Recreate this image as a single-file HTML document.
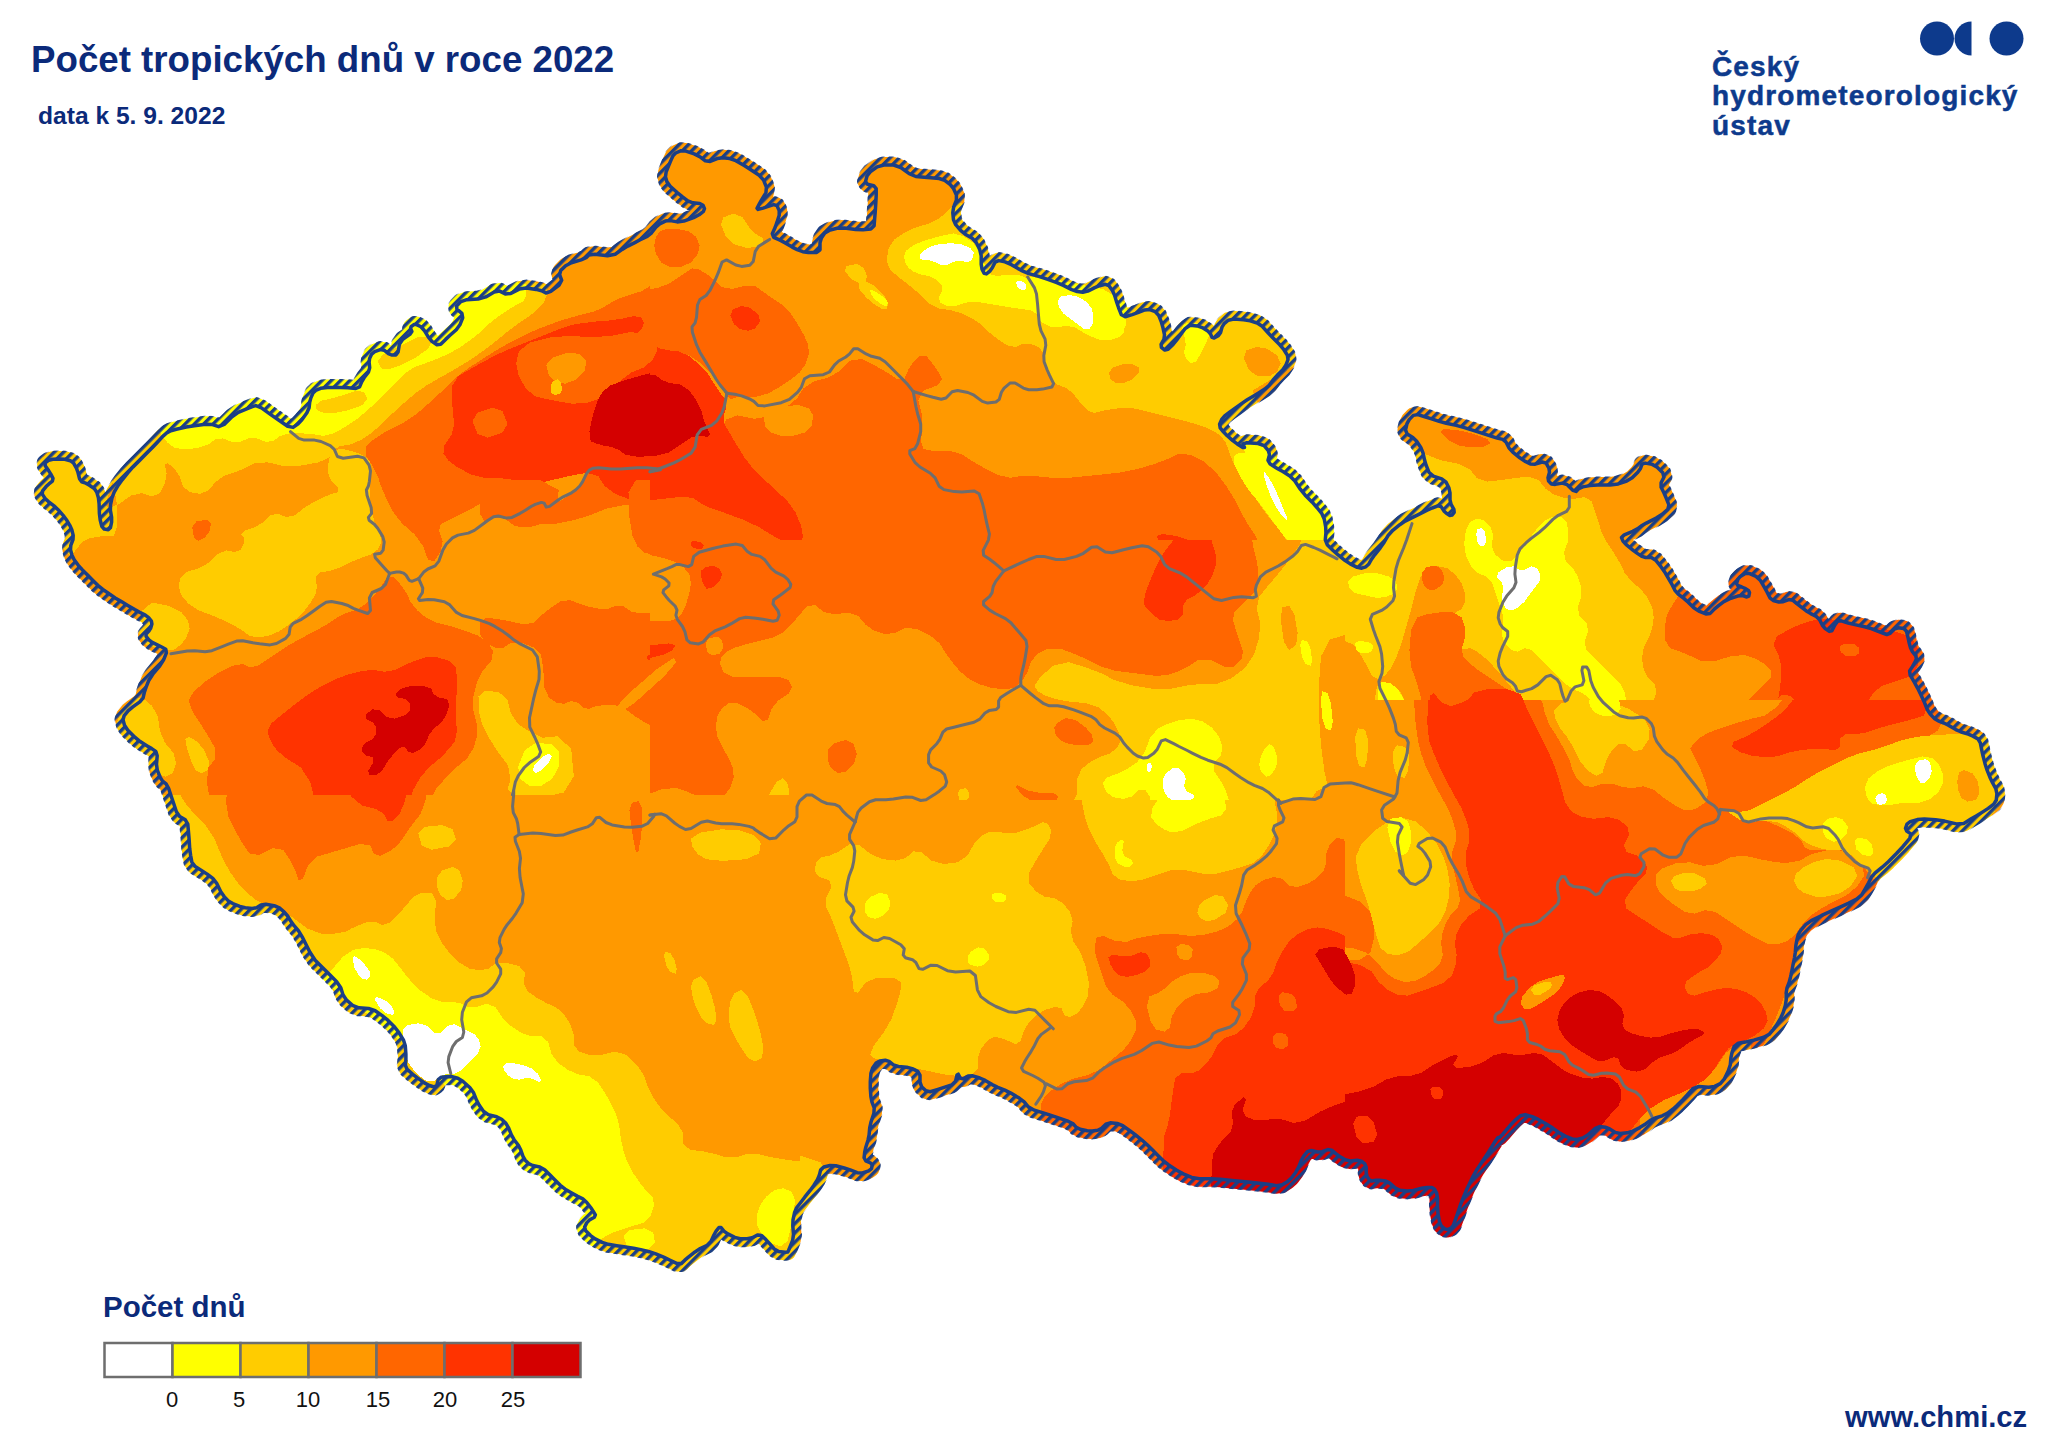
<!DOCTYPE html>
<html><head><meta charset="utf-8"><title>Počet tropických dnů v roce 2022</title>
<style>
html,body{margin:0;padding:0;background:#fff;}
body{width:2048px;height:1449px;position:relative;overflow:hidden;font-family:"Liberation Sans",sans-serif;color:#0b2a7a;}
.t{position:absolute;white-space:nowrap;font-weight:bold;line-height:1;}
#title{left:31px;top:42px;font-size:36.7px;}
#sub{left:38px;top:103.5px;font-size:24.6px;}
#logo{-webkit-text-stroke:0.5px #0d3a8c;left:1712px;top:52px;font-size:28px;line-height:29.3px;letter-spacing:1.15px;color:#0d3a8c;}
#leg{left:103px;top:1292px;font-size:29.5px;}
#www{left:1845px;top:1402.5px;font-size:29.2px;}
.n{position:absolute;top:1388.5px;font-size:22px;color:#111;font-weight:normal;line-height:1;transform:translateX(-50%);}
svg{position:absolute;left:0;top:0;}
</style></head><body>
<svg width="2048" height="1449" viewBox="0 0 2048 1449">
<defs>
<pattern id="hatch" width="6.6" height="6.6" patternUnits="userSpaceOnUse" patternTransform="rotate(-45)">
<rect x="0" y="0" width="6.6" height="3.4" fill="#1b3f86"/>
</pattern>
<mask id="mfill" maskUnits="userSpaceOnUse" x="0" y="0" width="2048" height="1449">
<polygon points="166.4,652.8 165.8,649.2 161.7,647 157.8,645.1 152.2,642.3 148.9,639.8 146.1,636.4 146.1,633.9 148.9,631.1 150.6,628.4 151.9,624.1 151.4,621.1 148.6,617.6 145.3,615.1 139.7,612.3 134.8,609.6 127.8,605.4 122.2,602.1 115.2,597.9 109.8,594.3 102.8,589.4 97.8,585.3 92.2,579.7 87.8,575.3 82.2,569.7 78.3,565.3 74.2,559.7 72,555.3 70.5,549.7 70.8,545.3 73,539.7 73.2,535.3 71.8,529.7 69.8,525.3 66.4,519.7 63.1,515.3 58.1,509.7 54,505.9 48.4,501.6 45.1,498.4 42.3,494.1 42.6,490.9 46.1,486.6 48.9,483.9 52.4,481.1 53,478.4 50.8,474.1 48.6,470.6 45.2,465.7 45.2,462.9 48.6,460.4 52.8,459.3 59.8,459 64.7,459.3 70.3,460.7 73.6,463.1 76.4,468.1 78,472.5 79.5,478.7 81.7,481.8 85.8,483.2 89.4,485.2 94.3,488.6 96.8,492.2 98.4,497.8 99.1,503.9 99.4,513.6 100.2,520 101.8,526.3 104.2,529.1 108.3,529.7 110.4,527.8 111.6,522.2 111.6,517.2 110.4,510.2 110.5,504.8 112,497.8 114.2,492.2 118.3,485.2 122.2,479.8 127.8,472.8 132.8,467.2 139.8,460.2 145.2,454.8 152.2,447.8 157.2,442.5 162.8,436.3 166.7,433 170.8,430.8 176.3,429.2 186.2,427 194.4,425.7 205.6,424.3 212.5,424.6 218.7,426.7 224.2,424.5 232,416.8 238.3,412.4 246.7,408.9 251.7,406.9 255.8,405.6 261.4,407.8 271.1,414.8 278.6,420 287.6,426.3 293.1,427.4 298.1,423.9 301.9,419.8 306.9,412.8 309.1,407.8 309.7,402.2 310.8,398.1 313,393.1 315.7,390.4 320.6,388.3 327.4,387.5 340.1,387.5 348,387.8 355.8,388.5 359.6,386.9 361.7,381.9 364.1,377.8 368.4,372.2 369.7,367.8 369.1,362.2 369.6,358.4 371.7,354.1 374.7,351.7 380.3,349.6 384.1,350.2 388.4,353.6 391.6,355 395.9,355 398.1,352 399.4,344.2 402.8,339.3 409.8,334.4 411.9,331.4 410.6,328.6 411.1,326.7 413.9,324.6 416.6,324.6 420.9,326.7 424.1,330.2 428.4,337.2 431.9,341.4 436.9,344.8 440.7,344.3 445.6,339.4 450,335.3 456.3,329.7 459.9,324.8 462.7,317.8 461.9,313.4 456.9,309.1 456.6,305.9 460.9,301.6 466.9,299.7 478.1,299.1 485.8,296.9 494.2,291.9 499.7,291.1 505.3,293.9 510.8,293.4 519.2,289.1 526.4,288.1 536.1,289.4 541.6,290.8 545.9,293 550.8,291.3 559.2,285 561.7,280.3 559.6,274.7 560.7,270.6 565.6,265.7 571.4,262.7 581.1,259.9 586.1,257.7 588.9,254.9 595,254.3 607.5,255.7 615.2,254.3 622.2,249.4 627.8,246.1 634.8,242.6 640.2,239.8 647.2,236.4 651.6,232.8 655.9,227.2 659.7,223.9 665.3,221.1 670.2,220.6 677.2,221.9 683.9,221.1 693.6,217.6 699.1,214.8 703.4,211.4 704.5,208.6 703,205.2 699.8,203.5 692.8,202.8 687.8,200.8 682.2,196.7 677.2,192.5 670.2,186.3 667,181.9 665.5,176.9 666.1,172.2 668.9,165.2 670.8,160.6 673,155.7 675.7,153 680.6,150.8 685.8,151.1 694.2,153.9 699.7,156.7 705.3,160.8 710.2,161.4 717.2,158.6 722.8,157.8 729.8,158.5 735.8,160.7 744.2,165.6 750.8,169.7 759.2,175.3 763.6,180.2 766.4,187.2 765.9,192.8 761.6,199.8 759.2,204.2 757,208.3 758.1,209.4 763.1,208.1 767.5,206.7 773.7,204.6 777,205.7 779.2,210.6 779.2,215.2 777,222.2 775.1,227.5 772.3,233.7 773.7,237.3 780,240.1 785.2,242.9 792.2,247.1 797.2,249.6 802.8,251.7 808.3,252.5 816.7,252.5 820,249.8 820,242.8 821.4,238.1 824.8,233.1 829.2,230.4 837,228.3 844.4,228.1 855.6,229.4 863,229.7 870.8,229.1 874.1,225.8 874.7,218 875.3,211.2 875.9,201.3 876.2,195 876.2,188.7 873.7,185.7 867.5,184.3 865.5,181.6 867,176 870.2,171.9 877.2,166.9 883.9,165 893.6,165 900.8,167.5 909.2,173.7 915.8,176.5 924.2,177.2 930.8,177.8 939.2,178.5 944.7,180.4 950.3,184.6 953.6,188.7 956.4,195 956.4,200.2 953.6,207.2 952.8,212.8 953.5,219.8 955.7,224.7 960.6,230.3 965.2,234.2 972.2,238.3 976.4,242.8 979.8,249.8 981.2,255.8 981.2,264.2 982,269.1 984.2,273.4 986.4,273.9 989.8,271.1 992.3,267.8 995.1,262.2 998.7,260.6 1005,261.9 1011.4,264.7 1021.1,270.3 1028.8,273.6 1038.7,276.4 1046.3,278.9 1056.2,282.4 1063.3,285.4 1071.7,289.6 1077.2,291.5 1082.8,292.2 1087.8,291.1 1094.8,287.6 1099.7,285.7 1105.3,284.3 1108.9,285.7 1112.4,290.6 1114.6,295.2 1116.7,302.2 1118.6,307.8 1121.4,314.8 1125.2,316.7 1132.2,314.6 1137.8,312.7 1144.8,309.9 1149.7,309.6 1155.3,311.7 1158.6,315.2 1161.4,322.2 1163,327.8 1164.5,334.8 1163.9,339.4 1161.1,344.3 1161.4,347.3 1164.8,350.1 1168.1,349.3 1173.1,344.4 1177.8,338.6 1184.8,328.9 1190.2,325.3 1197.2,325.9 1202.2,327.6 1207.8,331.1 1210.5,333.9 1212,337.4 1214.2,338 1218.3,335.8 1220.5,332.8 1222,327.2 1224.2,323.6 1228.3,320.2 1233.8,319.1 1243.7,319.7 1250.2,320.8 1257.2,323 1262.2,326.3 1267.8,332.5 1272.8,337.8 1279.8,344.8 1283.9,349.7 1287.4,355.3 1288,359.7 1285.8,365.3 1282.8,369.7 1277.2,375.3 1273.3,379.7 1269.2,385.3 1264.8,389.1 1257.8,393.4 1252.8,396.4 1247.2,399.8 1242.2,403.1 1235.2,408.1 1230.3,411.6 1224.7,415.9 1221.7,419.4 1219.6,424.3 1220.2,427.9 1223.6,432.1 1227.2,435.7 1232.8,440.6 1237.2,443.9 1242.8,447.4 1244.5,447.4 1243,443.9 1246.9,442.8 1258.1,443.5 1264.2,445.7 1268.3,450.6 1269.5,454.7 1268,460.3 1270.2,464.1 1277.2,468.4 1282.8,471.6 1289.8,475.9 1294.7,480.8 1300.3,489.2 1305.2,495.2 1312.2,502.2 1316.9,507.5 1321.9,513.7 1324.3,519.2 1325.7,527 1325.9,532.8 1325.3,539.8 1327.2,544.7 1332.8,550.3 1337.8,554.7 1344.8,560.3 1350.2,563.9 1357.2,567.4 1361.7,568.2 1365.8,566.8 1368.6,564.3 1371.4,559.4 1374.7,554.8 1380.3,547.8 1384.2,542.2 1388.3,535.2 1392.8,530.3 1399.8,524.7 1405.2,521.1 1412.2,517.6 1418.3,514.6 1426.7,510.4 1432.2,508 1437.8,505.8 1441.1,506.6 1443.9,510.9 1446.4,513.3 1449.8,515.4 1452,515.1 1454.2,512.3 1453.9,509.3 1451.1,504.4 1450,499.8 1450,492.8 1448.9,487.8 1446.1,482.2 1441.7,478.9 1433.3,476.1 1428.9,472.2 1426.1,465.2 1424.5,459.8 1423,452.8 1420.8,447.5 1416.7,441.3 1412.8,437.4 1407.2,433.9 1405.5,430 1407,423.7 1409.2,419.6 1413.3,415.4 1417.8,414.6 1424.8,416.7 1430.8,418.6 1439.2,421.4 1446.3,423.3 1456.2,425.4 1464.4,427.6 1475.6,431.1 1483.3,433.6 1491.7,436.4 1497.2,438.1 1502.8,439.4 1506.1,442.2 1508.9,447.8 1512.8,452.2 1519.8,457.8 1524.7,461.1 1530.3,463.9 1535.2,464.2 1542.2,462 1546.1,463.1 1548.9,468.1 1549.5,472.2 1548,477.8 1548.6,481.1 1551.4,483.9 1555.2,484.4 1562.2,483.1 1567.2,484.7 1572.8,490.3 1576.1,491.4 1578.9,488.6 1582.8,486.9 1589.8,485.6 1597.5,485 1610,485 1618.3,483.9 1626.7,481.1 1632.2,477.8 1637.8,472.2 1640.5,468.4 1642,464.1 1645.2,463.1 1652.2,464.4 1657.2,467.2 1662.8,472.8 1663.9,477.2 1661.1,482.8 1661.1,487.2 1663.9,492.8 1666.1,497.8 1668.9,504.8 1667.8,509.4 1662.2,514.3 1656.2,518.1 1646.3,523.1 1641.1,526.1 1637.4,528.9 1632.7,531.4 1624.3,534.8 1621.5,537.6 1623,541.1 1626.2,544.7 1633.2,550.3 1637.7,553.6 1641.8,556.4 1645.7,557.5 1651.3,557.5 1655.7,560.2 1661.3,567.2 1665.2,572.8 1669.3,579.8 1672.1,584.7 1674.9,590.3 1678.2,594.1 1683.8,598.4 1688.2,602.2 1693.8,607.8 1698.8,611.1 1705.8,613.9 1710.2,613.4 1714.3,609.1 1718.2,605.9 1723.8,601.6 1729.3,598.9 1737.7,596.1 1742.7,595.5 1746.8,597 1748.8,596.1 1749.5,592.6 1748.4,590.4 1744.9,588.3 1741.8,587 1737.7,585.5 1736.5,583.4 1738,579.1 1740.4,576.4 1745.3,573.6 1749.7,573.6 1756,576.4 1760.2,580.2 1764.3,587.2 1767.1,592.2 1769.9,597.8 1773.2,600.5 1778.8,602 1783.2,601.7 1788.8,599.6 1792.7,600.2 1796.8,603.6 1800.7,606.6 1806.3,610.9 1810.7,613.6 1816.3,616.4 1819.6,619.7 1822.4,625.3 1825.2,628.6 1829.3,631.4 1831.8,630.9 1834,626.6 1835.6,623.9 1837.7,621.1 1841.2,620.8 1848.2,623 1854.8,624.6 1864.7,626.7 1871.2,628.6 1878.2,631.4 1882.7,633 1886.8,634.5 1890.2,633.4 1894.3,629.1 1898.2,627.8 1903.8,628.5 1906.5,631.3 1908,637.5 1909,642.2 1910.5,647.8 1912.4,651.6 1915.8,655.9 1916.4,659.1 1914.3,663.4 1912.4,666.6 1909.6,670.9 1910.2,675.2 1914.3,682.2 1917.7,688.3 1921.8,696.7 1924.6,702.8 1927.4,709.8 1930.2,714.1 1934.3,718.4 1938.2,720.8 1943.8,723 1948.8,725.4 1955.8,729.6 1961.2,732 1968.2,734.2 1972.9,736.1 1977.9,738.9 1980.3,742.8 1981.7,749.8 1983,755.8 1985.2,764.2 1987.1,770.2 1989.9,777.2 1992.4,782.5 1995.8,788.7 1996.9,793.7 1996.3,800 1993.8,804.1 1988.2,808.4 1983.2,811.6 1976.2,815.9 1970.8,819.1 1963.8,823.4 1956.4,823.9 1944.6,821.1 1935.6,819.7 1924.4,819.1 1917.2,819.6 1910.2,821.7 1907,824.1 1905.5,828.4 1906.7,831.1 1910.8,833.9 1909.8,838.3 1902.8,846.7 1896.7,853.3 1888.3,861.7 1882.2,867.2 1875.2,872.8 1871.4,877.2 1868.6,882.8 1865.8,887.8 1861.7,894.8 1856.7,899.1 1848.3,903.4 1840.6,906.9 1829.4,911.9 1821.2,915.7 1811.3,920.6 1805.6,924.7 1800.7,930.3 1798.2,934.7 1796.8,940.3 1795.9,945.2 1795.3,952.2 1794.5,957.8 1793,964.8 1792,970.2 1790.5,977.2 1789.2,982.2 1787,987.8 1786.2,992.8 1786.2,999.8 1785.4,1005.2 1783.3,1012.2 1780.8,1017.8 1776.7,1024.8 1773.3,1029.4 1769.2,1034.3 1763.7,1037.3 1753.8,1040.1 1746.7,1041.8 1738.3,1043.2 1734.2,1046.3 1732,1052.5 1730.9,1057.8 1730.3,1064.8 1728.3,1070.8 1724.2,1079.2 1720.3,1083.6 1714.7,1086.4 1708.7,1087.2 1698.8,1086.5 1692.8,1088.7 1687.2,1095 1682.8,1099.7 1677.2,1105.3 1672.8,1109.2 1667.2,1113.3 1662.2,1115.8 1655.2,1118 1650.3,1120.4 1644.7,1124.6 1639.8,1127.6 1632.8,1131.1 1627.2,1132.8 1620.2,1133.5 1615.3,1132.4 1609.7,1128.9 1605.3,1127.2 1599.7,1126.5 1594.8,1128.7 1587.8,1135 1582.8,1138 1577.2,1139.5 1572.2,1138.9 1565.2,1136.1 1559.8,1133.1 1552.8,1128.1 1546.7,1124.3 1538.3,1119.4 1532.2,1116.7 1525.2,1114.6 1520.3,1115.7 1514.7,1120.6 1509.8,1125.8 1502.8,1134.2 1499.5,1137.5 1498,1137.5 1494.8,1141.9 1487.8,1153.1 1482.8,1160.8 1477.2,1169.2 1473.3,1175.8 1469.2,1184.2 1466.1,1190.8 1462.6,1199.2 1460.1,1205.8 1457.3,1214.2 1455.4,1219.7 1453.3,1225.3 1451.1,1228 1447.6,1229.5 1444.8,1228.9 1441.4,1226.1 1439.5,1221.7 1438,1213.3 1437.5,1206.7 1437.5,1198.3 1436.7,1193.3 1434.6,1189.2 1431.9,1187.5 1426.9,1187.5 1421.7,1188.3 1413.3,1190.4 1407.2,1190.9 1400.2,1190.3 1395.3,1188.1 1389.7,1183.1 1385.3,1180.9 1379.7,1180.3 1375.8,1180.3 1371.7,1180.9 1369.2,1179.8 1367,1176.4 1366.2,1172.8 1366.2,1167.2 1364.8,1163.9 1361.4,1161.1 1357.2,1160.3 1350.2,1160.9 1345.3,1159.8 1339.7,1156.4 1335.8,1153.6 1331.7,1150.2 1327.8,1149.6 1322.2,1151.7 1317.5,1152 1311.3,1150.5 1307.4,1151.7 1303.9,1155.8 1301.4,1160.2 1298.6,1167.2 1295.8,1172.2 1291.7,1177.8 1287.8,1181.4 1282.2,1184.8 1276.7,1185.7 1268.3,1184.3 1259.5,1183.2 1245.5,1181.8 1234.5,1180.7 1220.5,1179.3 1210.6,1178.8 1199.4,1178.8 1191.7,1177.4 1183.3,1173.9 1176.7,1170.3 1168.3,1164.7 1162.8,1160.3 1157.2,1154.7 1152.8,1150.3 1147.2,1144.7 1142.2,1140.3 1135.2,1134.7 1129.8,1130.6 1122.8,1125.7 1117.2,1123.5 1110.2,1122.8 1105.8,1124.2 1101.7,1128.3 1097.8,1130.3 1092.2,1130.9 1087.2,1130.7 1080.2,1129.3 1076.3,1127.4 1073.2,1123.9 1067.2,1120.8 1054.8,1116.7 1045.6,1113.6 1034.4,1110.2 1028.3,1106.9 1024.2,1101.9 1019.2,1098.1 1010.8,1093.1 1004.8,1090.1 997.8,1087.3 992.2,1084.6 985.2,1080.4 979.8,1078 972.8,1075.8 968.1,1076.1 963.1,1078.9 960.4,1078.3 958.3,1074.2 957,1075 955.5,1081.3 951.7,1084.9 943.3,1087.7 937.2,1089.6 930.2,1091.7 925.9,1090.8 921.6,1086.7 920,1082.2 920,1075.2 917.8,1071.4 912.2,1068.6 906.7,1067.2 898.3,1066.5 893.4,1064.8 889.1,1061.4 885.3,1060.3 879.7,1060.9 876.1,1063.1 872.6,1068.1 870.9,1073.3 870.3,1081.7 870.3,1088.3 870.9,1096.7 872,1102.2 874.2,1107.8 873.9,1113.3 871.1,1121.7 869.7,1127.8 869.1,1134.8 868,1140.2 865.8,1147.2 864.7,1152.2 864.1,1157.8 865.7,1160.8 870.6,1163 872.2,1165.2 871.5,1168.6 868.7,1170.8 862.5,1173 857.2,1172.7 850.2,1169.9 844.2,1168 835.8,1165.8 830,1165.5 823.7,1167 820.7,1169.7 819.3,1175.3 817.4,1179.7 813.9,1185.3 810.3,1190.2 804.7,1197.2 800.9,1202.2 796.6,1207.8 794.5,1212.8 793,1219.8 792.8,1225.8 793.5,1234.2 792.7,1240.2 789.9,1247.2 788.5,1250.5 787.8,1252 785,1252.2 778.7,1251.5 774.3,1249 769.4,1243.4 765.9,1239.6 761.6,1235.4 757.8,1234.9 752.2,1237.7 747.2,1238.8 740.2,1238.8 734.8,1237.4 727.8,1233.9 723.9,1231.1 721.1,1227.6 718.9,1227.6 716.1,1231.1 713.9,1235 711.1,1241.3 707.2,1245.2 700.2,1248.6 695,1251.9 688.7,1256.9 684.8,1260.2 681.4,1263.6 677.2,1263.6 670.2,1260.2 664.2,1257.4 655.8,1253.9 649.2,1251.7 640.8,1249.6 633.6,1248.2 623.9,1246.8 616.7,1245.7 608.3,1244.3 602.2,1242.4 595.2,1238.9 590.6,1235.6 585.7,1230.7 584.6,1227.1 586.7,1222.9 589.4,1220.1 594.3,1217.3 595.4,1214.8 593.3,1211.4 590.9,1207.8 586.6,1202.2 582.8,1198.9 577.2,1196.1 572.2,1193.3 565.2,1189.2 560.3,1185.3 554.7,1179.7 550.3,1175.3 544.7,1169.7 539.8,1167 532.8,1165.5 528.6,1163.6 525.2,1160.2 523,1156.3 520.8,1150 518.4,1145.3 514.1,1139.7 511.4,1134.8 508.6,1127.8 505.9,1123.3 501.6,1119.2 496.7,1116.7 488.3,1114.6 483.4,1111.3 479.1,1105 476.4,1099.8 473.6,1092.8 469.8,1087.5 462.8,1081.3 457.8,1078.2 452.2,1076.8 447.5,1076.5 441.3,1077.2 438.2,1079.7 436.8,1085.3 434.3,1087 429.4,1085.5 424.8,1083.1 417.8,1078.1 412.8,1074.3 407.2,1069.4 405.3,1065.3 405.9,1059.7 405.9,1054.2 405.3,1045.8 403.4,1039.8 399.1,1032.8 394.8,1027.2 387.8,1020.2 382.2,1015.6 375.2,1010.7 368.6,1008.5 358.9,1007.8 352.5,1005.3 346.3,999.7 343,994.8 340.8,987.8 336.7,981.7 328.3,973.3 322.2,967.2 315.2,960.2 309.8,952 302.8,938 298.4,930.6 294.1,925.7 291.1,921.6 287.6,916 284.3,912.1 279.4,907.9 274.2,905.7 265.8,904.3 260.9,904.9 256.6,907.7 252.2,908.5 245.2,907.8 239.8,906.4 232.8,903.6 228.3,900.9 224.2,896.6 220.8,891.7 216.7,883.3 212.8,878.4 207.2,874.1 202.2,870.9 195.2,866.6 191.9,862.2 190.6,855.2 189.7,848.6 189.1,838.9 188.5,832 187.8,824.2 185.3,819.8 179.7,816.4 176.4,811.7 173.6,803.3 171.4,796.7 168.6,788.3 166.1,783.9 162.6,781.1 160.1,777.2 157.3,770.2 156.5,764.2 157.2,755.8 155.8,751.4 151.7,748.6 147.2,745.9 140.2,741.6 134.8,737.2 127.8,730.2 124.5,725.3 123,719.7 124.2,715.6 128.3,710.7 132.8,706.9 139.8,701.9 143.1,697.8 144.4,692.2 146.1,687.2 148.9,680.2 152.8,674.2 159.8,665.8 163.6,659.8" fill="#fff" stroke="#fff" stroke-width="16" stroke-linejoin="round"/>
</mask>
<mask id="mout" maskUnits="userSpaceOnUse" x="0" y="0" width="2048" height="1449">
<rect width="2048" height="1449" fill="#fff"/><polygon points="166.4,652.8 165.8,649.2 161.7,647 157.8,645.1 152.2,642.3 148.9,639.8 146.1,636.4 146.1,633.9 148.9,631.1 150.6,628.4 151.9,624.1 151.4,621.1 148.6,617.6 145.3,615.1 139.7,612.3 134.8,609.6 127.8,605.4 122.2,602.1 115.2,597.9 109.8,594.3 102.8,589.4 97.8,585.3 92.2,579.7 87.8,575.3 82.2,569.7 78.3,565.3 74.2,559.7 72,555.3 70.5,549.7 70.8,545.3 73,539.7 73.2,535.3 71.8,529.7 69.8,525.3 66.4,519.7 63.1,515.3 58.1,509.7 54,505.9 48.4,501.6 45.1,498.4 42.3,494.1 42.6,490.9 46.1,486.6 48.9,483.9 52.4,481.1 53,478.4 50.8,474.1 48.6,470.6 45.2,465.7 45.2,462.9 48.6,460.4 52.8,459.3 59.8,459 64.7,459.3 70.3,460.7 73.6,463.1 76.4,468.1 78,472.5 79.5,478.7 81.7,481.8 85.8,483.2 89.4,485.2 94.3,488.6 96.8,492.2 98.4,497.8 99.1,503.9 99.4,513.6 100.2,520 101.8,526.3 104.2,529.1 108.3,529.7 110.4,527.8 111.6,522.2 111.6,517.2 110.4,510.2 110.5,504.8 112,497.8 114.2,492.2 118.3,485.2 122.2,479.8 127.8,472.8 132.8,467.2 139.8,460.2 145.2,454.8 152.2,447.8 157.2,442.5 162.8,436.3 166.7,433 170.8,430.8 176.3,429.2 186.2,427 194.4,425.7 205.6,424.3 212.5,424.6 218.7,426.7 224.2,424.5 232,416.8 238.3,412.4 246.7,408.9 251.7,406.9 255.8,405.6 261.4,407.8 271.1,414.8 278.6,420 287.6,426.3 293.1,427.4 298.1,423.9 301.9,419.8 306.9,412.8 309.1,407.8 309.7,402.2 310.8,398.1 313,393.1 315.7,390.4 320.6,388.3 327.4,387.5 340.1,387.5 348,387.8 355.8,388.5 359.6,386.9 361.7,381.9 364.1,377.8 368.4,372.2 369.7,367.8 369.1,362.2 369.6,358.4 371.7,354.1 374.7,351.7 380.3,349.6 384.1,350.2 388.4,353.6 391.6,355 395.9,355 398.1,352 399.4,344.2 402.8,339.3 409.8,334.4 411.9,331.4 410.6,328.6 411.1,326.7 413.9,324.6 416.6,324.6 420.9,326.7 424.1,330.2 428.4,337.2 431.9,341.4 436.9,344.8 440.7,344.3 445.6,339.4 450,335.3 456.3,329.7 459.9,324.8 462.7,317.8 461.9,313.4 456.9,309.1 456.6,305.9 460.9,301.6 466.9,299.7 478.1,299.1 485.8,296.9 494.2,291.9 499.7,291.1 505.3,293.9 510.8,293.4 519.2,289.1 526.4,288.1 536.1,289.4 541.6,290.8 545.9,293 550.8,291.3 559.2,285 561.7,280.3 559.6,274.7 560.7,270.6 565.6,265.7 571.4,262.7 581.1,259.9 586.1,257.7 588.9,254.9 595,254.3 607.5,255.7 615.2,254.3 622.2,249.4 627.8,246.1 634.8,242.6 640.2,239.8 647.2,236.4 651.6,232.8 655.9,227.2 659.7,223.9 665.3,221.1 670.2,220.6 677.2,221.9 683.9,221.1 693.6,217.6 699.1,214.8 703.4,211.4 704.5,208.6 703,205.2 699.8,203.5 692.8,202.8 687.8,200.8 682.2,196.7 677.2,192.5 670.2,186.3 667,181.9 665.5,176.9 666.1,172.2 668.9,165.2 670.8,160.6 673,155.7 675.7,153 680.6,150.8 685.8,151.1 694.2,153.9 699.7,156.7 705.3,160.8 710.2,161.4 717.2,158.6 722.8,157.8 729.8,158.5 735.8,160.7 744.2,165.6 750.8,169.7 759.2,175.3 763.6,180.2 766.4,187.2 765.9,192.8 761.6,199.8 759.2,204.2 757,208.3 758.1,209.4 763.1,208.1 767.5,206.7 773.7,204.6 777,205.7 779.2,210.6 779.2,215.2 777,222.2 775.1,227.5 772.3,233.7 773.7,237.3 780,240.1 785.2,242.9 792.2,247.1 797.2,249.6 802.8,251.7 808.3,252.5 816.7,252.5 820,249.8 820,242.8 821.4,238.1 824.8,233.1 829.2,230.4 837,228.3 844.4,228.1 855.6,229.4 863,229.7 870.8,229.1 874.1,225.8 874.7,218 875.3,211.2 875.9,201.3 876.2,195 876.2,188.7 873.7,185.7 867.5,184.3 865.5,181.6 867,176 870.2,171.9 877.2,166.9 883.9,165 893.6,165 900.8,167.5 909.2,173.7 915.8,176.5 924.2,177.2 930.8,177.8 939.2,178.5 944.7,180.4 950.3,184.6 953.6,188.7 956.4,195 956.4,200.2 953.6,207.2 952.8,212.8 953.5,219.8 955.7,224.7 960.6,230.3 965.2,234.2 972.2,238.3 976.4,242.8 979.8,249.8 981.2,255.8 981.2,264.2 982,269.1 984.2,273.4 986.4,273.9 989.8,271.1 992.3,267.8 995.1,262.2 998.7,260.6 1005,261.9 1011.4,264.7 1021.1,270.3 1028.8,273.6 1038.7,276.4 1046.3,278.9 1056.2,282.4 1063.3,285.4 1071.7,289.6 1077.2,291.5 1082.8,292.2 1087.8,291.1 1094.8,287.6 1099.7,285.7 1105.3,284.3 1108.9,285.7 1112.4,290.6 1114.6,295.2 1116.7,302.2 1118.6,307.8 1121.4,314.8 1125.2,316.7 1132.2,314.6 1137.8,312.7 1144.8,309.9 1149.7,309.6 1155.3,311.7 1158.6,315.2 1161.4,322.2 1163,327.8 1164.5,334.8 1163.9,339.4 1161.1,344.3 1161.4,347.3 1164.8,350.1 1168.1,349.3 1173.1,344.4 1177.8,338.6 1184.8,328.9 1190.2,325.3 1197.2,325.9 1202.2,327.6 1207.8,331.1 1210.5,333.9 1212,337.4 1214.2,338 1218.3,335.8 1220.5,332.8 1222,327.2 1224.2,323.6 1228.3,320.2 1233.8,319.1 1243.7,319.7 1250.2,320.8 1257.2,323 1262.2,326.3 1267.8,332.5 1272.8,337.8 1279.8,344.8 1283.9,349.7 1287.4,355.3 1288,359.7 1285.8,365.3 1282.8,369.7 1277.2,375.3 1273.3,379.7 1269.2,385.3 1264.8,389.1 1257.8,393.4 1252.8,396.4 1247.2,399.8 1242.2,403.1 1235.2,408.1 1230.3,411.6 1224.7,415.9 1221.7,419.4 1219.6,424.3 1220.2,427.9 1223.6,432.1 1227.2,435.7 1232.8,440.6 1237.2,443.9 1242.8,447.4 1244.5,447.4 1243,443.9 1246.9,442.8 1258.1,443.5 1264.2,445.7 1268.3,450.6 1269.5,454.7 1268,460.3 1270.2,464.1 1277.2,468.4 1282.8,471.6 1289.8,475.9 1294.7,480.8 1300.3,489.2 1305.2,495.2 1312.2,502.2 1316.9,507.5 1321.9,513.7 1324.3,519.2 1325.7,527 1325.9,532.8 1325.3,539.8 1327.2,544.7 1332.8,550.3 1337.8,554.7 1344.8,560.3 1350.2,563.9 1357.2,567.4 1361.7,568.2 1365.8,566.8 1368.6,564.3 1371.4,559.4 1374.7,554.8 1380.3,547.8 1384.2,542.2 1388.3,535.2 1392.8,530.3 1399.8,524.7 1405.2,521.1 1412.2,517.6 1418.3,514.6 1426.7,510.4 1432.2,508 1437.8,505.8 1441.1,506.6 1443.9,510.9 1446.4,513.3 1449.8,515.4 1452,515.1 1454.2,512.3 1453.9,509.3 1451.1,504.4 1450,499.8 1450,492.8 1448.9,487.8 1446.1,482.2 1441.7,478.9 1433.3,476.1 1428.9,472.2 1426.1,465.2 1424.5,459.8 1423,452.8 1420.8,447.5 1416.7,441.3 1412.8,437.4 1407.2,433.9 1405.5,430 1407,423.7 1409.2,419.6 1413.3,415.4 1417.8,414.6 1424.8,416.7 1430.8,418.6 1439.2,421.4 1446.3,423.3 1456.2,425.4 1464.4,427.6 1475.6,431.1 1483.3,433.6 1491.7,436.4 1497.2,438.1 1502.8,439.4 1506.1,442.2 1508.9,447.8 1512.8,452.2 1519.8,457.8 1524.7,461.1 1530.3,463.9 1535.2,464.2 1542.2,462 1546.1,463.1 1548.9,468.1 1549.5,472.2 1548,477.8 1548.6,481.1 1551.4,483.9 1555.2,484.4 1562.2,483.1 1567.2,484.7 1572.8,490.3 1576.1,491.4 1578.9,488.6 1582.8,486.9 1589.8,485.6 1597.5,485 1610,485 1618.3,483.9 1626.7,481.1 1632.2,477.8 1637.8,472.2 1640.5,468.4 1642,464.1 1645.2,463.1 1652.2,464.4 1657.2,467.2 1662.8,472.8 1663.9,477.2 1661.1,482.8 1661.1,487.2 1663.9,492.8 1666.1,497.8 1668.9,504.8 1667.8,509.4 1662.2,514.3 1656.2,518.1 1646.3,523.1 1641.1,526.1 1637.4,528.9 1632.7,531.4 1624.3,534.8 1621.5,537.6 1623,541.1 1626.2,544.7 1633.2,550.3 1637.7,553.6 1641.8,556.4 1645.7,557.5 1651.3,557.5 1655.7,560.2 1661.3,567.2 1665.2,572.8 1669.3,579.8 1672.1,584.7 1674.9,590.3 1678.2,594.1 1683.8,598.4 1688.2,602.2 1693.8,607.8 1698.8,611.1 1705.8,613.9 1710.2,613.4 1714.3,609.1 1718.2,605.9 1723.8,601.6 1729.3,598.9 1737.7,596.1 1742.7,595.5 1746.8,597 1748.8,596.1 1749.5,592.6 1748.4,590.4 1744.9,588.3 1741.8,587 1737.7,585.5 1736.5,583.4 1738,579.1 1740.4,576.4 1745.3,573.6 1749.7,573.6 1756,576.4 1760.2,580.2 1764.3,587.2 1767.1,592.2 1769.9,597.8 1773.2,600.5 1778.8,602 1783.2,601.7 1788.8,599.6 1792.7,600.2 1796.8,603.6 1800.7,606.6 1806.3,610.9 1810.7,613.6 1816.3,616.4 1819.6,619.7 1822.4,625.3 1825.2,628.6 1829.3,631.4 1831.8,630.9 1834,626.6 1835.6,623.9 1837.7,621.1 1841.2,620.8 1848.2,623 1854.8,624.6 1864.7,626.7 1871.2,628.6 1878.2,631.4 1882.7,633 1886.8,634.5 1890.2,633.4 1894.3,629.1 1898.2,627.8 1903.8,628.5 1906.5,631.3 1908,637.5 1909,642.2 1910.5,647.8 1912.4,651.6 1915.8,655.9 1916.4,659.1 1914.3,663.4 1912.4,666.6 1909.6,670.9 1910.2,675.2 1914.3,682.2 1917.7,688.3 1921.8,696.7 1924.6,702.8 1927.4,709.8 1930.2,714.1 1934.3,718.4 1938.2,720.8 1943.8,723 1948.8,725.4 1955.8,729.6 1961.2,732 1968.2,734.2 1972.9,736.1 1977.9,738.9 1980.3,742.8 1981.7,749.8 1983,755.8 1985.2,764.2 1987.1,770.2 1989.9,777.2 1992.4,782.5 1995.8,788.7 1996.9,793.7 1996.3,800 1993.8,804.1 1988.2,808.4 1983.2,811.6 1976.2,815.9 1970.8,819.1 1963.8,823.4 1956.4,823.9 1944.6,821.1 1935.6,819.7 1924.4,819.1 1917.2,819.6 1910.2,821.7 1907,824.1 1905.5,828.4 1906.7,831.1 1910.8,833.9 1909.8,838.3 1902.8,846.7 1896.7,853.3 1888.3,861.7 1882.2,867.2 1875.2,872.8 1871.4,877.2 1868.6,882.8 1865.8,887.8 1861.7,894.8 1856.7,899.1 1848.3,903.4 1840.6,906.9 1829.4,911.9 1821.2,915.7 1811.3,920.6 1805.6,924.7 1800.7,930.3 1798.2,934.7 1796.8,940.3 1795.9,945.2 1795.3,952.2 1794.5,957.8 1793,964.8 1792,970.2 1790.5,977.2 1789.2,982.2 1787,987.8 1786.2,992.8 1786.2,999.8 1785.4,1005.2 1783.3,1012.2 1780.8,1017.8 1776.7,1024.8 1773.3,1029.4 1769.2,1034.3 1763.7,1037.3 1753.8,1040.1 1746.7,1041.8 1738.3,1043.2 1734.2,1046.3 1732,1052.5 1730.9,1057.8 1730.3,1064.8 1728.3,1070.8 1724.2,1079.2 1720.3,1083.6 1714.7,1086.4 1708.7,1087.2 1698.8,1086.5 1692.8,1088.7 1687.2,1095 1682.8,1099.7 1677.2,1105.3 1672.8,1109.2 1667.2,1113.3 1662.2,1115.8 1655.2,1118 1650.3,1120.4 1644.7,1124.6 1639.8,1127.6 1632.8,1131.1 1627.2,1132.8 1620.2,1133.5 1615.3,1132.4 1609.7,1128.9 1605.3,1127.2 1599.7,1126.5 1594.8,1128.7 1587.8,1135 1582.8,1138 1577.2,1139.5 1572.2,1138.9 1565.2,1136.1 1559.8,1133.1 1552.8,1128.1 1546.7,1124.3 1538.3,1119.4 1532.2,1116.7 1525.2,1114.6 1520.3,1115.7 1514.7,1120.6 1509.8,1125.8 1502.8,1134.2 1499.5,1137.5 1498,1137.5 1494.8,1141.9 1487.8,1153.1 1482.8,1160.8 1477.2,1169.2 1473.3,1175.8 1469.2,1184.2 1466.1,1190.8 1462.6,1199.2 1460.1,1205.8 1457.3,1214.2 1455.4,1219.7 1453.3,1225.3 1451.1,1228 1447.6,1229.5 1444.8,1228.9 1441.4,1226.1 1439.5,1221.7 1438,1213.3 1437.5,1206.7 1437.5,1198.3 1436.7,1193.3 1434.6,1189.2 1431.9,1187.5 1426.9,1187.5 1421.7,1188.3 1413.3,1190.4 1407.2,1190.9 1400.2,1190.3 1395.3,1188.1 1389.7,1183.1 1385.3,1180.9 1379.7,1180.3 1375.8,1180.3 1371.7,1180.9 1369.2,1179.8 1367,1176.4 1366.2,1172.8 1366.2,1167.2 1364.8,1163.9 1361.4,1161.1 1357.2,1160.3 1350.2,1160.9 1345.3,1159.8 1339.7,1156.4 1335.8,1153.6 1331.7,1150.2 1327.8,1149.6 1322.2,1151.7 1317.5,1152 1311.3,1150.5 1307.4,1151.7 1303.9,1155.8 1301.4,1160.2 1298.6,1167.2 1295.8,1172.2 1291.7,1177.8 1287.8,1181.4 1282.2,1184.8 1276.7,1185.7 1268.3,1184.3 1259.5,1183.2 1245.5,1181.8 1234.5,1180.7 1220.5,1179.3 1210.6,1178.8 1199.4,1178.8 1191.7,1177.4 1183.3,1173.9 1176.7,1170.3 1168.3,1164.7 1162.8,1160.3 1157.2,1154.7 1152.8,1150.3 1147.2,1144.7 1142.2,1140.3 1135.2,1134.7 1129.8,1130.6 1122.8,1125.7 1117.2,1123.5 1110.2,1122.8 1105.8,1124.2 1101.7,1128.3 1097.8,1130.3 1092.2,1130.9 1087.2,1130.7 1080.2,1129.3 1076.3,1127.4 1073.2,1123.9 1067.2,1120.8 1054.8,1116.7 1045.6,1113.6 1034.4,1110.2 1028.3,1106.9 1024.2,1101.9 1019.2,1098.1 1010.8,1093.1 1004.8,1090.1 997.8,1087.3 992.2,1084.6 985.2,1080.4 979.8,1078 972.8,1075.8 968.1,1076.1 963.1,1078.9 960.4,1078.3 958.3,1074.2 957,1075 955.5,1081.3 951.7,1084.9 943.3,1087.7 937.2,1089.6 930.2,1091.7 925.9,1090.8 921.6,1086.7 920,1082.2 920,1075.2 917.8,1071.4 912.2,1068.6 906.7,1067.2 898.3,1066.5 893.4,1064.8 889.1,1061.4 885.3,1060.3 879.7,1060.9 876.1,1063.1 872.6,1068.1 870.9,1073.3 870.3,1081.7 870.3,1088.3 870.9,1096.7 872,1102.2 874.2,1107.8 873.9,1113.3 871.1,1121.7 869.7,1127.8 869.1,1134.8 868,1140.2 865.8,1147.2 864.7,1152.2 864.1,1157.8 865.7,1160.8 870.6,1163 872.2,1165.2 871.5,1168.6 868.7,1170.8 862.5,1173 857.2,1172.7 850.2,1169.9 844.2,1168 835.8,1165.8 830,1165.5 823.7,1167 820.7,1169.7 819.3,1175.3 817.4,1179.7 813.9,1185.3 810.3,1190.2 804.7,1197.2 800.9,1202.2 796.6,1207.8 794.5,1212.8 793,1219.8 792.8,1225.8 793.5,1234.2 792.7,1240.2 789.9,1247.2 788.5,1250.5 787.8,1252 785,1252.2 778.7,1251.5 774.3,1249 769.4,1243.4 765.9,1239.6 761.6,1235.4 757.8,1234.9 752.2,1237.7 747.2,1238.8 740.2,1238.8 734.8,1237.4 727.8,1233.9 723.9,1231.1 721.1,1227.6 718.9,1227.6 716.1,1231.1 713.9,1235 711.1,1241.3 707.2,1245.2 700.2,1248.6 695,1251.9 688.7,1256.9 684.8,1260.2 681.4,1263.6 677.2,1263.6 670.2,1260.2 664.2,1257.4 655.8,1253.9 649.2,1251.7 640.8,1249.6 633.6,1248.2 623.9,1246.8 616.7,1245.7 608.3,1244.3 602.2,1242.4 595.2,1238.9 590.6,1235.6 585.7,1230.7 584.6,1227.1 586.7,1222.9 589.4,1220.1 594.3,1217.3 595.4,1214.8 593.3,1211.4 590.9,1207.8 586.6,1202.2 582.8,1198.9 577.2,1196.1 572.2,1193.3 565.2,1189.2 560.3,1185.3 554.7,1179.7 550.3,1175.3 544.7,1169.7 539.8,1167 532.8,1165.5 528.6,1163.6 525.2,1160.2 523,1156.3 520.8,1150 518.4,1145.3 514.1,1139.7 511.4,1134.8 508.6,1127.8 505.9,1123.3 501.6,1119.2 496.7,1116.7 488.3,1114.6 483.4,1111.3 479.1,1105 476.4,1099.8 473.6,1092.8 469.8,1087.5 462.8,1081.3 457.8,1078.2 452.2,1076.8 447.5,1076.5 441.3,1077.2 438.2,1079.7 436.8,1085.3 434.3,1087 429.4,1085.5 424.8,1083.1 417.8,1078.1 412.8,1074.3 407.2,1069.4 405.3,1065.3 405.9,1059.7 405.9,1054.2 405.3,1045.8 403.4,1039.8 399.1,1032.8 394.8,1027.2 387.8,1020.2 382.2,1015.6 375.2,1010.7 368.6,1008.5 358.9,1007.8 352.5,1005.3 346.3,999.7 343,994.8 340.8,987.8 336.7,981.7 328.3,973.3 322.2,967.2 315.2,960.2 309.8,952 302.8,938 298.4,930.6 294.1,925.7 291.1,921.6 287.6,916 284.3,912.1 279.4,907.9 274.2,905.7 265.8,904.3 260.9,904.9 256.6,907.7 252.2,908.5 245.2,907.8 239.8,906.4 232.8,903.6 228.3,900.9 224.2,896.6 220.8,891.7 216.7,883.3 212.8,878.4 207.2,874.1 202.2,870.9 195.2,866.6 191.9,862.2 190.6,855.2 189.7,848.6 189.1,838.9 188.5,832 187.8,824.2 185.3,819.8 179.7,816.4 176.4,811.7 173.6,803.3 171.4,796.7 168.6,788.3 166.1,783.9 162.6,781.1 160.1,777.2 157.3,770.2 156.5,764.2 157.2,755.8 155.8,751.4 151.7,748.6 147.2,745.9 140.2,741.6 134.8,737.2 127.8,730.2 124.5,725.3 123,719.7 124.2,715.6 128.3,710.7 132.8,706.9 139.8,701.9 143.1,697.8 144.4,692.2 146.1,687.2 148.9,680.2 152.8,674.2 159.8,665.8 163.6,659.8" fill="#000"/>
</mask>
<clipPath id="cZ1"><rect x="0" y="130" width="650" height="665"/></clipPath>
<clipPath id="cZ2"><rect x="650" y="130" width="695" height="410"/></clipPath>
<clipPath id="cZ3"><rect x="1345" y="130" width="703" height="570"/></clipPath>
<clipPath id="cZ4"><rect x="650" y="540" width="695" height="260"/></clipPath>
<clipPath id="cZ5"><rect x="0" y="795" width="800" height="654"/></clipPath>
<clipPath id="cZ6"><rect x="800" y="800" width="545" height="649"/></clipPath>
<clipPath id="cZ7"><rect x="1345" y="700" width="703" height="749"/></clipPath>
<clipPath id="cin"><polygon points="166.4,652.8 165.8,649.2 161.7,647 157.8,645.1 152.2,642.3 148.9,639.8 146.1,636.4 146.1,633.9 148.9,631.1 150.6,628.4 151.9,624.1 151.4,621.1 148.6,617.6 145.3,615.1 139.7,612.3 134.8,609.6 127.8,605.4 122.2,602.1 115.2,597.9 109.8,594.3 102.8,589.4 97.8,585.3 92.2,579.7 87.8,575.3 82.2,569.7 78.3,565.3 74.2,559.7 72,555.3 70.5,549.7 70.8,545.3 73,539.7 73.2,535.3 71.8,529.7 69.8,525.3 66.4,519.7 63.1,515.3 58.1,509.7 54,505.9 48.4,501.6 45.1,498.4 42.3,494.1 42.6,490.9 46.1,486.6 48.9,483.9 52.4,481.1 53,478.4 50.8,474.1 48.6,470.6 45.2,465.7 45.2,462.9 48.6,460.4 52.8,459.3 59.8,459 64.7,459.3 70.3,460.7 73.6,463.1 76.4,468.1 78,472.5 79.5,478.7 81.7,481.8 85.8,483.2 89.4,485.2 94.3,488.6 96.8,492.2 98.4,497.8 99.1,503.9 99.4,513.6 100.2,520 101.8,526.3 104.2,529.1 108.3,529.7 110.4,527.8 111.6,522.2 111.6,517.2 110.4,510.2 110.5,504.8 112,497.8 114.2,492.2 118.3,485.2 122.2,479.8 127.8,472.8 132.8,467.2 139.8,460.2 145.2,454.8 152.2,447.8 157.2,442.5 162.8,436.3 166.7,433 170.8,430.8 176.3,429.2 186.2,427 194.4,425.7 205.6,424.3 212.5,424.6 218.7,426.7 224.2,424.5 232,416.8 238.3,412.4 246.7,408.9 251.7,406.9 255.8,405.6 261.4,407.8 271.1,414.8 278.6,420 287.6,426.3 293.1,427.4 298.1,423.9 301.9,419.8 306.9,412.8 309.1,407.8 309.7,402.2 310.8,398.1 313,393.1 315.7,390.4 320.6,388.3 327.4,387.5 340.1,387.5 348,387.8 355.8,388.5 359.6,386.9 361.7,381.9 364.1,377.8 368.4,372.2 369.7,367.8 369.1,362.2 369.6,358.4 371.7,354.1 374.7,351.7 380.3,349.6 384.1,350.2 388.4,353.6 391.6,355 395.9,355 398.1,352 399.4,344.2 402.8,339.3 409.8,334.4 411.9,331.4 410.6,328.6 411.1,326.7 413.9,324.6 416.6,324.6 420.9,326.7 424.1,330.2 428.4,337.2 431.9,341.4 436.9,344.8 440.7,344.3 445.6,339.4 450,335.3 456.3,329.7 459.9,324.8 462.7,317.8 461.9,313.4 456.9,309.1 456.6,305.9 460.9,301.6 466.9,299.7 478.1,299.1 485.8,296.9 494.2,291.9 499.7,291.1 505.3,293.9 510.8,293.4 519.2,289.1 526.4,288.1 536.1,289.4 541.6,290.8 545.9,293 550.8,291.3 559.2,285 561.7,280.3 559.6,274.7 560.7,270.6 565.6,265.7 571.4,262.7 581.1,259.9 586.1,257.7 588.9,254.9 595,254.3 607.5,255.7 615.2,254.3 622.2,249.4 627.8,246.1 634.8,242.6 640.2,239.8 647.2,236.4 651.6,232.8 655.9,227.2 659.7,223.9 665.3,221.1 670.2,220.6 677.2,221.9 683.9,221.1 693.6,217.6 699.1,214.8 703.4,211.4 704.5,208.6 703,205.2 699.8,203.5 692.8,202.8 687.8,200.8 682.2,196.7 677.2,192.5 670.2,186.3 667,181.9 665.5,176.9 666.1,172.2 668.9,165.2 670.8,160.6 673,155.7 675.7,153 680.6,150.8 685.8,151.1 694.2,153.9 699.7,156.7 705.3,160.8 710.2,161.4 717.2,158.6 722.8,157.8 729.8,158.5 735.8,160.7 744.2,165.6 750.8,169.7 759.2,175.3 763.6,180.2 766.4,187.2 765.9,192.8 761.6,199.8 759.2,204.2 757,208.3 758.1,209.4 763.1,208.1 767.5,206.7 773.7,204.6 777,205.7 779.2,210.6 779.2,215.2 777,222.2 775.1,227.5 772.3,233.7 773.7,237.3 780,240.1 785.2,242.9 792.2,247.1 797.2,249.6 802.8,251.7 808.3,252.5 816.7,252.5 820,249.8 820,242.8 821.4,238.1 824.8,233.1 829.2,230.4 837,228.3 844.4,228.1 855.6,229.4 863,229.7 870.8,229.1 874.1,225.8 874.7,218 875.3,211.2 875.9,201.3 876.2,195 876.2,188.7 873.7,185.7 867.5,184.3 865.5,181.6 867,176 870.2,171.9 877.2,166.9 883.9,165 893.6,165 900.8,167.5 909.2,173.7 915.8,176.5 924.2,177.2 930.8,177.8 939.2,178.5 944.7,180.4 950.3,184.6 953.6,188.7 956.4,195 956.4,200.2 953.6,207.2 952.8,212.8 953.5,219.8 955.7,224.7 960.6,230.3 965.2,234.2 972.2,238.3 976.4,242.8 979.8,249.8 981.2,255.8 981.2,264.2 982,269.1 984.2,273.4 986.4,273.9 989.8,271.1 992.3,267.8 995.1,262.2 998.7,260.6 1005,261.9 1011.4,264.7 1021.1,270.3 1028.8,273.6 1038.7,276.4 1046.3,278.9 1056.2,282.4 1063.3,285.4 1071.7,289.6 1077.2,291.5 1082.8,292.2 1087.8,291.1 1094.8,287.6 1099.7,285.7 1105.3,284.3 1108.9,285.7 1112.4,290.6 1114.6,295.2 1116.7,302.2 1118.6,307.8 1121.4,314.8 1125.2,316.7 1132.2,314.6 1137.8,312.7 1144.8,309.9 1149.7,309.6 1155.3,311.7 1158.6,315.2 1161.4,322.2 1163,327.8 1164.5,334.8 1163.9,339.4 1161.1,344.3 1161.4,347.3 1164.8,350.1 1168.1,349.3 1173.1,344.4 1177.8,338.6 1184.8,328.9 1190.2,325.3 1197.2,325.9 1202.2,327.6 1207.8,331.1 1210.5,333.9 1212,337.4 1214.2,338 1218.3,335.8 1220.5,332.8 1222,327.2 1224.2,323.6 1228.3,320.2 1233.8,319.1 1243.7,319.7 1250.2,320.8 1257.2,323 1262.2,326.3 1267.8,332.5 1272.8,337.8 1279.8,344.8 1283.9,349.7 1287.4,355.3 1288,359.7 1285.8,365.3 1282.8,369.7 1277.2,375.3 1273.3,379.7 1269.2,385.3 1264.8,389.1 1257.8,393.4 1252.8,396.4 1247.2,399.8 1242.2,403.1 1235.2,408.1 1230.3,411.6 1224.7,415.9 1221.7,419.4 1219.6,424.3 1220.2,427.9 1223.6,432.1 1227.2,435.7 1232.8,440.6 1237.2,443.9 1242.8,447.4 1244.5,447.4 1243,443.9 1246.9,442.8 1258.1,443.5 1264.2,445.7 1268.3,450.6 1269.5,454.7 1268,460.3 1270.2,464.1 1277.2,468.4 1282.8,471.6 1289.8,475.9 1294.7,480.8 1300.3,489.2 1305.2,495.2 1312.2,502.2 1316.9,507.5 1321.9,513.7 1324.3,519.2 1325.7,527 1325.9,532.8 1325.3,539.8 1327.2,544.7 1332.8,550.3 1337.8,554.7 1344.8,560.3 1350.2,563.9 1357.2,567.4 1361.7,568.2 1365.8,566.8 1368.6,564.3 1371.4,559.4 1374.7,554.8 1380.3,547.8 1384.2,542.2 1388.3,535.2 1392.8,530.3 1399.8,524.7 1405.2,521.1 1412.2,517.6 1418.3,514.6 1426.7,510.4 1432.2,508 1437.8,505.8 1441.1,506.6 1443.9,510.9 1446.4,513.3 1449.8,515.4 1452,515.1 1454.2,512.3 1453.9,509.3 1451.1,504.4 1450,499.8 1450,492.8 1448.9,487.8 1446.1,482.2 1441.7,478.9 1433.3,476.1 1428.9,472.2 1426.1,465.2 1424.5,459.8 1423,452.8 1420.8,447.5 1416.7,441.3 1412.8,437.4 1407.2,433.9 1405.5,430 1407,423.7 1409.2,419.6 1413.3,415.4 1417.8,414.6 1424.8,416.7 1430.8,418.6 1439.2,421.4 1446.3,423.3 1456.2,425.4 1464.4,427.6 1475.6,431.1 1483.3,433.6 1491.7,436.4 1497.2,438.1 1502.8,439.4 1506.1,442.2 1508.9,447.8 1512.8,452.2 1519.8,457.8 1524.7,461.1 1530.3,463.9 1535.2,464.2 1542.2,462 1546.1,463.1 1548.9,468.1 1549.5,472.2 1548,477.8 1548.6,481.1 1551.4,483.9 1555.2,484.4 1562.2,483.1 1567.2,484.7 1572.8,490.3 1576.1,491.4 1578.9,488.6 1582.8,486.9 1589.8,485.6 1597.5,485 1610,485 1618.3,483.9 1626.7,481.1 1632.2,477.8 1637.8,472.2 1640.5,468.4 1642,464.1 1645.2,463.1 1652.2,464.4 1657.2,467.2 1662.8,472.8 1663.9,477.2 1661.1,482.8 1661.1,487.2 1663.9,492.8 1666.1,497.8 1668.9,504.8 1667.8,509.4 1662.2,514.3 1656.2,518.1 1646.3,523.1 1641.1,526.1 1637.4,528.9 1632.7,531.4 1624.3,534.8 1621.5,537.6 1623,541.1 1626.2,544.7 1633.2,550.3 1637.7,553.6 1641.8,556.4 1645.7,557.5 1651.3,557.5 1655.7,560.2 1661.3,567.2 1665.2,572.8 1669.3,579.8 1672.1,584.7 1674.9,590.3 1678.2,594.1 1683.8,598.4 1688.2,602.2 1693.8,607.8 1698.8,611.1 1705.8,613.9 1710.2,613.4 1714.3,609.1 1718.2,605.9 1723.8,601.6 1729.3,598.9 1737.7,596.1 1742.7,595.5 1746.8,597 1748.8,596.1 1749.5,592.6 1748.4,590.4 1744.9,588.3 1741.8,587 1737.7,585.5 1736.5,583.4 1738,579.1 1740.4,576.4 1745.3,573.6 1749.7,573.6 1756,576.4 1760.2,580.2 1764.3,587.2 1767.1,592.2 1769.9,597.8 1773.2,600.5 1778.8,602 1783.2,601.7 1788.8,599.6 1792.7,600.2 1796.8,603.6 1800.7,606.6 1806.3,610.9 1810.7,613.6 1816.3,616.4 1819.6,619.7 1822.4,625.3 1825.2,628.6 1829.3,631.4 1831.8,630.9 1834,626.6 1835.6,623.9 1837.7,621.1 1841.2,620.8 1848.2,623 1854.8,624.6 1864.7,626.7 1871.2,628.6 1878.2,631.4 1882.7,633 1886.8,634.5 1890.2,633.4 1894.3,629.1 1898.2,627.8 1903.8,628.5 1906.5,631.3 1908,637.5 1909,642.2 1910.5,647.8 1912.4,651.6 1915.8,655.9 1916.4,659.1 1914.3,663.4 1912.4,666.6 1909.6,670.9 1910.2,675.2 1914.3,682.2 1917.7,688.3 1921.8,696.7 1924.6,702.8 1927.4,709.8 1930.2,714.1 1934.3,718.4 1938.2,720.8 1943.8,723 1948.8,725.4 1955.8,729.6 1961.2,732 1968.2,734.2 1972.9,736.1 1977.9,738.9 1980.3,742.8 1981.7,749.8 1983,755.8 1985.2,764.2 1987.1,770.2 1989.9,777.2 1992.4,782.5 1995.8,788.7 1996.9,793.7 1996.3,800 1993.8,804.1 1988.2,808.4 1983.2,811.6 1976.2,815.9 1970.8,819.1 1963.8,823.4 1956.4,823.9 1944.6,821.1 1935.6,819.7 1924.4,819.1 1917.2,819.6 1910.2,821.7 1907,824.1 1905.5,828.4 1906.7,831.1 1910.8,833.9 1909.8,838.3 1902.8,846.7 1896.7,853.3 1888.3,861.7 1882.2,867.2 1875.2,872.8 1871.4,877.2 1868.6,882.8 1865.8,887.8 1861.7,894.8 1856.7,899.1 1848.3,903.4 1840.6,906.9 1829.4,911.9 1821.2,915.7 1811.3,920.6 1805.6,924.7 1800.7,930.3 1798.2,934.7 1796.8,940.3 1795.9,945.2 1795.3,952.2 1794.5,957.8 1793,964.8 1792,970.2 1790.5,977.2 1789.2,982.2 1787,987.8 1786.2,992.8 1786.2,999.8 1785.4,1005.2 1783.3,1012.2 1780.8,1017.8 1776.7,1024.8 1773.3,1029.4 1769.2,1034.3 1763.7,1037.3 1753.8,1040.1 1746.7,1041.8 1738.3,1043.2 1734.2,1046.3 1732,1052.5 1730.9,1057.8 1730.3,1064.8 1728.3,1070.8 1724.2,1079.2 1720.3,1083.6 1714.7,1086.4 1708.7,1087.2 1698.8,1086.5 1692.8,1088.7 1687.2,1095 1682.8,1099.7 1677.2,1105.3 1672.8,1109.2 1667.2,1113.3 1662.2,1115.8 1655.2,1118 1650.3,1120.4 1644.7,1124.6 1639.8,1127.6 1632.8,1131.1 1627.2,1132.8 1620.2,1133.5 1615.3,1132.4 1609.7,1128.9 1605.3,1127.2 1599.7,1126.5 1594.8,1128.7 1587.8,1135 1582.8,1138 1577.2,1139.5 1572.2,1138.9 1565.2,1136.1 1559.8,1133.1 1552.8,1128.1 1546.7,1124.3 1538.3,1119.4 1532.2,1116.7 1525.2,1114.6 1520.3,1115.7 1514.7,1120.6 1509.8,1125.8 1502.8,1134.2 1499.5,1137.5 1498,1137.5 1494.8,1141.9 1487.8,1153.1 1482.8,1160.8 1477.2,1169.2 1473.3,1175.8 1469.2,1184.2 1466.1,1190.8 1462.6,1199.2 1460.1,1205.8 1457.3,1214.2 1455.4,1219.7 1453.3,1225.3 1451.1,1228 1447.6,1229.5 1444.8,1228.9 1441.4,1226.1 1439.5,1221.7 1438,1213.3 1437.5,1206.7 1437.5,1198.3 1436.7,1193.3 1434.6,1189.2 1431.9,1187.5 1426.9,1187.5 1421.7,1188.3 1413.3,1190.4 1407.2,1190.9 1400.2,1190.3 1395.3,1188.1 1389.7,1183.1 1385.3,1180.9 1379.7,1180.3 1375.8,1180.3 1371.7,1180.9 1369.2,1179.8 1367,1176.4 1366.2,1172.8 1366.2,1167.2 1364.8,1163.9 1361.4,1161.1 1357.2,1160.3 1350.2,1160.9 1345.3,1159.8 1339.7,1156.4 1335.8,1153.6 1331.7,1150.2 1327.8,1149.6 1322.2,1151.7 1317.5,1152 1311.3,1150.5 1307.4,1151.7 1303.9,1155.8 1301.4,1160.2 1298.6,1167.2 1295.8,1172.2 1291.7,1177.8 1287.8,1181.4 1282.2,1184.8 1276.7,1185.7 1268.3,1184.3 1259.5,1183.2 1245.5,1181.8 1234.5,1180.7 1220.5,1179.3 1210.6,1178.8 1199.4,1178.8 1191.7,1177.4 1183.3,1173.9 1176.7,1170.3 1168.3,1164.7 1162.8,1160.3 1157.2,1154.7 1152.8,1150.3 1147.2,1144.7 1142.2,1140.3 1135.2,1134.7 1129.8,1130.6 1122.8,1125.7 1117.2,1123.5 1110.2,1122.8 1105.8,1124.2 1101.7,1128.3 1097.8,1130.3 1092.2,1130.9 1087.2,1130.7 1080.2,1129.3 1076.3,1127.4 1073.2,1123.9 1067.2,1120.8 1054.8,1116.7 1045.6,1113.6 1034.4,1110.2 1028.3,1106.9 1024.2,1101.9 1019.2,1098.1 1010.8,1093.1 1004.8,1090.1 997.8,1087.3 992.2,1084.6 985.2,1080.4 979.8,1078 972.8,1075.8 968.1,1076.1 963.1,1078.9 960.4,1078.3 958.3,1074.2 957,1075 955.5,1081.3 951.7,1084.9 943.3,1087.7 937.2,1089.6 930.2,1091.7 925.9,1090.8 921.6,1086.7 920,1082.2 920,1075.2 917.8,1071.4 912.2,1068.6 906.7,1067.2 898.3,1066.5 893.4,1064.8 889.1,1061.4 885.3,1060.3 879.7,1060.9 876.1,1063.1 872.6,1068.1 870.9,1073.3 870.3,1081.7 870.3,1088.3 870.9,1096.7 872,1102.2 874.2,1107.8 873.9,1113.3 871.1,1121.7 869.7,1127.8 869.1,1134.8 868,1140.2 865.8,1147.2 864.7,1152.2 864.1,1157.8 865.7,1160.8 870.6,1163 872.2,1165.2 871.5,1168.6 868.7,1170.8 862.5,1173 857.2,1172.7 850.2,1169.9 844.2,1168 835.8,1165.8 830,1165.5 823.7,1167 820.7,1169.7 819.3,1175.3 817.4,1179.7 813.9,1185.3 810.3,1190.2 804.7,1197.2 800.9,1202.2 796.6,1207.8 794.5,1212.8 793,1219.8 792.8,1225.8 793.5,1234.2 792.7,1240.2 789.9,1247.2 788.5,1250.5 787.8,1252 785,1252.2 778.7,1251.5 774.3,1249 769.4,1243.4 765.9,1239.6 761.6,1235.4 757.8,1234.9 752.2,1237.7 747.2,1238.8 740.2,1238.8 734.8,1237.4 727.8,1233.9 723.9,1231.1 721.1,1227.6 718.9,1227.6 716.1,1231.1 713.9,1235 711.1,1241.3 707.2,1245.2 700.2,1248.6 695,1251.9 688.7,1256.9 684.8,1260.2 681.4,1263.6 677.2,1263.6 670.2,1260.2 664.2,1257.4 655.8,1253.9 649.2,1251.7 640.8,1249.6 633.6,1248.2 623.9,1246.8 616.7,1245.7 608.3,1244.3 602.2,1242.4 595.2,1238.9 590.6,1235.6 585.7,1230.7 584.6,1227.1 586.7,1222.9 589.4,1220.1 594.3,1217.3 595.4,1214.8 593.3,1211.4 590.9,1207.8 586.6,1202.2 582.8,1198.9 577.2,1196.1 572.2,1193.3 565.2,1189.2 560.3,1185.3 554.7,1179.7 550.3,1175.3 544.7,1169.7 539.8,1167 532.8,1165.5 528.6,1163.6 525.2,1160.2 523,1156.3 520.8,1150 518.4,1145.3 514.1,1139.7 511.4,1134.8 508.6,1127.8 505.9,1123.3 501.6,1119.2 496.7,1116.7 488.3,1114.6 483.4,1111.3 479.1,1105 476.4,1099.8 473.6,1092.8 469.8,1087.5 462.8,1081.3 457.8,1078.2 452.2,1076.8 447.5,1076.5 441.3,1077.2 438.2,1079.7 436.8,1085.3 434.3,1087 429.4,1085.5 424.8,1083.1 417.8,1078.1 412.8,1074.3 407.2,1069.4 405.3,1065.3 405.9,1059.7 405.9,1054.2 405.3,1045.8 403.4,1039.8 399.1,1032.8 394.8,1027.2 387.8,1020.2 382.2,1015.6 375.2,1010.7 368.6,1008.5 358.9,1007.8 352.5,1005.3 346.3,999.7 343,994.8 340.8,987.8 336.7,981.7 328.3,973.3 322.2,967.2 315.2,960.2 309.8,952 302.8,938 298.4,930.6 294.1,925.7 291.1,921.6 287.6,916 284.3,912.1 279.4,907.9 274.2,905.7 265.8,904.3 260.9,904.9 256.6,907.7 252.2,908.5 245.2,907.8 239.8,906.4 232.8,903.6 228.3,900.9 224.2,896.6 220.8,891.7 216.7,883.3 212.8,878.4 207.2,874.1 202.2,870.9 195.2,866.6 191.9,862.2 190.6,855.2 189.7,848.6 189.1,838.9 188.5,832 187.8,824.2 185.3,819.8 179.7,816.4 176.4,811.7 173.6,803.3 171.4,796.7 168.6,788.3 166.1,783.9 162.6,781.1 160.1,777.2 157.3,770.2 156.5,764.2 157.2,755.8 155.8,751.4 151.7,748.6 147.2,745.9 140.2,741.6 134.8,737.2 127.8,730.2 124.5,725.3 123,719.7 124.2,715.6 128.3,710.7 132.8,706.9 139.8,701.9 143.1,697.8 144.4,692.2 146.1,687.2 148.9,680.2 152.8,674.2 159.8,665.8 163.6,659.8"/></clipPath>
</defs>
<g mask="url(#mfill)" shape-rendering="crispEdges">
<rect width="2048" height="1449" fill="#ff9900"/>
<g clip-path="url(#cZ1)"><rect x="0" y="130" width="650" height="665" fill="#ff9900"/>
<path fill="#ffcc00" d="M34.2 464.1 51.3 450.4 85.4 450.4 105.9 460.6 112.8 481.1 116.6 502.5 117.5 524.7 114.1 535.8 106.3 535.8 98.2 536.7 89.7 538.4 83.7 541 80.3 544.4 76 549.5 71 556.4 59.9 546.1 42.8 518.8 34.2 491.4ZM110.2 507.6 118.8 504.2 130.7 495.7 141.8 493.1 152.1 496.5 159.8 493.1 164.9 482.8 166.7 473.4 164.9 464.9 167.5 463.2 174.3 468.3 179.4 476 182.9 486.3 189.7 492.2 200 493.9 208.5 490.5 215.4 482 223.9 476 234.2 472.6 244.4 468.3 254.7 463.2 267.5 462.3 282.8 465.8 299.9 465.8 318.7 462.3 329.8 457.2 333.3 450.4 340.1 446.1 350.4 444.5 360.6 440.2 370.9 433.3 381.1 424.8 391.4 414.5 402.5 404.3 414.4 394 426.4 385.5 438.3 378.6 450.3 371.8 462.3 364.9 474.3 357.2 486.2 348.7 497.3 340.1 507.6 331.6 517.8 323.9 528.1 317.1 536.6 310.3 543.5 303.4 546.9 294.9 546.9 284.6 521.2 279.5 469.9 279.5 401.6 306 316.1 358.9 239.2 396.5 170.9 418.8 128.1 448.7 111 486.3 105.1 506ZM328.1 464.9 329.8 457.2 333.3 450.4 341.8 448.7 355.5 452.1 364.9 456.4 370 461.5 371.7 470.9 370 484.6 370 498.2 371.7 511.9 375.2 523.9 380.2 534.2 381.1 542.7 377.7 549.5 370.9 554.6 360.6 558.1 350.4 562.3 340.1 567.5 329.9 570.9 319.6 572.5 315.4 577.7 317 586.2 315.3 594.8 310.2 603.3 304.2 611 297.3 617.9 288.8 624.7 278.5 631.6 268.3 635.9 258 637.5 249.5 635.8 242.7 630.7 234.2 625.5 223.9 620.5 212 615.3 198.2 610.2 188 603.3 181.1 594.8 178.6 586.2 180.3 577.7 187.2 571.7 199.1 568.3 209.4 562.3 217.9 553.8 226.5 550.4 235 552 241 549.5 244.4 542.7 244.4 537.6 241 534.1 244.4 530.7 254.7 527.3 263.2 522.2 270 515.3 277.7 513.6 286.2 517.1 294.8 515.4 303.3 508.5 312.7 502.5 323 497.4 331.5 493.9 338.4 492.2 338.4 488 331.5 481.1 328.1 473.4ZM141.9 611 152.1 602.5 169.2 605.9 181.1 611.9 188 620.4 189.7 629 186.3 637.5 181.2 644.4 174.3 649.5 162.3 649.5 145.2 644.4 138.4 631.5ZM131.6 699.1 141.8 697.4 152.1 705.9 158 717 159.8 730.7 164.9 742.6 173.4 752.9 176 763.1 172.6 773.4 165.8 776.8 155.5 773.4 141.8 764.9 124.8 751.1 116.2 737.5 116.2 723.8 121.3 711ZM185.4 739.2 188.9 736.6 197.4 741.8 204.2 750.3 209.3 762.3 208.5 770 201.6 773.4 195.6 770 190.6 759.7 187.2 749.5ZM478.5 696.5 485.4 690.5 499 692.2 507.6 699.9 511 713.6 517.8 723.8 528.1 730.7 540 736.6 553.7 741.8 560.5 752.8 560.5 770 553.7 782.6 540 790.8 526.4 794.9 512.7 794.9 507.6 789.1 511 777.5 507.6 764.9 497.3 751.1 488.8 737.5 481.9 723.8 478.5 710.1ZM543.5 377.8 548.6 370.1 558.9 366.6 566.5 369.2 571.7 377.7 570.8 386.3 563.9 394.8 556.2 398.2 547.8 396.6 543.5 389.7ZM650.2 368.4 653.7 362.4 666.5 364.9 669.9 385.4 652.8 388.9Z"/>
<path fill="#ffff00" d="M161.5 435 167.5 442.7 174.3 447.8 184.5 449.5 198.2 447.9 208.5 444.4 215.4 439.3 223.1 438.4 231.6 441.9 240.1 441.9 248.6 438.4 257.2 438.4 265.7 441.9 273.4 441 280.3 435.9 289.7 433.3 301.6 433.3 312.7 434.1 323 435.9 334.1 433.3 346.1 426.4 357.2 418.8 367.5 410.2 377.7 400.9 388 390.5 397.4 381.1 405.9 372.6 415.3 366.7 425.6 363.2 436.7 358.9 448.6 353.9 460.6 347 472.5 338.5 481.9 330.8 488.8 323.9 497.3 317.1 507.6 310.2 516.1 305.1 523 301.7 526.4 294.9 526.4 284.6 505.9 279.5 464.8 279.5 435.8 288.1 418.7 305.1 367.5 331.6 282 367.5 217.9 393.9 175.2 411.1 156.4 424.7ZM531.5 750.3 538.3 743.4 548.6 741.8 554.6 746 556.2 756.3 552.8 764.8 544.3 771.7 536.6 773.4 529.8 770 528.1 762.3Z"/>
<path fill="#ffffff" d="M537.5 754.6 540 750.4 546.9 748.6 550.7 750.3 551.6 755.5 549 759.7 543 763.1 539.1 761.4Z"/>
<path fill="#ffcc00" d="M315.4 405.1 321.3 400.8 335 397.4 346.9 394 357.2 390.6 364 392.3 367.4 399.1 362.3 405.1 348.6 410.2 335.8 412.8 323.9 412.8 317 410.2ZM377.7 361.5 382.8 354.7 396.5 347.8 408.4 341.8 418.7 336.8 426.4 336.8 431.5 341.8 428.1 348.7 416.2 357.2 403.4 364.1 389.6 369.2 381.1 368.4Z"/>
<path fill="#ff6600" d="M365.7 455.5 365.7 447 372.6 440.1 384.6 432.4 401.6 423.9 417 413.6 430.7 401.7 442.6 390.6 452.9 380.3 463.1 371.8 473.4 364.9 485.4 357.2 499 348.7 512.7 341 526.4 334.2 540 328.2 553.7 323.1 565.4 319.1 575.1 316.4 585 313.7 594.9 311.2 603.6 307.4 611.1 302.5 618.6 298.7 626.1 296.2 633.7 293.7 641.2 291.3 647.5 287.6 654.9 280.2 717.8 280.2 717.8 511.9 666.5 506.8 640.9 505.1 623.8 505.1 606.7 508.5 589.6 515.4 572.5 520.5 555.5 523.9 543.5 523.9 536.6 520.5 536.6 515.4 543.5 508.5 552 503.4 562.3 499.9 572.5 493.1 582.8 482.8 586.2 474.3 582.8 467.5 576 465.8 565.6 469.2 553.7 474.3 540 481.2 525.5 486.3 510.1 489.7 496.4 494.8 484.5 501.7 471.7 508.5 458 515.4 447.8 520.5 440.9 523.9 439.2 530.7 442.6 541 440.9 551.2 434.1 561.5 428.1 559.8 423 546.1 414.4 534.2 402.5 523.9 393.1 511.9 386.2 498.2 381.1 486.3 377.7 476 372.6 465.8ZM188.8 699.9 194 691.4 205.9 681.1 218.8 672.6 232.5 665.7 242.7 664 249.5 667.4 258 665.7 268.3 658.9 278.5 652.1 288.8 645.2 300.8 638.4 314.4 631.5 326.4 624.7 336.7 617.9 346.9 612.8 357.2 609.3 365.7 604.2 372.6 597.3 379.4 588.8 386.2 578.5 393 576.8 399.9 583.7 405.9 592.2 411 602.5 417.9 611 426.4 617.9 437.5 623 451.2 626.4 464.9 630.7 478.5 635.8 487.9 642.7 493.1 651.2 491.3 660.6 482.8 670.9 476.8 682.8 473.4 696.5 473.4 710.1 476.8 723.9 476.8 736.7 473.4 748.6 466.6 758.9 456.3 767.4 446.1 777.5 435.8 789.1 430.7 799.4 430.7 812.7 211.9 812.7 206.8 782 208.5 767.4 215.4 758.9 215.4 748.6 208.5 736.7 201.7 725.6 194.8 715.3 190.6 706.8ZM192.2 527.3 196.5 521.4 206.8 519.6 211.1 523 209.3 531.5 205.1 537.5 198.2 541 194 537.6Z"/>
<path fill="#ff3300" d="M267.5 730.6 271.7 723 282 714.5 294 705.1 307.6 694.8 321.3 686.2 335 679.4 348.6 674.3 362.3 670.8 374.2 670 384.5 671.7 394.8 670 405.1 664.9 415.3 660.6 425.6 657.2 436.7 657.2 448.6 660.6 455.5 667.4 457.1 677.7 457.1 689.6 455.5 703.4 455.5 717 457.1 730.7 454.6 741.8 447.7 750.3 439.2 758.9 428.9 767.4 420.4 777.5 413.6 789.1 410.2 799.4 410.2 812.7 317.9 812.7 310.2 782 300.8 767.4 287.1 758.9 277.7 751.2 272.6 744.3 269.1 737.5Z"/>
<path fill="#d40000" d="M397.4 697.4 395.7 693.9 400.8 688.8 410.1 686.2 423.9 686.2 431.6 688.8 433.2 693.9 438.4 697.4 446.9 699 449.5 705 446 715.3 440.9 723 434.1 728.1 429 735 425.5 743.5 420.4 749.5 413.6 752.9 408.5 752 405 746.9 399.9 747.7 393 754.6 387.1 762.3 381.9 770.8 376 775.1 369.1 775.1 368.3 770.8 373.4 762.3 372.6 757.1 365.7 755.5 362.3 752 362.3 746.9 365.7 742.6 372.6 739.2 376 734.1 376 727.2 372.6 722.1 365.7 718.7 365.7 714.4 372.6 709.3 379.4 710.1 386.2 717 394.8 718.7 405.1 715.3 410.2 710.2 410.2 703.3 405.9 699Z"/>
<path fill="#ff3300" d="M452 386.2 458.2 376.2 470.8 368.8 483.2 361.8 495.8 355.2 508.2 349.5 520.8 344.5 533.2 339.5 545.8 334.5 556.5 330.2 565.5 326.8 575 324.2 585 322.8 596.2 321.5 608.8 320.5 621.2 318.8 633.8 316.2 641.2 317.5 643.8 322.5 642.5 327.5 637.5 332.5 638.8 337.5 646.2 342.5 653.8 346.2 665 350 684 352 705 369 718 390 728 403 722 420 732 437 749 465 770 485 793 506 804 533 800 547 780 540 752 523 725 513 705 506 690 496 670 498 644.5 501 629 499.2 615 493.8 604.8 486 598.2 476 586.2 472.8 568.8 476.2 553.2 479.8 539.8 483.2 526.2 483.2 512.8 479.8 499 478 485 478 471.2 474.5 457.8 467.5 448.5 460.5 443.5 453.5 444.5 445 451.5 435 454.2 423.8 452.8 411.2 452 398.8Z"/>
<path fill="#ff6600" d="M518.8 351.2 530 342.5 550 337.5 570 335.8 590 337.2 610 336 630 332 645 333.8 660 345 652.5 360 643.8 367.5 631.2 372.5 621.2 380 613.8 390 602.5 397.5 587.5 402.5 572.5 403.8 557.5 401.2 545 398.8 535 396.2 526.2 388.8 518.8 376.2 516.2 363.8Z"/>
<path fill="#ff9900" d="M546.2 365 552.5 357.5 567.5 352.5 578.8 353.8 586.2 361.2 585 370 575 380 565 383.8 555 381.2 548.8 375Z"/>
<path fill="#ffcc00" d="M550.5 386.2 552.5 381.8 557.5 379.2 560.8 381.8 562.2 389.2 560.2 393.8 554.8 395.2 551.5 392.8Z"/>
<path fill="#ff6600" d="M472.5 421.2 477.5 412.5 492.5 407.5 502.5 411.2 507.5 423.8 502.5 432.5 487.5 437.5 477.5 433.8Z"/>
<path fill="#d40000" d="M590.6 441.2 589.4 431.2 593.1 413.8 597.5 400.6 602.5 391.9 610 385.6 620 381.9 631.9 378.1 652.5 372.5 665 382.5 685 385 700 405 705 425 712.5 437.5 695 435 680 445 665 455 638.8 456.9 626.2 455 618.8 450 611.2 446.9 603.8 445.6 596.9 443.8Z"/>
<path fill="#ff6600" d="M480 622.8 486.2 617.8 498.8 619.2 511.2 621.5 523.8 624.5 533.8 622.5 541.2 615.5 550 608.5 560 601.5 570 600 580 604 590 607 600 609 608.8 608.5 616.2 605.5 623.8 606.5 631.2 611.5 641.2 613.5 660 612 660 730 645 722.5 635 716.2 625 708.8 615 705 605 705 596.2 706.2 588.8 708.8 582.5 707.5 577.5 702.5 571.2 701.2 563.8 703.8 556.2 702.5 548.8 697.5 544.5 687.5 543.5 672.5 542.2 661.2 540.8 653.8 533.8 647.5 521.2 642.5 511.2 642.5 503.8 647.5 495 647.5 485 642.5 480 634.2Z"/>
<path fill="#ff9900" d="M614 710 627 695 672 656 678 664 634.5 703 618 714Z"/>
<path fill="#ff6600" d="M628.5 492.5 636 480 660 480 660 556 645 553 637.5 546.5 632.5 535.5 629.5 517.5ZM480 491.2 500 480 540 480 558.8 490 556.2 510 546.2 522.5 528.8 527.5 515 526.2 505 518.8 495 517.5 485 522.5 480 513.8Z"/>
<path fill="#ff3300" d="M646.2 656.8 653.8 652 680 643 682 650 658 659 648.8 660.2Z"/>
<path fill="#ffcc00" d="M516.2 750 532.5 738.8 557.5 736.2 571.2 748.8 573.8 776.2 563.8 792.5 530 800 511.2 785 508.8 770Z"/>
<path fill="#ffff00" d="M524.8 750.2 536 742.8 552 744.2 559.5 752.5 558.5 767.5 552.2 778.8 540.8 786.2 530 786.2 520 778.8 518.2 766.8Z"/>
<path fill="#ffffff" d="M532.5 769.8 535.2 764 543.8 756 549.2 753.5 551.8 756.5 549 762.2 541 770.8 535.5 773.2Z"/>
</g>
<g clip-path="url(#cZ2)"><rect x="650" y="130" width="695" height="410" fill="#ff9900"/>
<path fill="#ffcc00" d="M894.4 239.4 888.4 248.8 886.7 260.7 890.1 270.1 898.6 277 907.2 283.8 915.7 290.7 923.4 297.5 930.3 304.3 939.7 308.6 951.6 310.3 962.7 313.8 973 318.8 981.5 324.8 988.4 331.7 996.9 338.5 1007.2 345.4 1015.7 347.1 1022.6 343.6 1030.3 343.6 1038.8 347.1 1043.9 353.9 1045.7 364.2 1048.2 372.7 1051.6 379.5 1057.6 384.6 1066.1 388.1 1073 393.2 1078.1 400 1083.2 406 1088.4 411.1 1094.3 412.9 1101.2 411.1 1110.6 409.4 1122.5 407.8 1135.3 408.6 1149.1 412 1162.7 415.4 1176.4 418.8 1189.2 422.2 1201.1 425.7 1211.4 429.9 1219.9 435.1 1225.9 442.7 1229.4 453 1232.8 461.5 1236.2 468.4 1241.3 476.9 1248.2 487.2 1255 497.4 1261.8 507.7 1269.5 517.9 1278 528.2 1284.9 537.6 1292.6 550.4 1278.9 567.5 1265.2 584.6 1261.8 608.5 1272.1 624.9 1367.8 624.9 1367.8 471.8 1265.3 420.5 1252.4 390.6 1295.2 365 1295.2 335.1 1252.4 300.9 1196.9 275.2 1128.5 258.1 1060.1 236.8 991.8 211.2 955 201.8 950 208.6 944 214.6 937.1 219.7 927.7 224 915.8 227.4 904.7 232.5ZM844.8 271 846.5 265.9 856.8 264.1 863.6 267.6 867.1 276.1 865.4 281.2 858.5 282.9 851.7 279.5ZM858.5 288.1 858.5 282.9 865.4 281.2 873.9 285.5 884.2 295.8 888.4 303.5 886.7 308.6 881.5 308.6 873 303.5 865.4 296.6ZM721 224.9 723.5 217.2 733.8 213.7 742.3 217.1 749.1 227.4 755.9 234.2 762.8 237.7 762.8 241.9 755.9 247.1 746.5 247.9 734.6 244.5 726 236.8Z"/>
<path fill="#ffff00" d="M903.8 256.4 906.3 250.4 913.2 245.4 922.6 241.1 934.5 237.7 944.8 235.1 953.3 233.4 962.7 235.9 973 242.8 979.8 251.3 983.3 261.6 986.7 269.3 990.1 274.4 996.9 276.1 1007.2 274.5 1015.7 274.5 1022.6 276.1 1028.5 279.6 1033.7 284.6 1040.5 286.4 1049 284.6 1058.4 285.5 1068.7 288.9 1078.9 291.5 1089.2 293.2 1098.6 297.5 1107.1 304.3 1114 311.1 1119.1 318 1122.5 324.8 1124.2 331.7 1120 336.8 1109.7 340.2 1100.3 340.2 1091.8 336.8 1083.2 332.5 1074.7 327.4 1066.1 325.6 1057.6 327.4 1049.9 326.5 1043 323.1 1038.8 318.8 1037 313.8 1030.2 310.3 1018.3 308.6 1007.2 306.9 996.9 305.1 986.7 303.4 976.4 301.8 966.2 302.6 955.9 306 947.4 306 940.5 302.6 938.8 297.5 942.2 290.6 941.4 284.6 936.2 279.6 929.4 276.1 920.9 274.5 914 271.9 908.9 268.4 905.4 263.3ZM1028.5 277 1051.6 278.7 1102.9 289 1127.7 304.4 1125.9 324.9 1120 336.8 1109.7 340.2 1100.3 340.2 1091.8 336.8 1083.2 332.5 1074.7 327.4 1066.1 325.6 1057.6 327.4 1049.9 326.5 1043 323.1 1038.8 312.8 1037 295.8 1033.7 283.8ZM1181.5 329.1 1184.1 323.9 1192.6 322.2 1200.3 324 1207.1 329.1 1208.8 336 1205.4 344.5 1201.2 353.1 1196 361.6 1190.9 363.2 1185.8 358.2 1184 352.2 1185.8 345.3 1184.9 337.6ZM1243 447.9 1245.6 453 1254.1 456.4 1262.7 462.4 1271.2 470.9 1278.9 481.2 1285.8 493.1 1291.8 505.1 1296.9 517.1 1304.5 529.1 1319.9 547 1333.6 560.7 1367.8 560.7 1316.5 494 1286.6 463.2 1260.9 446.2 1246.4 441ZM1245.6 453 1238.8 453 1233.6 456.4 1234.5 465 1241.3 478.6 1249 490.6 1257.5 500.9 1266.1 512 1274.6 523.9 1282.3 534.2 1292.6 547 1313.1 560.7 1333.6 560.7 1319.9 547 1304.5 529.1 1296.9 517.1 1291.8 505.1 1285.8 493.1 1278.9 481.2 1271.2 470.9 1262.7 462.4 1254.1 456.4ZM869.6 289.8 873.9 290.6 884.2 297.5 888.4 302.6 886.7 306 882.4 305.1 875.6 300.1 871.4 294.9Z"/>
<path fill="#ffffff" d="M920 254.7 923.4 250.9 930.3 246.6 939.7 244.1 951.6 243.2 961.9 244.5 970.4 247.9 973.9 253 972.1 259.9 967.9 262.4 961 260.8 954.2 261.6 947.3 265 940.5 265 933.7 261.6 927.7 259.9 922.6 259.9 920 258.2ZM1057.6 300.9 1061 296.6 1069.5 295 1078.1 296.7 1086.6 301.8 1091.8 308.6 1093.5 317.1 1092.6 324 1089.2 329.1 1084.1 329.1 1077.2 324 1070.4 318.8 1063.6 313.8 1059.3 307.8ZM1016.1 282.5 1018.3 280.8 1023.4 281.7 1026 284.2 1026 288.5 1023.9 290.2 1019.5 289.3 1017 286.8ZM1263.5 474.4 1264.4 471.8 1269.5 478.7 1274.6 488.1 1279.8 500 1284 510.3 1287.5 518.8 1286.6 520.5 1281.5 515.4 1276.4 507.7 1271.2 497.4 1267 486.3Z"/>
<path fill="#ff9900" d="M1108.8 372.7 1113.1 367.6 1123.4 364.1 1131.9 364.1 1138.8 367.6 1138.8 372.7 1131.9 379.5 1124.2 382.9 1115.7 382.9 1110.6 379.5ZM1243.9 358.2 1246.4 350.5 1256.7 347 1266.9 348.7 1277.2 355.6 1280.6 363.3 1277.2 371.8 1269.5 376.1 1257.6 376.1 1249 370.1Z"/>
<path fill="#ff6600" d="M655.9 236.8 660.2 231.2 667.1 228.7 676.5 228.7 688.4 231.2 696.1 236.8 699.6 245.3 697.9 253.9 691 262.4 681.6 266.7 669.7 266.7 661.1 262.4 656 253.9 654.2 245.3ZM636.3 290.6 656.9 288.1 668.8 283.8 679.1 277 686.8 271.9 691.9 268.4 698.7 269.3 707.2 274.4 714.9 280.4 721.8 287.2 732 288.9 745.7 285.5 755.9 286.4 762.8 291.5 771.3 297.5 781.6 304.3 790.1 312.8 797 323.1 803 333.4 808 343.6 808.9 353.9 805.5 364.2 799.5 372.7 791 379.5 780.7 386.3 768.8 393.2 756.8 396.6 744.9 396.6 736.3 397.5 731.2 399.1 726 395.7 721 387.2 715 378.6 708.1 370.1 699.6 362.4 689.3 355.6 672.2 351.4 636.3 348.8ZM726 419.7 737.1 415.4 754.2 418.8 770.5 416.2 785.9 407.7 797 398.3 803.8 388 814.1 381.2 827.8 377.8 839.7 371 850 360.7 861.9 359 875.6 365.9 887.5 372.7 897.8 379.5 904.6 378.6 908.1 370.1 913.2 362.4 920 355.6 926.8 356.5 933.7 365 938.8 372.7 942.2 379.5 937.1 385.5 923.4 390.6 918.3 400 921.7 413.7 922.5 427.4 920.9 441 923.4 448.8 930.3 450.4 939.7 451.3 951.6 451.3 962.7 454.7 973 461.6 985 468.4 998.6 475.2 1010.6 477.8 1020.9 476.1 1034.5 476.1 1051.7 477.8 1068.7 477.8 1085.8 476.1 1102.8 474.4 1120 472.6 1137 469.2 1154.2 464.1 1167.8 458.9 1178.1 453.9 1190 454.7 1203.7 461.6 1215.7 471.8 1225.9 485.5 1234.5 499.1 1241.3 512.8 1248.1 524.8 1255 535.1 1260.1 545.3 1265.2 560.7 1251.6 574.3 1258.4 598.3 1265.2 624.9 1265.2 642.7 636.3 642.7 636.3 471.8 672.2 471.8 692.8 463.2 709.9 446.2 721 431.6Z"/>
<path fill="#ff3300" d="M730.3 315.4 732.9 309.5 741.4 306 750 307.7 758.5 314.6 760.2 321.4 755.1 328.3 748.2 330.8 739.7 329.1 733.7 323.9ZM701.3 567.5 718.4 565.8 723.5 577.8 708.1 591.4 701.3 581.2ZM1156.8 535.9 1162.7 534.1 1176.4 535.9 1188.3 540.1 1203.7 550.4 1217.4 570.9 1210.5 591.4 1196.9 591.4 1183.2 608.5 1183.2 624.9 1183.2 642.7 1145.6 642.7 1142.2 601.7 1149 574.3 1162.7 560.7 1159.3 543.6Z"/>
<path fill="#ff9900" d="M763.6 418 770.5 411.1 785.9 406 798.7 405.1 809 408.6 813.2 415.4 811.5 425.7 804.6 432.5 792.7 435.9 781.6 435.9 771.3 432.5 765.4 426.5Z"/>
<path fill="#ff3300" d="M452 380 477 365 502 352 527 342 552 332 570 325 590 322 615 320 640 315 645 325 635 335 646.2 342.5 653.8 346.2 661.2 348.8 669.8 350.5 679.2 351.5 689.2 356.2 699.8 364.8 708.2 374.2 714.8 384.8 720.5 393.2 725.5 399.8 726.5 407.2 723.5 415.8 724.5 424.2 729.5 432.8 736.2 444 744.8 458 754.2 470 764.8 480 775.8 490.2 787.2 500.8 795.8 512.8 801.2 526.2 803 536.5 800 547 785 541.8 773 535.8 759 527.2 745.2 520.5 731.8 515.5 720 511.2 710 507.8 701.2 503.5 693.8 498.5 685 496.5 675 497.5 661.5 499 636 502 608 491 595 471 560 478 533 485 506 478 478 478 451 464 441 450 455 430 452 405Z"/>
<path fill="#ff6600" d="M520 345 560 335 600 338 640 330 655 341.2 657.5 350 652.5 360 643.8 367.5 625 375 610 395 580 405 550 400 530 395 515 370Z"/>
<path fill="#d40000" d="M587.5 440 595 405 605 387.5 625 380 645.6 374.4 655.6 375 661.9 380 670 383.1 680 384.4 688.8 390 696.2 400 701.2 410 703.8 420 706.9 428.1 710.6 434.4 708.1 436.9 699.4 435.6 691.2 437.5 683.8 442.5 676.2 447.5 668.8 452.5 656.2 455.6 630 457.5 615 447.5 600 445Z"/>
</g>
<g clip-path="url(#cZ3)"><rect x="1345" y="130" width="703" height="570" fill="#ff9900"/>
<path fill="#ffcc00" d="M1403.5 447.5 1412 445.8 1425.7 454.3 1441 460.3 1458.2 463.7 1470.1 469.7 1477 478.2 1487.2 481.6 1500.9 480 1514.5 478.2 1528.2 476.6 1538.5 480 1545.4 488.5 1553.9 494.5 1564.2 497.9 1574.4 498.8 1584.7 497.1 1591.5 501.3 1594.9 511.6 1598.3 521.8 1601.7 532.1 1606.8 542.3 1613.7 552.6 1619.7 562.8 1624.8 573.1 1631.7 581.6 1640.2 588.5 1647 597 1652.2 607.3 1653.8 617.5 1652.2 627.8 1648.7 638 1643.6 648.3 1641.9 658.5 1643.6 668.8 1647.9 677.3 1654.7 684.2 1656.4 692.7 1651.3 708.1 1637.6 721.8 1637.6 742.3 1623.9 769.6 1603.4 790.2 1589.8 776.5 1582.9 756 1569.3 742.3 1548.8 728.6 1535.1 715 1524.8 701.3 1514.6 691 1507.8 683.3 1500.9 674.8 1493.2 666.2 1484.7 657.7 1477 651.7 1470.1 648.3 1462.4 649.2 1453.9 654.3 1444.5 657.8 1434.2 659.4 1427.4 655.2 1424 644.9 1424.8 634.7 1430 624.4 1439.3 617.6 1453.1 614.1 1461.6 609 1465 602.2 1465 593.6 1461.6 583.4 1455.6 574.8 1447.1 568 1437.7 566.3 1427.4 569.7 1420.6 576.5 1417.1 586.8 1413.7 598.8 1410.3 612.4 1406 627.8 1401 644.9 1395.8 658.5 1390.7 668.8 1384.7 675.6 1377.8 679.1 1371.9 675.7 1366.8 665.4 1360.8 655.2 1353.9 644.9 1342 639.8 1316.3 639.8 1316.3 482.5 1352.2 482.5 1372.8 478.2 1389.9 469.7 1400.1 459.4ZM1716.2 803.8 1740.2 783.3 1774.3 779.9 1808.5 762.8 1835.9 756 1863.2 752.6 1890.5 749.1 1917.9 749.1 1945.2 742.3 1972.6 735.5 2047.8 735.5 2047.8 892.7 1863.2 892.7 1842.7 851.7 1822.2 834.6 1801.7 824.3 1774.3 814.1 1740.2 810.7ZM1623.9 728.6 1647.9 725.2 1654.7 742.3 1637.6 756 1620.5 749.1ZM1377 685.9 1383 682.5 1393.3 685.9 1401 692.7 1408.6 708.1 1412 735.5 1398.4 756 1405.2 776.5 1401.8 803.8 1408.6 824.3 1418.9 838 1425.7 858.5 1432.5 874.9 1391.5 874.9 1394.9 851.7 1384.7 824.3 1381.3 790.2 1377.9 756 1381.3 721.8 1374.4 701.3Z"/>
<path fill="#ffff00" d="M1465.8 530.4 1470.1 521.9 1477 518.4 1483.8 520.1 1490.7 527 1493.2 535.5 1491.5 545.8 1494.9 554.3 1503.4 561.2 1511.1 561.2 1518 554.3 1524.8 545.8 1531.7 535.5 1538.5 527 1545.4 520.1 1553 516.7 1561.5 516.7 1566.7 521.8 1568.4 532.1 1567.6 542.3 1564.1 552.6 1565.8 561.1 1572.7 568 1577.8 576.5 1581.2 586.8 1581.2 597 1577.8 607.3 1579.5 615.8 1586.4 622.7 1588.1 631.2 1584.6 641.5 1586.3 650 1593.2 656.9 1600 663.7 1606.9 670.5 1613.7 677.3 1620.5 684.2 1624.8 692.7 1627.4 708.1 1610.3 715 1596.6 708.1 1588.9 697.9 1582 692.8 1573.5 689.3 1565.9 684.2 1559 677.3 1552.2 670.5 1545.3 663.7 1538.5 656.9 1531.6 650 1524.8 648.3 1518 651.7 1511.2 650 1504.3 643.2 1501.8 634.7 1503.5 624.4 1502.6 614.2 1499.2 603.9 1495.8 593.6 1492.3 583.4 1486.3 576.5 1477.8 573.1 1471 566.3 1465.9 556 1464.2 544.1ZM1347.9 581.6 1353.1 576.5 1365 573.1 1377 573.1 1388.9 576.5 1395.8 581.6 1397.5 588.5 1394.1 593.6 1385.6 597.1 1377 597.9 1368.5 596.2 1360.8 594.4 1353.9 592.8 1349.7 588.5ZM1377.9 685.9 1382.2 681.6 1390.7 683.4 1397.5 688.5 1405.2 701.3 1401.8 718.4 1388.1 715 1377.9 701.3ZM1354.8 643.2 1359 640.6 1369.3 642.4 1373.6 645.8 1371.8 650.9 1367.6 653.4 1360.7 653.4 1356.5 650ZM1873.5 769.6 1897.4 759.4 1924.7 756 1941.8 766.2 1945.2 786.7 1931.6 803.8 1911.1 810.7 1890.5 807.2 1870 810.7 1863.2 797 1873.5 783.3ZM1835.9 817.5 1856.4 814.1 1863.2 831.2 1849.5 841.4 1835.9 831.2ZM1391.5 824.3 1408.6 827.8 1415.4 851.7 1412 874.9 1394.9 874.9 1394.9 851.7Z"/>
<path fill="#ffffff" d="M1496.6 577.4 1498.4 572.2 1506.9 567.1 1513.8 566.3 1518.9 569.7 1524.8 569.7 1531.7 566.3 1536.8 568 1540.2 574.8 1539.4 581.6 1534.2 588.5 1529.1 595.3 1524 602.2 1518 607.3 1511.1 610.7 1506 609 1502.6 602.2 1501.8 595.4 1503.5 588.5 1501.8 582.5ZM1476.2 534.7 1477.4 529.5 1481.7 527.9 1484.7 531.3 1486.3 539.8 1485.1 545 1480.8 546.6 1477.8 543.2ZM1914.5 766.2 1928.1 759.4 1931.6 776.5 1921.3 783.3Z"/>
<path fill="#ff9900" d="M1955.5 756 1976 759.4 1979.4 790.2 1962.3 803.8 1952.1 783.3Z"/>
<path fill="#ff6600" d="M1665 626.1 1666.7 615.9 1670.1 609 1675.2 600.5 1682.1 590.2 1707.7 576.5 1752.1 559.5 1817 568 1902.5 602.2 1945.2 632.9 1945.2 660.2 1941.8 680.8 1931.6 701.3 1945.2 721.8 1931.6 735.5 1911.1 742.3 1883.7 745.7 1863.2 749.1 1835.9 752.6 1808.5 759.4 1788 773.1 1767.5 776.5 1740.2 779.9 1719.6 790.2 1706 776.5 1692.3 756 1699.1 735.5 1712.8 721.8 1740.2 708.1 1755.6 692.7 1764.1 684.2 1770.9 677.3 1770.9 670.5 1764.1 663.7 1755.6 658.6 1745.3 655.1 1731.7 656 1714.5 661.1 1700.9 661.1 1690.6 656 1680.4 651.7 1670.1 648.3 1665 639.8ZM1411.2 629.5 1417.1 617.6 1427.4 614.1 1439.3 612.4 1453.1 612.4 1461.6 617.5 1465 627.8 1465 638 1461.6 648.3 1463.3 656.8 1470.2 663.7 1478.7 670.5 1489 677.4 1499.2 684.2 1509.5 691.1 1518.9 699.6 1531.7 715 1541.9 735.5 1562.4 749.1 1582.9 769.6 1603.4 790.2 1623.9 803.8 1637.6 824.3 1651.3 844.8 1637.6 874.9 1637.6 892.7 1408.6 892.7 1425.7 851.7 1418.9 824.3 1412 790.2 1418.9 756 1425.7 721.8 1420.6 696.1 1416.3 680.8 1411.2 667.1 1409.4 650ZM1422.3 572.3 1426.6 567.1 1435.1 565.5 1441.1 568.9 1444.5 577.4 1442.8 584.2 1435.9 589.4 1430 590.2 1424.8 586.8 1422.3 580.8ZM1440.2 432.1 1443.7 428.8 1459 430.4 1473.5 433.9 1487.2 438.9 1490.7 443.2 1483.8 446.7 1473.6 447.5 1459.8 445.8 1448.8 440.6Z"/>
<path fill="#ff3300" d="M1429.9 696.1 1433.4 692.7 1446.2 708.1 1466.7 701.3 1474.4 692.3 1487.2 689.3 1507.8 689.3 1520.5 694 1528.2 708.1 1538.5 735.5 1548.8 756 1555.6 783.3 1569.3 803.8 1589.8 817.5 1617.1 814.1 1630.8 831.2 1637.6 858.5 1634.2 874.9 1634.2 892.7 1494.1 892.7 1473.6 851.7 1466.7 824.3 1473.6 790.2 1466.7 762.8 1446.2 742.3 1432.5 721.8ZM1773.5 644.9 1776.9 636.4 1788.8 629.5 1800 624.4 1810.2 621 1820.5 619.3 1830.8 619.3 1842.7 621 1856.4 624.4 1870 627 1883.7 628.6 1897.3 632.1 1911.1 637.2 1917.9 648.3 1917.9 665.4 1912.8 675.6 1902.5 679.1 1892.3 682.5 1882 685.9 1873.5 692.7 1863.2 708.1 1842.7 721.8 1835.9 742.3 1822.2 728.6 1801.7 735.5 1781.2 745.7 1760.7 749.1 1740.2 756 1726.5 745.7 1747 735.5 1767.5 721.8 1777.8 701.3 1780.3 685.9 1781.2 675.7 1781.2 665.4 1778.6 655.2Z"/>
<path fill="#ff6600" d="M1839.7 646.2 1844.4 643.6 1854.7 644.5 1859.4 647.9 1858.5 653.9 1853.8 656.5 1845.3 655.5 1840.6 652.1ZM1778.2 698.3 1782 694.9 1790.5 695.8 1794.4 700 1793.1 711.5 1779.5 709.8Z"/>
</g>
<g clip-path="url(#cZ4)"><rect x="650" y="540" width="695" height="260" fill="#ff9900"/>
<path fill="#ff6600" d="M632.9 522.9 1251.6 522.9 1251.6 535.7 1253.3 546.8 1256.7 560.5 1258.4 572.4 1258.4 582.8 1255 591.3 1248.1 598.1 1241.3 604.9 1234.5 611.8 1232.8 620.3 1236.2 630.6 1239.6 640.8 1243 651.1 1241.3 659.6 1234.5 666.5 1224.2 666.5 1210.5 659.6 1198.6 659.6 1188.3 666.5 1178.1 671.6 1167.8 675 1155.9 675.9 1142.2 674.1 1128.6 672.4 1114.8 670.8 1101.2 666.5 1087.5 659.6 1073.8 653.7 1060.2 648.5 1048.2 648.5 1037.9 653.7 1031.1 661.3 1027.7 671.6 1022.6 680.1 1015.7 687 1005.5 689.5 991.8 687.9 979.9 684.4 969.6 679.3 960.2 671.6 951.7 661.3 944.8 651.9 939.7 643.4 930.3 635.7 916.6 628.8 904.7 628 894.4 633.1 884.2 634 873.9 630.6 865.4 624.6 858.5 616.1 848.2 612.6 834.6 614.4 823.4 611.8 814.9 604.9 806.4 606.6 797.9 616.9 790.2 625.4 783.3 632.3 773 637.4 759.4 640.8 746.5 644.2 734.6 647.7 726 652 721 657 720.1 663.9 723.5 672.4 732 676.7 745.7 676.7 761 676.7 778.2 676.7 788.4 680.1 791.9 687 788.5 693.8 778.1 700.7 771.3 709.2 767.9 719.5 762.8 721.2 755.9 714.3 747.4 708.3 737.1 703.2 728.6 703.2 721.8 708.3 717.5 716 715.8 726.3 717.5 736.5 722.6 746.8 727.8 757 732.9 767.3 733.7 777.5 730.3 787.8 724.3 795.5 711.5 803.2 696.1 795.5 685.9 791.2 675.6 787.8 661.1 789.5 632.9 799.8Z"/>
<path fill="#ff9900" d="M646.6 560.5 659.4 563 665.4 569 668.8 579.3 672.2 590.4 675.6 602.4 673.9 609.2 667.1 610.9 659.4 610.9 646.6 608.4ZM705.6 643.4 709 638.2 717.5 636.6 722.2 640 723.1 648.5 719.6 653.6 712 655.4 707.2 651.9Z"/>
<path fill="#ff3300" d="M1143.9 604.1 1144.8 594.7 1149.9 581 1155 569.1 1160.1 558.8 1166.1 549.4 1176.4 536.6 1210.5 536.6 1215.7 554.5 1215.7 565.6 1212.2 575.9 1207.1 584.4 1200.3 591.3 1193.5 596.4 1186.6 599.8 1183.2 605.8 1183.2 614.3 1178.1 619.5 1167.8 621.1 1159.3 619.5 1152.4 614.3 1147.3 609.2ZM701.3 570.7 705.6 566.9 714.1 566 719.7 568.6 722.2 574.6 719.6 581 712 587.9 706.4 588.7 703 583.6 701.3 577.6ZM643.2 646 668.8 643.4 675.6 645.1 672.2 650.2 663.7 654.5 643.2 659.6ZM691 541.7 694.4 540.9 701.3 542.5 703.9 545.1 702.1 548.6 698.7 549.4 693.6 547.7 691 545.1Z"/>
<path fill="#ffcc00" d="M1034.5 686.1 1039.7 677.6 1053.3 665.6 1068.7 662.2 1085.8 667.3 1101.2 673.3 1114.8 680.2 1132 685.3 1152.5 688.7 1171.2 688.7 1188.4 685.3 1203.7 683.6 1217.4 683.6 1231 678.5 1244.8 668.1 1254.1 654.5 1259.2 637.4 1260.1 622 1256.7 608.4 1259.3 596.4 1267.8 586.1 1276.4 575.9 1284.9 565.6 1292.6 555.4 1299.4 545.1 1302.8 534.9 1302.8 519.5 1367.8 519.5 1367.8 779.3 1331.9 784.4 1316.5 791.2 1306.2 806.6 1292.6 827.1 1282.3 847.6 1261.8 861.3 1244.7 868.1 1237.9 881.8 1210.5 881.8 1183.2 875 1155.9 881.8 1128.5 875 1114.8 881.8 1121.7 902.3 1108 922.8 1090.9 929.6 1073.8 916 1067 895.5 1053.3 881.8 1032.8 895.5 1026 881.8 1043.1 861.3 1046.5 833.9 1060.2 813.4 1073 803.2 1077.2 792.9 1077.2 779.2 1081.5 769 1090 762.2 1099.4 757.1 1109.7 753.6 1116.5 748.5 1120 741.6 1119.1 733.1 1114 722.8 1107.1 714.3 1098.6 707.5 1085.8 703.2 1068.7 701.5 1055 698.9 1044.8 695.5 1037.9 691.2ZM855.1 806.6 882.4 820.3 896.1 840.8 923.4 854.5 943.9 861.3 964.5 840.8 978.1 827.1 1005.5 833.9 1026 827.1 1046.5 833.9 1043.1 861.3 1026 881.8 814.1 881.8 820.9 854.5 834.6 833.9 844.8 813.4ZM776.5 781.8 782.5 778.4 787.5 783.5 789.2 791.2 786.7 806.6 793.6 823.7 773 833.9 759.4 820.3 764.5 804.9 769.6 793.8ZM958 792.5 960.2 789.1 965.3 788.2 968.3 790.8 969.2 796.8 967 800.2 959.3 801.5Z"/>
<path fill="#ff9900" d="M1280.6 619.5 1282.3 607.5 1289.2 605.8 1294.3 614.3 1297.7 633.1 1296 645.1 1289.1 650.2 1284 641.7ZM1321 656.4 1330 639.5 1354.1 632.3 1354.1 806.6 1331.9 806.6 1324.5 771.7 1321 745.1 1318.9 715 1318.9 685.5Z"/>
<path fill="#ffff00" d="M1102.9 783.5 1106.3 777.6 1116.6 774.1 1126.8 769 1137.1 762.2 1144.8 751.9 1149.9 738.2 1157.5 728.9 1167.8 723.8 1178.9 720.3 1190.9 718.6 1202 721.1 1212.3 728 1219.1 736.5 1222.5 746.8 1220.8 755.3 1213.9 762.2 1213.9 770.7 1220.8 781 1225.9 791.2 1231.1 806.6 1214 813.4 1196.9 806.6 1183.2 820.3 1176.4 833.9 1155.9 830.5 1145.6 816.9 1150.7 804.1 1149.9 796.4 1144.8 789.5 1138.8 789.5 1131.9 796.4 1123.4 798.9 1113.1 797.2 1106.3 792ZM1261 756.2 1264.4 749.4 1269.5 744.2 1273.8 746.8 1277.2 757.1 1276.4 766.5 1271.2 775 1266.1 776.7 1261 771.6 1259.2 764.7ZM1300.2 645.1 1302 640 1307.1 641.6 1310.5 648.5 1312.2 660.5 1310.5 665.6 1305.4 663.9 1302 657ZM1320.8 699.8 1322.5 691.2 1327.6 692.9 1331 703.2 1332.8 722 1331 730.5 1325.9 728.9 1322.5 718.6Z"/>
<path fill="#ffffff" d="M1162.7 779.2 1166.1 773.2 1173 768.1 1179 768.1 1184 773.2 1185.8 779.2 1184 786.1 1186.6 791.2 1193.5 794.6 1193.5 798 1183.2 803.2 1172.9 800.6 1167.8 797.2 1164.4 792.1 1162.7 786.1ZM1147 764.3 1148.6 762.6 1151.1 763.5 1152 766 1151.1 770.3 1149.6 772 1147.4 771.1 1146.5 768.6Z"/>
<path fill="#ff6600" d="M827.7 750.2 833.7 743.4 845.7 739.9 853.4 743.4 856.8 753.6 854.2 763 845.7 771.5 838 773.2 831.1 768.1 827.7 760.5ZM1054.2 728 1057.6 722.5 1066.1 718.1 1075.5 719.9 1085.8 727.5 1091.8 734.8 1093.5 741.7 1088.3 745.1 1076.4 745.1 1067 743.4 1060.1 739.9 1055.8 734.8ZM1015.7 787 1017.4 785.2 1027.7 790.4 1039.7 792.9 1053.3 792.9 1058.5 796.3 1053.3 806.6 1032.8 801.5 1022.6 795.5Z"/>
<path fill="#ff9900" d="M640 553 658.8 556.8 669.2 559.8 677.8 563.2 684.5 568.2 689.5 574.8 691 583.5 689 594.5 686 604.5 682 613.5 676.2 619 668.8 621 658.8 621.5 640 620ZM612 708 657 669 673.5 658 676.5 662 663.5 677 620 716Z"/>
</g>
<g clip-path="url(#cZ5)"><rect x="0" y="795" width="800" height="654" fill="#ff9900"/>
<path fill="#ffcc00" d="M177.3 790 185 802.8 193.6 813.1 205.5 825 214.9 839.5 221.8 856.7 229.5 871.2 238 883.1 246.6 892.5 255.1 899.4 266.2 905.3 279.9 910.5 293.6 918.1 307.2 928.5 320.9 933.6 334.6 933.6 344.8 931.9 351.7 928.4 359.4 925 367.9 921.6 375.6 921.6 382.4 925 390.1 922.4 398.6 913.9 406.3 905.3 413.2 896.8 421.7 892.5 432 892.5 436.2 901 434.6 918.2 436.2 931.8 441.3 942.1 449 952.3 459.4 962.6 469.6 968.6 479.9 970.3 488.4 968.6 495.2 963.5 505.5 962.6 519.1 966 525.1 972.8 523.5 983.1 527.7 991.6 538 998.5 547.4 1003.6 555.9 1007.1 563.6 1013.9 570.4 1024.2 573.8 1034.4 573.8 1044.7 578.9 1051.5 589.2 1054.9 601.1 1054.9 614.9 1051.5 626.8 1054.9 637.1 1065.2 643.9 1075.4 647.3 1085.7 652.4 1095.9 659.3 1106.2 667.8 1115.6 678.1 1124.1 683.2 1133.5 683.2 1143.8 690 1149.8 703.7 1151.5 715.6 1154 726 1157.4 736.2 1157.4 746.5 1154 758.4 1154 772.1 1157.4 787.5 1160 813.1 1162.6 867.8 1162.6 867.8 1302.7 585.8 1302.7 406.4 1217.2 235.4 1046.3 150 918.2 150 790ZM437.1 877.1 442.2 870.3 452.5 866.9 459.3 870.3 462.8 880.6 461.1 890 454.2 898.5 447.4 900.2 440.5 895.1 437.1 887.4ZM418.3 833.6 425.2 826.8 442.2 825.1 452.5 829.3 455.9 839.6 449.1 846.4 431.9 849.8 421.7 845.5ZM690.9 838.7 700.3 832.7 720.8 829.3 738.8 830.2 754.1 835.3 760.9 843 759.2 853.3 746.4 859.2 722.5 860.9 706.2 859.2 697.8 854.1 692.6 847.2ZM690.9 986.5 693.4 979.7 700.3 976.3 706.3 981.4 711.4 995.1 714.9 1007.9 716.5 1019.8 714 1025 707.1 1023.2 701.2 1017.3 696 1007 692.6 996.8ZM730.2 1001.9 734.5 993.4 741.3 989.9 748.1 996.8 755 1013.9 760.1 1031 763.5 1048 761.8 1058.3 755 1061.7 748.2 1058.3 741.3 1048 735.3 1037.8 730.2 1027.5 728.5 1015.6ZM664 955.8 665.2 951.5 670.4 953.2 674.2 959.2 676.8 969.5 675.5 973.8 670.4 972.1 666.5 966.1Z"/>
<path fill="#ffff00" d="M326 976.3 332.8 968.6 343.1 956.6 353.4 949.8 363.6 948.1 373.9 948.9 384.2 952.4 392.7 958.4 399.5 966.9 406.3 975.5 413.2 984 421.7 991.6 432 998.5 442.2 1001.9 452.5 1001.9 461 1003.6 467.9 1007.1 476.4 1007.1 486.7 1003.6 495.2 1007 502.1 1017.3 510.6 1025.8 520.9 1032.7 531.1 1036.1 541.4 1036.1 548.2 1042.1 551.6 1054 558.4 1063.4 568.7 1070.3 578.9 1074.5 589.2 1076.2 597.7 1082.2 604.6 1092.5 610.6 1102.7 615.7 1113 619.1 1124.9 620.9 1138.7 623.4 1150.6 626.8 1160.9 631.9 1171.1 638.8 1181.4 645.6 1189.9 652.5 1196.8 654.2 1205.3 650.7 1215.6 643.9 1222.4 633.6 1225.8 623.4 1229.2 613.1 1232.6 604.6 1236.9 597.7 1242 590 1250.6 581.5 1262.5 560.1 1242.9 526 1191.6 496.1 1148.9 470.4 1114.7 440.5 1080.5 406.4 1046.4 372.2 1017.3 338 993.4 322.6 979.7ZM623.4 1236 629.4 1230.1 644.7 1228.3 653.3 1232.6 655 1242.9 649 1248.8 635.4 1250.6 626.8 1246.3ZM760.1 1205.3 766.1 1196.8 774.6 1189.9 783.2 1188.2 791.7 1191.6 795.1 1200.2 793.5 1213.8 790.9 1227.5 787.4 1241.2 780.6 1246.3 770.3 1242.9 762.7 1236.1 757.5 1225.8 756.7 1215.6Z"/>
<path fill="#ffffff" d="M352.6 958.4 354.2 955.8 359.3 959.2 364.5 964.3 369.6 971.2 370.5 976.3 367 979.7 362.8 978.9 357.7 973.8 354.2 966.9ZM374.8 999.4 376.5 996.8 385 1000.2 391 1005.3 394.4 1012.2 392.7 1014.8 385.8 1013.1 379.8 1007.9ZM402.9 1030.1 408 1025 418.3 1023.2 426.8 1025.8 433.7 1032.7 440.5 1032.7 447.4 1025.8 454.2 1024.1 461.1 1027.6 467.9 1031 474.7 1034.4 479 1039.5 480.6 1046.4 478.1 1053.2 471.3 1060 465.3 1066 460.2 1071.1 454.2 1073.7 447.3 1073.7 440.5 1076.2 433.7 1081.4 426.9 1081.4 420 1076.2 414 1070.3 408.9 1063.4 405.4 1055.7 403.8 1047.2 402.9 1038.6ZM503 1066 506.4 1063.4 514.9 1063.4 523.4 1065.1 531.9 1068.6 537.9 1073.7 541.4 1080.5 539.7 1082.2 532.8 1078.8 526 1077.9 519.1 1079.7 513.2 1078.8 508.1 1075.4 504.6 1071.1Z"/>
<path fill="#ff6600" d="M228.6 776.3 226 802 228.6 817.4 235.5 831 242.3 843 249.1 853.3 259.4 855 273 848.1 283.3 849.8 290.2 860.1 295.3 870.3 298.7 880.6 302.9 878.9 308.1 865.2 316.6 856.7 328.6 853.2 343.2 849 360.2 843.8 370.5 845.6 373.9 854.1 380.7 855.8 391 850.7 399.5 843 406.4 832.7 413.2 823.3 420 814.8 425.1 802 430.3 776.3ZM629.4 810.5 631.9 802.9 638.8 801.1 642.2 808 642.2 823.3 640.9 837.9 638.4 851.5 635.8 851.5 633.2 837.9 631 824.2Z"/>
<path fill="#ff3300" d="M341.4 776.3 351.7 796.9 361.9 805.4 375.6 808.8 384.1 813.9 387.6 820.8 392.7 820.8 399.5 813.9 404.6 802 409.8 776.3Z"/>
</g>
<g clip-path="url(#cZ6)"><rect x="800" y="800" width="545" height="649" fill="#ff9900"/>
<path fill="#ffcc00" d="M829.9 855.6 839.3 851.3 849.6 844.4 859.8 845.3 870.1 853.8 882 859 895.7 860.6 905.9 858.1 912.8 851.3 921.3 852.1 931.6 860.6 943.6 864 957.2 862.4 967.5 855.5 974.3 843.6 981.1 835.9 988 832.5 996.5 831.6 1006.8 833.4 1017 832.5 1027.3 829 1035.8 825.6 1042.7 822.2 1047.8 823.9 1051.2 830.8 1049.5 839.3 1042.7 849.6 1035.9 860.7 1029 872.6 1029 882.9 1035.9 891.4 1044.4 896.6 1054.7 898.2 1063.2 903.4 1070 911.9 1072.6 921.3 1070.8 931.6 1073.4 941.8 1080.3 952.1 1085.4 965.8 1088.8 982.9 1088 996.5 1082.8 1006.8 1076.9 1013.6 1070 1017.1 1064.9 1015.4 1061.5 1008.5 1054.7 1006.8 1044.4 1010.2 1035.9 1015.3 1029 1022.2 1023.9 1030.7 1020.5 1041 1015.4 1044.4 1008.5 1041 1001.7 1038.4 994.8 1036.7 988 1040.1 981.1 1048.6 977.7 1058 977.7 1068.3 972.6 1074.3 962.3 1076 948.7 1075.2 931.5 1071.7 911 1067.5 887.2 1062.3 873.5 1058.1 870.1 1054.6 873.5 1046.1 883.8 1032.4 891.5 1018.8 896.5 1005 900 993.1 901.6 982.8 894 977.7 876.9 977.7 865 982.8 858.1 993.1 853.9 991.4 852.1 977.7 848.7 964.1 843.6 950.4 838.5 936.8 833.3 923.1 829.1 912.8 825.6 905.9 826.5 897.4 831.6 887.1 829.1 880.3 818.8 876.9 814.6 870.9 816.2 862.4 821.4 857.2ZM1080.3 786.3 1271.7 786.3 1276.8 812 1276.8 825.6 1273.4 835.9 1268.3 846.1 1261.4 856.4 1252.9 863.2 1242.6 866.7 1230.7 870.1 1217 873.5 1201.7 873.5 1184.5 870.1 1170.9 870.1 1160.6 873.5 1150.4 876.9 1140.1 880.3 1129.9 881.1 1119.6 879.5 1112.8 874.3 1109.3 865.8 1103.3 854.7 1094.8 841 1088.8 829.1 1085.4 818.8 1082.8 806.9ZM1199.1 905.9 1205 900 1215.3 894.8 1223 896.6 1228.1 905.1 1225.6 912.8 1215.3 919.6 1206.8 921.3 1199.9 917.9 1197.3 912.8ZM789.7 1152.1 820.5 1162.3 829.9 1176.8 828.2 1199.1 817.9 1214.5 789.7 1227.2Z"/>
<path fill="#ffff00" d="M1151.2 817.1 1152 808.6 1162.3 793.2 1223.8 793.2 1226.3 808.6 1221.2 815.4 1209.3 818.8 1196.5 823.9 1182.8 830.8 1171.7 832.5 1163.2 829 1156.3 823.9ZM1114.5 848.7 1117 842.7 1122.2 839.3 1123.8 841.9 1122.2 850.4 1124.7 856.4 1131.6 859.8 1133.3 863.2 1129.8 866.7 1124.7 866.7 1117.9 863.2 1114.5 857.2ZM864.9 903.4 870 897 880.3 892.7 887.1 894.5 890.6 902.1 888.9 909.4 882 916.2 875.2 918.8 868.3 917.1 864.9 911.9ZM967.5 956.4 970.9 951.7 977.8 947.4 983.8 948.3 988.9 954.2 988.9 959.8 983.8 964.9 977.8 966.6 970.9 965 967.5 961.5ZM991.8 894.7 995.2 892.7 1002.9 893.6 1006.4 896.1 1005.5 900.4 1002.1 902.4 996.1 902 992.7 899.5Z"/>
<path fill="#ff6600" d="M1039.3 1158.9 1041 1104.2 1044.4 1097.3 1051.2 1090.5 1061.5 1083.7 1073.4 1078.6 1087.1 1075.1 1097.3 1070.9 1104.2 1065.8 1112.7 1058.9 1123 1050.4 1130.7 1041 1135.8 1030.7 1135.8 1020.5 1130.7 1010.2 1123 1001.7 1112.7 994.8 1105.9 986.3 1102.5 976 1099.1 965.8 1095.6 955.5 1094.8 946.1 1096.5 937.6 1103.4 935.9 1115.3 941 1126.4 941.9 1136.7 938.4 1148.6 935.9 1162.3 934.1 1175.9 934.1 1189.7 935.9 1203.3 935 1217 931.6 1228.1 926.5 1236.6 919.6 1242.6 911.1 1246.1 900.8 1250.3 892.3 1255.5 885.4 1263.1 880.3 1273.4 876.9 1281.9 878.6 1288.8 885.5 1297.3 887.2 1307.6 883.7 1316.1 878.6 1323 871.8 1326.4 863.3 1326.4 853 1329.8 844.5 1336.6 837.6 1343.4 839.3 1353.7 854.7 1360.5 882 1381.1 902.5 1401.6 895.7 1428.9 902.5 1449.4 888.9 1469.9 868.4 1463.1 847.9 1442.6 834.2 1442.6 813.7 1449.4 786.3 1517.8 786.3 1517.8 1312.7 1158.9 1312.7 1039.3 1261.4Z"/>
<path fill="#ff3300" d="M1162.3 1184.5 1164 1136.7 1167.4 1126.4 1170 1114.5 1171.7 1100.8 1173.4 1088.8 1175.2 1078.5 1181.1 1073.4 1191.4 1073.4 1199.9 1070 1206.8 1063.2 1212.8 1054.7 1217.9 1044.4 1225.5 1037.6 1235.8 1034.1 1244.3 1027.3 1251.2 1017 1254.6 1006.8 1254.6 996.5 1258.9 988 1267.4 981.1 1273.4 972.6 1276.8 962.3 1281.9 952.1 1288.8 941.8 1297.3 934.2 1307.6 929 1317.8 927.4 1328.1 929 1340 933.3 1360.5 943.6 1381.1 964.1 1394.7 977.7 1415.2 970.9 1435.7 960.6 1449.4 943.6 1456.2 923 1476.8 912.8 1517.8 906 1517.8 1312.7 1251.2 1312.7 1162.3 1270ZM1108.4 957.2 1112.7 954.6 1123 956.4 1132.4 955.5 1140.9 952.1 1146.9 953.8 1150.4 960.7 1149.5 966.6 1144.4 971.8 1136.7 975.1 1126.4 976.9 1118.7 975.2 1113.6 970 1110.2 964.1Z"/>
<path fill="#d40000" d="M1315.2 954.7 1319.5 949.1 1333.2 946.6 1342.6 949.1 1350.3 960.6 1357.1 981.2 1350.3 998.2 1337.5 988 1330.6 980.3 1325.5 971.8 1320.4 963.2ZM1210.2 1197.4 1212.8 1154.6 1217.9 1146.1 1223.8 1138.4 1230.7 1131.5 1233.2 1123 1231.5 1112.7 1235 1104.2 1243.5 1097.3 1246.1 1099.1 1242.6 1109.3 1245.2 1116.2 1253.7 1119.6 1263.1 1120.5 1273.4 1118.8 1283.6 1119.6 1293.9 1123 1305.8 1120.4 1319.6 1111.9 1334.9 1105 1360.5 1097.4 1387.9 1093.9 1408.4 1080.3 1435.7 1070 1428.9 1059.8 1449.4 1056.3 1463.1 1052.9 1449.4 1066.6 1469.9 1073.4 1517.8 1052.9 1517.8 1312.7 1287.1 1312.7 1210.2 1274.2Z"/>
<path fill="#ff9900" d="M1146.9 1005.9 1149.5 996.5 1158 993.1 1165.7 988 1172.6 981.1 1181.1 976 1191.4 972.6 1202.5 972.6 1214.4 976 1219.6 981.1 1217.8 988 1210.2 992.2 1196.4 993.9 1185.3 999.1 1176.8 1007.6 1171.7 1017 1170 1027.3 1164.8 1031.6 1156.3 1029.8 1150.4 1021.3ZM1176.4 947.4 1180.3 944 1188.8 944.9 1192.7 949.1 1191.8 956.8 1188 960.2 1181.1 959.3 1177.3 955.1ZM1360.5 888.9 1381.1 902.5 1394.7 916.2 1391.3 936.7 1374.2 933.3 1364 912.8ZM1387.9 929.9 1415.2 926.5 1425.5 943.6 1415.2 957.2 1394.7 953.8Z"/>
<path fill="#ff6600" d="M1278.9 996.1 1282.8 992.2 1291.3 993.9 1296 999.1 1296.9 1007.6 1293 1011.5 1284.5 1010.6 1279.8 1005.5ZM1273.4 1036.2 1277.2 1032.8 1285 1033.7 1288.4 1037.9 1287.5 1045.7 1283.7 1049.1 1276.8 1048.2 1273.4 1044Z"/>
<path fill="#ff3300" d="M1350.3 1117.9 1364 1114.5 1377.6 1128.1 1377.6 1145.2 1360.5 1148.6 1350.3 1135Z"/>
</g>
<g clip-path="url(#cZ7)"><rect x="1345" y="700" width="703" height="749" fill="#ff9900"/>
<path fill="#ff6600" d="M1412.9 686.3 1415.5 722.2 1418.1 741 1421.5 754.7 1426.6 768.4 1433.5 782 1440.3 794.9 1447.1 806.8 1452.2 818.8 1455.7 830.7 1455.7 841.8 1452.2 852.1 1452.2 864.1 1455.7 877.8 1458.2 889.7 1460 900 1457.4 908.5 1450.5 915.4 1445.4 923.9 1442 934.2 1441.2 944.4 1442.8 954.7 1440.3 963.2 1433.4 970 1424.9 976 1414.6 981.1 1404.4 982 1394.1 978.6 1385.6 972.6 1378.7 964.1 1371.9 957.2 1365.1 952.1 1354.8 948.6 1334.3 946.1 1334.3 1212.7 1575.3 1212.7 1655.6 1204.2 1655.6 1187 1689.8 1152.9 1758.1 1101.6 1800.8 1050.3 1818 999 1843.6 956.3 1877.8 922.2 1888.1 896.5 1874.3 879.5 1862.4 865.8 1852.1 855.5 1841.9 850.4 1831.6 850.4 1821.4 850.4 1811.1 850.4 1804.3 847 1800.9 840.1 1792.3 833.3 1778.7 826.4 1765 820.5 1751.3 815.3 1749.6 810.2 1759.9 805.1 1770.1 800.8 1780.4 797.4 1790.6 792.3 1800.9 785.4 1811.1 778.6 1821.4 771.8 1833.3 765 1847.1 758.1 1860.7 753 1874.4 749.6 1888 746.2 1901.7 742.7 1915.3 739.3 1929.1 735.9 1937.6 730.8 1941 723.9 1939.3 712 1929.1 686.3 1792.3 686.3 1776.9 706.9 1765 715.4 1751.3 718.8 1739.4 722.2 1729.1 725.6 1718.9 729 1708.6 732.5 1700.1 737.6 1693.2 744.5 1686.4 753 1679.5 763.3 1671 771.8 1660.7 778.6 1650.5 783.7 1640.2 787.2 1628.3 787.2 1614.6 783.7 1602.7 783.7 1592.4 787.2 1583.9 785.5 1577 778.6 1571.9 768.4 1568.5 754.7 1563.4 741 1556.5 727.4 1548 712 1532.6 686.3ZM1334.3 891.4 1360 901.7 1370.2 911.9 1373.6 925.6 1373.6 939.2 1370.2 952.9 1360 959.8 1334.3 959.8Z"/>
<path fill="#ff3300" d="M1429 686.3 1441.8 702.5 1451.2 706.2 1461.5 702.7 1471.7 697.3 1487.1 686.3 1518.9 686.3 1524 701.7 1529.1 713.6 1536 727.4 1542.8 741 1549.7 754.7 1554.8 766.6 1558.2 776.9 1561.6 788.9 1565.1 802.5 1571.9 812 1582.2 817 1594.1 818.8 1607.8 817.1 1618.9 819.6 1627.4 826.5 1629.1 835 1624 845.3 1626.5 852.1 1636.8 855.5 1643.6 860.6 1647.1 867.5 1645.4 874.3 1638.5 881.2 1631.7 889.7 1624.8 900 1626.5 908.5 1636.8 915.4 1647.1 922.2 1657.3 929 1665.9 934.1 1672.7 937.6 1681.2 937.6 1691.5 934.1 1701.7 933.2 1712 934.9 1718.8 939.2 1722.3 946.1 1720.6 953.8 1713.7 962.3 1706.9 968.3 1700 971.7 1693.2 976 1686.4 981.1 1684.7 987.1 1688.1 994 1694.9 995.7 1705.2 992.2 1715.4 989.6 1725.7 988 1735.9 988.8 1746.2 992.2 1754.7 997.3 1761.6 1004.2 1765.8 1011.9 1767.6 1020.4 1764.1 1028.1 1755.6 1035 1746.2 1040.1 1735.9 1043.5 1728.2 1048.6 1723.1 1055.5 1718 1063.2 1712.9 1071.7 1705.2 1079.4 1694.9 1086.2 1684.7 1092.2 1674.4 1097.3 1664.2 1102.5 1653.9 1107.6 1645.4 1113.6 1638.5 1120.4 1631.7 1128.9 1624.8 1139.2 1585.5 1161.4 1513.8 1195.6 1462.5 1229.8 1431.8 1264 1395.9 1281.1 1334.3 1281.1 1334.3 959.8 1360 964.9 1371.9 971.7 1378.8 982 1387.3 989.7 1397.6 994.8 1407.8 995.7 1418.1 992.2 1430 988 1443.7 982.8 1452.2 975.2 1455.7 964.9 1456.6 954.7 1454.8 944.4 1456.5 934.2 1461.7 923.9 1469.3 915.4 1479.6 908.5 1481.3 900 1474.4 889.7 1469.3 877.8 1465.9 864.1 1465.9 852.1 1469.3 841.8 1469.3 830.7 1465.9 818.8 1460.8 806.8 1453.9 794.9 1447.1 782 1440.3 768.4 1434.3 754.7 1429.2 741 1427.2 722.2ZM1731.7 747 1733.4 741.9 1745.3 736.8 1756.4 730.8 1766.7 723.9 1776.1 717.1 1784.6 710.2 1791.5 701.7 1799.2 686.3 1922.2 686.3 1927.4 706.9 1923.9 715.4 1913.7 718.8 1901.7 722.2 1888 725.6 1876.1 729 1865.8 732.5 1855.6 734.2 1845.3 734.2 1840.2 738.5 1840.2 747 1835.1 750.4 1824.8 748.8 1812.8 748.8 1799.2 750.4 1787.2 753 1776.9 756.4 1765 757.2 1751.3 755.6 1740.2 752.1Z"/>
<path fill="#d40000" d="M1559.1 1011.9 1563.3 1004.2 1570.2 997.3 1578.7 992.6 1589 990.1 1598.4 990.9 1606.9 995.2 1614.6 1000.8 1621.5 1007.6 1624 1015.3 1622.3 1023.8 1624.8 1029.8 1631.7 1033.3 1640.2 1035.8 1650.5 1037.6 1660.7 1036.7 1671 1033.2 1681.2 1030.7 1691.5 1028.9 1699.2 1029.4 1704.3 1032 1702.6 1035.4 1694.1 1039.7 1686.4 1044.4 1679.5 1049.5 1671 1053.8 1660.7 1057.2 1652.2 1062.3 1645.3 1069.2 1636.8 1071.7 1626.5 1070 1620.6 1065.7 1618.8 1058.9 1613.7 1057.2 1605.2 1060.6 1597.5 1060.6 1590.7 1057.2 1582.2 1052.1 1571.9 1045.2 1564.2 1037.5 1559.1 1029 1557.3 1020.4ZM1334.3 1096.5 1360 1091.3 1374.5 1086.2 1386.4 1079.4 1398.4 1076 1410.4 1076 1421.5 1072.6 1431.8 1065.7 1442.9 1059.8 1454.8 1054.6 1458.2 1056.3 1453.1 1064.8 1457.3 1068.2 1471.1 1066.5 1483 1062.3 1493.3 1055.5 1503.5 1052.9 1513.8 1054.7 1524 1054.7 1534.3 1052.9 1542.8 1054.6 1549.7 1059.8 1556.5 1064.9 1563.4 1070 1571.9 1074.3 1582.2 1077.7 1592.4 1078.6 1602.7 1076.8 1611.2 1078.5 1618 1083.7 1621.4 1090.5 1621.4 1099 1618 1106.7 1611.2 1113.6 1602.7 1123.8 1592.4 1137.5 1561.7 1161.4 1510.3 1195.6 1467.6 1229.8 1433.5 1264 1395.9 1281.1 1334.3 1281.1ZM1312.7 950.4 1340 945 1347.5 956.7 1351.8 965.7 1355.2 975.9 1355.2 985.2 1351.8 993.8 1345.8 994.6 1333 984.6 1323 967.5Z"/>
<path fill="#ff9900" d="M1655.6 875.2 1662.4 868.3 1676.2 863.2 1689.8 862.3 1703.5 865.8 1717.1 864.1 1730.8 857.2 1744.4 855.5 1758.2 858.9 1771.8 861.5 1785.5 863.2 1799.2 860.7 1812.8 853.8 1826.5 850.4 1840.2 850.4 1852.1 855.5 1862.4 865.8 1864.1 876 1857.3 886.3 1847.1 894.8 1833.3 901.7 1821.4 908.5 1811.1 915.4 1802.6 923.9 1795.7 934.2 1787.2 941 1776.9 944.4 1766.7 943.5 1756.4 938.4 1746.2 932.4 1735.9 925.6 1725.7 918.8 1715.4 911.9 1705.2 910.2 1694.9 913.6 1684.7 911.9 1674.4 905.1 1665.9 898.3 1659 891.4 1655.6 883.7ZM1539.4 686.3 1655.6 686.3 1671 712 1679.5 727.4 1686.4 741 1693.2 754.7 1700.1 768.4 1705.2 781.2 1708.6 793.1 1705.2 802.5 1694.9 809.4 1684.7 810.2 1674.4 805.1 1664.2 798.2 1653.9 789.7 1643.7 786.3 1633.4 788 1623.2 787.2 1612.9 783.7 1602.7 783.7 1592.4 787.2 1583.9 783.8 1577 773.5 1570.2 761.5 1563.3 747.9 1556.5 735.9 1549.6 725.6 1544.5 712ZM1520.6 1003.3 1522.3 996.5 1529.2 988 1537.7 982 1548 978.6 1556.5 976 1563.4 974.3 1565.1 977.7 1561.6 986.2 1554.8 993.9 1544.5 1000.8 1536 1005.9 1529.1 1009.3 1524 1008.5ZM1761.5 1070.8 1756.4 1058.8 1766.7 1038.3 1775.2 1019.5 1782.1 1002.4 1787.2 985.4 1790.6 968.3 1794 954.7 1797.5 944.4 1806 939.3 1819.7 939.3 1818 973.5 1800.8 1041.8 1782 1074.3ZM1640.2 1128.9 1640.2 1118.7 1650.5 1108.4 1664.1 1099.9 1681.2 1093 1694.9 1086.2 1705.2 1079.4 1715.4 1068.3 1725.7 1052.9 1737.7 1044.3 1751.3 1042.7 1749.7 1058.9 1732.5 1093.1 1706.9 1118.7 1672.7 1135.8 1650.5 1139.2Z"/>
<path fill="#ffcc00" d="M1671 881.1 1674.4 876 1684.7 872.6 1694.9 873.5 1705.2 878.6 1706.9 883.8 1700 888.9 1691.5 891.4 1681.2 891.4 1674.4 888ZM1802.6 867.5 1812.8 862.4 1826.6 858.9 1840.2 860.6 1853.9 867.5 1857.3 876 1850.4 886.3 1840.2 893.1 1826.5 896.5 1814.6 896.5 1804.3 893.1 1797.5 888 1794 881.1 1795.7 874.3ZM1553.9 711.1 1561.6 703.4 1587.3 693.2 1628.2 708.6 1644.5 718.8 1649.6 729.1 1648.8 739.3 1641.9 749.6 1634.2 751.3 1625.7 744.4 1618 744.4 1611.2 751.3 1606.1 760.7 1602.6 772.6 1596.6 776 1588.1 771 1580.4 761.5 1573.6 747.9 1566.8 736.7 1559.9 728.2 1555.7 719.6ZM1729.1 812.8 1729.1 810.2 1739.4 811.9 1749.6 810.2 1759.9 805.1 1771.8 799.1 1785.5 792.3 1797.4 785.5 1807.7 778.6 1818 772.6 1828.2 767.5 1838.5 762.4 1848.8 757.2 1860.7 753 1874.4 749.6 1888 745.3 1901.7 740.2 1917 736.8 1934.2 735.1 1952.1 734.2 1970.9 734.2 1988.8 734.2 2006 734.2 2014.5 751.3 2014.5 785.4 1984.6 824.7 1924.8 869.2 1888.1 886.3 1874.3 876 1862.4 865.8 1852.1 855.5 1841.9 850.4 1831.6 850.4 1821.4 848.7 1811.1 845.3 1802.6 840.2 1795.7 833.3 1787.2 827.3 1776.9 822.2 1765 820.5 1751.3 822.1 1739.4 819.6ZM1355.7 857.2 1361.7 843.5 1375.3 829.9 1389 821.3 1402.7 817.9 1415.5 821.3 1427.4 831.6 1436.8 843.6 1443.7 857.2 1447.9 870.9 1449.7 884.6 1448.8 898.2 1445.4 911.9 1438.6 923.9 1428.3 934.2 1418.1 943.5 1407.8 952 1397.6 955.4 1387.3 953.8 1380.5 947.8 1377 937.5 1373.6 925.6 1370.2 911.9 1366 898.2 1360.8 884.6 1357.4 870.9ZM1530.9 989.7 1534.3 985.4 1544.6 982 1550.5 982 1552.2 985.4 1548.8 989.7 1540.3 994.8 1534.3 994.8ZM1355.2 736.7 1358.2 728.2 1365.1 729.9 1368.1 740.2 1367.2 759 1364.2 767.5 1359.1 765.8 1356.1 755.5ZM1392.8 752.1 1396.7 745.3 1405.2 747 1409.1 755.6 1408.2 770.9 1404.4 777.8 1397.5 776.1 1393.7 767.5Z"/>
<path fill="#ffff00" d="M1587.3 693.2 1618 693.2 1620.6 708.6 1617.1 714.6 1608.6 716.2 1600.9 715.4 1594.1 712 1589.8 706ZM1864.9 787.1 1868.4 778.6 1876.9 771.8 1886.3 766.7 1896.6 763.2 1908.5 759.8 1922.2 756.4 1932.5 758.1 1939.3 765 1942.7 773.5 1942.7 783.8 1938.4 792.3 1929.9 799.1 1920.5 802.5 1910.2 802.5 1900 803.4 1889.7 805.1 1880.3 805.1 1871.8 803.4 1866.7 797.4ZM1823.1 823.9 1827.4 818.8 1835.9 817.1 1842.8 819.6 1847.9 826.5 1847 833.3 1840.2 840.2 1833.4 841.9 1826.5 838.4 1823.1 832.4ZM1854.8 841 1858.2 837.6 1866.7 839.2 1871.8 844.4 1873.5 852.9 1870.1 856.4 1861.6 854.6 1856.5 849.5ZM1387.3 827.3 1390.7 818.8 1401 817.1 1407.8 821.3 1411.2 831.6 1411.2 841.8 1407.8 852.1 1402.7 855.5 1395.8 852.1 1390.7 842.7Z"/>
<path fill="#ffffff" d="M1915.4 764.9 1918.8 760.6 1925.7 759 1929.9 762.4 1931.7 770.9 1929.9 777.8 1924.8 782.9 1920.5 782.9 1917.1 777.8 1915.4 771.8ZM1875.2 798.3 1877 794.9 1882 793.1 1885.4 794.8 1887.2 800 1885.5 803.4 1880.3 805.1 1877 803.4Z"/>
<path fill="#ff9900" d="M1959 772.6 1964.1 770.1 1972.6 773.5 1977.8 781.2 1979.5 793.1 1976 800 1967.5 801.6 1961.5 798.2 1958.1 789.7 1957.2 781.1Z"/>
<path fill="#ff3300" d="M1353.1 1123.8 1356.5 1116.6 1366.8 1115.7 1373.6 1121.7 1377.1 1134.5 1373.7 1141.8 1363.4 1143.5 1356.6 1137.5ZM1430.4 1089.2 1433.4 1086.6 1440.3 1087.5 1443.3 1090.9 1442.4 1096.9 1439.4 1099.5 1434.3 1098.6 1431.3 1095.2Z"/>
</g>
</g>
<g clip-path="url(#cin)" fill="none" stroke="#6e6e6e" stroke-width="3" stroke-linejoin="round" stroke-linecap="round">
<polyline points="290.5,431.6 298.7,438.4 304.2,440.1 314.5,440.1 321,441.5 330.2,445.6 334.3,449.4 337.4,456.5 343.2,458.2 357.5,456.2 364,457.9 369.1,465.1 370.5,470.9 369.4,481.2 368.4,486 366.4,490 367.1,495.5 371.2,507.8 371.6,513.3 368.4,517.4 369.1,520.2 374.3,524.2 377.7,528.3 382.8,536.6 384.2,542 383.1,550.2 380.8,553.2 374.6,554.3 375.3,557.7 383.5,566.9 386.9,570.7 389.6,573.4"/>
<polyline points="389.6,573.4 385.5,584.4 381.4,588.5 372.2,592.5 369.4,598 370.5,610.4 367.7,613.5 358.6,610.3 353.4,608.3 347.3,605.2 341.8,603.5 331.5,601.5 326.1,602.2 319.9,606.2 315.2,609.7 306.9,615.8 301.5,619.3 293.2,623.3 290.2,627.1 289.1,634.3 285.7,638.4 276.5,643.5 270,644.9 259.7,643.8 252.9,642.8 242.7,640.8 236.6,641.1 228.3,644.2 222.2,646.6 211.9,650.7 205.1,651.7 194.8,650.7 187.3,651 170.9,653.8"/>
<polyline points="389.6,573.4 396.5,572 399.6,572 403.6,573.1 406,575.1 409.2,580.3 411.9,581.3 418.7,578.6"/>
<polyline points="418.7,578.6 424.1,571.7 427.9,569 435.1,565.9 438.9,561.1 442.9,549.9 446.4,544 452.5,537.9 458,535.1 468.3,533.1 474.4,530.4 482.7,524.2 487.4,520.8 493.6,516.7 498.3,516 506.6,518.1 512,517.4 520.2,513.3 525,510.5 531.1,506.5 535.3,504.4 541.4,502.4 544.2,503.1 546.2,507.1 549.6,506.4 557.8,500.3 563.2,496.8 571.5,492.8 575.6,490 579.7,486 582.5,481.9 586.5,473.6 589.3,470.2 593.3,468.2 598.8,467.8 611.1,468.9 620.7,468.9 637.1,467.8 646.7,467.8 659,468.9 660.5,469.7 650,471.8"/>
<polyline points="418.7,578.6 422.8,588.1 422.4,592.6 418.4,598.7 419.7,600.5 428,599.4 434.1,599.8 444.4,601.8 449.8,604.9 456,612.1 462.1,615.5 474.4,618.6 481.2,620.6 489.5,623.7 494.9,626.4 503.2,631.6 507.9,635 514.1,640.1 520.2,643.9 532.5,650 537.3,656.9 539.3,671.2 539,679.4 535.9,689.7 533.5,699.2 529.5,717.7 529.8,727.2 534.9,737.5 537.6,743.6 540.7,751.9 538.6,756.6 529.5,762.8 524.3,767.5 518.2,775.8 515.4,781.8 512.7,794.9"/>
<polyline points="769.6,239.4 758.7,246.2 755.3,251.3 753.2,261.6 749.8,265.3 741.6,266.4 735.8,265 726.6,259.9 722.1,262 718.1,273.2 715,280.4 709.8,290.7 706.1,295.5 699.9,299.5 697.5,305 696.5,317.3 695.1,322.8 692,326.8 692.4,332.3 696.5,344.7 699.9,352.2 706.1,362.4 710.2,369.2 716.3,379.5 720.1,385 726.9,393.2"/>
<polyline points="726.9,393.2 724.2,406.9 721.8,413 716.6,421.2 711.5,425.3 701.3,429.4 697.2,434.9 695.1,447.2 691,453.3 680.7,459.5 673.9,462.9 663.7,467 658.2,469.1 650,471.8"/>
<polyline points="726.9,393.2 736.5,394.6 741.6,395.9 749.8,399 753.9,401.4 758,405.5 764.9,405.9 781.2,402.7 789.4,399.3 797.7,392.2 801.4,387.1 804.5,378.8 809.9,375.8 823.3,374.7 829.4,372 834.6,364.8 838.7,361 845.8,357 849.6,353.9 853.7,348.7 857.8,348.7 866.1,353.9 871.5,356.3 879.7,358.3 885.1,361.7 893.4,370 898.1,374.7 904.3,380.9 907.7,384.6 913.2,391.5"/>
<polyline points="913.2,391.5 926.9,395.6 933,397.3 941.2,399.3 946,398 952.1,391.8 957.6,390.5 967.9,392.5 974,395.2 982.3,401.4 987.7,403.1 995.9,402 999.3,399.3 1001.4,392.2 1004.1,388.1 1010.3,382.9 1015,382.9 1023.3,388.1 1028.7,389.8 1036.9,389.8 1042.7,389.1 1051.9,387 1053.6,383.6 1049.6,375.4 1047.2,370 1044.1,361.7 1043.8,355.6 1045.8,345.3 1045.1,339.2 1041,330.9 1039.3,324.1 1038.2,311.8 1037.6,304.3 1036.5,294 1034.5,287.9 1027.7,277"/>
<polyline points="913.2,391.5 915.9,406.5 917.6,413.7 920.7,424 920.7,431.5 917.6,443.8 914.9,448.6 909.8,450.6 909.8,454 914.9,462.3 920,467 930.3,473.2 935.1,477.9 939.1,486.2 943.9,489.6 954.2,491.6 961.7,492 974,490.9 979.1,493.7 982.3,502.9 984,509.4 986,519.7 987.4,525.8 989.4,534 988.4,540.1 983.2,550.4 983.6,555.2 989.7,559.3 994.2,562.7 1003.8,570.9"/>
<polyline points="653.4,574.2 667.1,568.7 671.9,566.6 675.9,564.6 680,564.6 688.3,566.6 691.7,564.6 693.7,556.4 699.2,552.3 713.6,548.2 722.8,546.1 736.2,544.1 742.3,545.5 747.4,551.6 751.8,554.4 760.1,556.4 764.8,559.8 771,568.1 775.7,572.2 784,576.2 787.7,579.3 790.8,584.4 790.1,587.5 785,591.6 780.9,594.7 773.7,599.8 773,603.9 778.2,611.1 779.2,615.2 777.2,620.3 773.1,621.3 762.8,619.3 756,618.3 745.7,617.2 739.6,618.6 731.3,623.7 725.2,626.8 714.9,630.9 709.5,634.7 703.3,641.8 698.6,643.9 690.3,642.8 686.9,639.8 684.9,631.6 682.5,626.5 677.3,619.3 675.9,615.2 677,610.1 675.3,606.3 669.1,600.2 666.1,596.7 663,592.7 663.7,589.9 668.8,585.8 669.1,583 665.1,579 661.6,576.9 653.4,574.2"/>
<polyline points="1003.8,570.8 995.6,581.7 993.2,586.5 992.1,592.6 989.7,596.4 983.6,601.5 983.6,604.9 989.7,610.1 995.2,613.5 1005.5,618.6 1010.9,622.7 1017.1,629.9 1020.8,634.3 1026,640.5 1027,646.6 1025,658.9 1023.6,665.7 1021.5,674 1020.8,678.4 1020.8,685.3"/>
<polyline points="1003.8,570.8 1021.6,562.6 1028.7,559.5 1036.9,556.4 1043.7,556.4 1056.1,559.5 1064.3,559.5 1076.6,556.4 1083.4,553.3 1091.6,547.2 1097,546.8 1105.3,552 1112.1,552.7 1124.4,549.5 1131.9,547.8 1142.2,545.8 1148.3,546.8 1156.6,552 1160.7,556.4 1164.7,564.6 1169.5,568.7 1179.8,572.8 1186.6,576.9 1196.9,585.2 1203.7,590.6 1214,598.8 1221.5,600.5 1233.8,597.4 1241.7,596.7 1252.9,597.8 1256.4,596.1 1255.3,589.9 1256.4,585.2 1260.4,576.9 1265.9,572.1 1278.2,566 1285,561.9 1293.3,555.7 1297.4,551.6 1301.4,545.5 1305.5,544.4 1313.8,547.5 1319.9,550.2 1330.2,555.4 1334.3,557.4 1337,558.8"/>
<polyline points="1020.8,685.3 1011.3,690.7 1006.8,693.5 1000.7,697.5 998.6,701 998.6,707.1 996.2,709.5 989.1,710.6 985,713 979.8,719.1 974,722.2 961.7,725.3 954.9,727 946.6,729 942.9,732.1 939.8,739.3 936.8,743.7 930.6,749.9 928.6,754.6 928.6,762.9 931.7,767 940.8,771 944.6,774.8 946.7,782 945.3,786.1 939.2,791.2 934.4,794.6 926.1,799.8 920.7,800.5 912.5,797.3 905.7,797 893.4,799.1 885.9,799.8 875.6,799.8 869.5,801.8 861.2,808 857.8,812.4 855.1,822"/>
<polyline points="1020.8,685.3 1030.4,693.5 1035.5,697.6 1043.8,703.7 1049.2,705.8 1057.5,705.8 1063.6,706.8 1073.8,709.9 1080.6,712.3 1090.9,716.3 1095.7,719.4 1099.8,724.6 1104.6,728 1114.9,733.1 1119.7,736.9 1123.7,743 1127.2,747.1 1133.3,753.3 1137.4,756 1143.6,758.1 1147.7,757.4 1153.8,753.3 1157.3,749.2 1161.3,740.9 1165.4,739.6 1173.7,743.7 1179.1,746.5 1187.3,750.5 1192.7,753.3 1201,757.4 1207.8,760.2 1220.1,764.2 1226.9,767.6 1235.2,773.8 1240.6,777.5 1248.9,782.7 1254.3,785.4 1262.5,788.5 1268.3,792.2 1280.6,803.2"/>
<polyline points="1280.6,803.2 1292.9,799.1 1300.8,798.4 1315.1,799.5 1320.9,796.7 1324,787.5 1330,784.1 1345,783 1350.8,782.8 1353.1,783.2 1358,784.7 1370.3,788.8 1378.5,791.6 1394.9,797"/>
<polyline points="1280.6,803.2 1278.5,800"/>
<polyline points="855.1,822 846.9,815.1 843.4,811.7 839.4,806.6 835.3,804.6 827,803.5 821.2,801.1 812,795 806.5,795 799.4,801.1 797,806.6 797,816.9 794.9,821.7 788.8,825.7 784,829.8 775.7,838.1 769.6,838.7 759.4,832.6 755.3,829.8 753.2,827.8 749.1,826.4 738.8,824.4 732,823.7 721.8,823.7 715.7,823 707.4,821 701.3,822.3 691,828.5 685.5,829.5 679.4,826.4 674.6,823 666.4,815.8 661,813.7 650,815.1"/>
<polyline points="855.1,822 849.6,834.3 849.6,839.4 853.7,845.6 854.8,851 853.7,861.3 852.4,867.4 849.2,875.7 847.5,882.5 845.5,894.8 846.9,900.9 853,907.1 854.1,911.2 851,917.3 852.4,922.1 859.5,930.4 864.6,934.8 872.9,939.9 877.6,940.6 883.8,937.5 889.6,938.5 900.8,944.7 904.3,948.8 903.2,954.9 905.3,957.7 912.5,959.7 915.9,962.5 919,968.6 922.7,969.3 931,965.2 937.1,965.5 947.4,970.7 955.6,972.1 969.9,971 975.4,975.5 977.4,989.8 980.8,996.6 989.1,1002.8 995.9,1006.5 1008.2,1011.7 1016.4,1012.4 1028.7,1009.3 1034.9,1010.3 1041,1016.5 1045.1,1020.6 1053.3,1028.8"/>
<polyline points="450.8,1073.7 448.1,1062.7 448.8,1056.6 452.8,1046.3 456.3,1041.5 462.4,1037.5 463.8,1032 461.7,1019.7 462.4,1012.2 466.5,1001.9 471.3,997.8 481.6,995.8 487,993 493.2,986.9 496.6,982.1 500.7,973.9 500.7,969.1 496.6,963 496.6,958.8 500.7,952.7 501.4,948.6 499.3,942.4 500,937.7 504.1,929.4 507.2,924.7 512.3,918.5 516.1,913.1 522.2,902.8 523.3,893.9 520.1,877.5 519.4,868.6 520.5,858.3 519.4,851.5 515.4,841.3 515,837.2 519.1,834.4"/>
<polyline points="519.1,834.4 517.7,823.5 516.4,818.7 513.3,812.6 512.6,806.4 513.7,794.1 513.7,791 512.7,794.9"/>
<polyline points="519.1,834.4 532.8,833 541,833.4 555.4,835.4 562.9,835.1 571.1,832 577.2,830 587.5,826.9 592.3,823.8 596.4,817.7 599.8,817.3 606,822.5 612.1,824.9 624.4,826.9 631.9,827.3 642.2,826.2 647.7,823.5 653.8,816.3 654.7,814.1 650,815.1"/>
<polyline points="1051.2,1027.3 1041.7,1034.1 1037.9,1038.5 1033.8,1046.8 1031,1051.6 1027,1057.7 1024.6,1061.8 1021.5,1068 1023.6,1071.4 1032.7,1075.5 1037.9,1078.3 1044,1082.3 1045.4,1085.7 1043.4,1091.9 1041.3,1096 1035.8,1104.2"/>
<polyline points="1046.1,1083.7 1057.1,1089.1 1061.8,1088.8 1068,1083.7 1074.1,1081.7 1086.4,1080.6 1092.6,1078.2 1098.7,1072.1 1104.2,1068 1114.5,1061.8 1122,1058.4 1134.3,1054.3 1141.8,1050.5 1152.1,1043.4 1158.9,1042 1169.2,1045.1 1176.7,1046.4 1189,1047.5 1196.5,1046.1 1206.8,1041 1210.9,1037.9 1212.9,1033.8 1217.7,1031 1230,1027 1235.5,1022.9 1239.5,1014.6 1238.9,1010.5 1232.7,1006.5 1232.7,1002.4 1238.9,994.1 1242.3,988.7 1246.4,980.4 1246.4,974.3 1242.3,964 1243,957.9 1249.1,949.7 1249.8,943.6 1245.7,933.3 1242.3,925.8 1236.1,913.5 1235.5,905.3 1239.5,893 1241.6,885.5 1243.6,875.2 1247,870.1 1255.3,864.9 1260.1,861.5 1266.2,856.4 1270.3,852 1276.5,843.7 1277.1,838.3 1273.1,830 1274.4,825.9 1282.7,821.9 1284,817.8 1279.9,809.5 1278.5,805.4 1278.5,800"/>
<polyline points="1412,523.6 1406.6,540 1403.5,548.2 1398.4,560.5 1396,568.7 1393.9,581 1393.5,587.8 1394.6,596.1 1392.9,600.8 1386.7,607 1381.6,610.4 1372.4,614.4 1370.3,619.2 1373.4,629.5 1375.8,636.3 1379.9,646.6 1381.6,654.1 1382.7,666.4 1382,673.2 1378.9,681.5 1379.9,688.3 1386.1,700.6 1389.5,708.1 1393.5,718.4 1395.3,724.2 1396.3,731.4 1399.1,734.8 1406.2,737.9 1408.3,742.3 1407.2,752.6 1405.2,760.1 1400.1,772.4 1398.1,780.6 1397,792.9 1393.6,799 1384.4,805.2 1381.6,809.9 1382.7,818.2 1387.1,821.6 1399.4,823.6 1402.1,827 1398.1,835.3 1397.4,842.1 1399.4,854.4 1400.8,861.8 1403.5,874.9"/>
<polyline points="1569.3,496.2 1569.3,507.2 1566.6,511.3 1558.3,515.3 1552.9,519.4 1544.6,527.7 1539.2,532.4 1530.9,538.6 1526.2,542.7 1520,548.8 1517.3,555 1515.3,567.3 1514.9,574.1 1516,582.4 1513.9,587.8 1506.7,596.1 1502.9,602.2 1498.9,612.4 1498.2,617.9 1500.2,624 1502.6,627.5 1507.7,631.5 1507.7,636.3 1502.6,646.6 1500.2,652.7 1498.2,661 1498.9,666.4 1502.9,674.7 1506.4,678.8 1512.5,682.8 1515.3,685.9 1517.3,691 1521.4,691.7 1531.7,688.6 1537.8,684.9 1546.1,676.6 1550.8,675.3 1557,679.4 1559.7,683.5 1561.7,691.8 1563.1,696.2 1565.1,701.3 1567.2,699.9 1571.3,690.7 1575.1,686.9 1582.2,684.9 1583.9,680.8 1581.9,670.5 1582.6,667.1 1586.7,667.1 1588.8,670.5 1590.8,680.8 1593.2,687.3 1598.3,696.5 1603.4,702.7 1613.7,711.9 1619.8,715.7 1628.1,717.7 1633.5,718.1 1641.8,717 1646.2,718.4 1651.3,723.5 1653.3,727.9 1654.4,736.2 1656.8,741.6 1662.9,749.9 1667,754 1673.2,758 1677.3,762.1 1683.4,770.4 1688.2,776.5 1696.4,786.8 1700.5,792.2 1704.6,798.4 1708,801.8 1714.2,805.8 1716.9,808.6 1719.6,814.1"/>
<polyline points="1399.3,870.9 1410.2,883.2 1415.6,884.6 1423.9,879.4 1427.6,875 1430.7,866.8 1430,861.4 1424.9,853.1 1421.8,849.4 1417.8,846.3 1419.1,843.6 1427.3,838.4 1432.7,838.1 1441,842.2 1445.1,847 1449.1,857.2 1452.6,864 1458.7,874.3 1462.2,881.1 1466.2,891.4 1471,896.9 1481.3,903 1487.4,907.1 1495.7,913.3 1499.8,919.4 1505.2,935.8"/>
<polyline points="1403.5,874.9 1399.3,870.9"/>
<polyline points="1505.2,935.8 1516.2,927.6 1522.3,925.3 1532.6,924.2 1538.7,921.5 1547,914.3 1551.7,909.9 1557.9,903.7 1559.2,898.3 1557.2,888 1557.9,882.5 1561.9,876.4 1564.7,876.7 1568.8,883.9 1573.6,886.6 1583.9,887.7 1589.3,889.7 1595.5,894.8 1599.6,893.1 1605.7,882.8 1611.2,878.4 1621.5,875.3 1627.6,874.6 1635.8,875.7 1639.9,873.6 1644,866.5 1644,862.4 1639.9,857.2 1641.2,853.8 1649.5,848.7 1654.9,849 1663.2,855.2 1668.6,857.2 1676.8,857.2 1680.9,853.8 1685,843.5 1689.1,837.4 1697.4,829.2 1703.5,825.5 1713.7,822.3 1717.8,818.9 1720.6,809.4"/>
<polyline points="1720.6,809.4 1734.2,810.8 1739,813.5 1743.1,820.6 1748.6,822 1760.9,818.9 1769.1,817.9 1781.4,817.9 1787.6,818.6 1793.7,820.6 1798.5,822.7 1806.7,826.8 1812.8,827.9 1823.1,826.8 1828.6,828.5 1834.7,834.7 1838.2,839.4 1842.2,847.7 1846.3,853.1 1854.6,861.4 1860,865.1 1868.2,868.2 1870.2,870.9 1867.5,877.7"/>
<polyline points="1505.2,935.8 1499.8,946.8 1499.8,953.6 1503.8,965.9 1505.2,972.1 1505.2,978.2 1507.3,979.6 1513.4,977.6 1515.8,979.6 1516.9,987.8 1515.5,991.9 1510.3,996 1507.2,1000.1 1503.2,1008.3 1500.4,1011.7 1496.4,1013.8 1495,1016.2 1495,1021.3 1498.4,1022.7 1508.7,1021.6 1514.1,1020.6 1520.3,1018.6 1523.3,1020.6 1526.4,1028.8 1527.4,1033.6 1527.4,1039.7 1529.8,1042.5 1537,1044.5 1540.8,1046.2 1544.8,1049.3 1549.6,1050.7 1559.9,1051.7 1564.7,1054.5 1568.8,1061.6 1572.2,1065 1578.4,1068.1 1582.5,1070.5 1588.6,1074.6 1593.4,1075.3 1601.6,1073.3 1607,1072.9 1615.3,1074 1619.4,1077 1623.5,1085.2 1627.6,1088.9 1635.8,1092.1 1640.6,1096.5 1646.7,1106.8 1649.5,1111.6 1652.2,1117"/>
</g>
<polygon points="166.4,652.8 165.8,649.2 161.7,647 157.8,645.1 152.2,642.3 148.9,639.8 146.1,636.4 146.1,633.9 148.9,631.1 150.6,628.4 151.9,624.1 151.4,621.1 148.6,617.6 145.3,615.1 139.7,612.3 134.8,609.6 127.8,605.4 122.2,602.1 115.2,597.9 109.8,594.3 102.8,589.4 97.8,585.3 92.2,579.7 87.8,575.3 82.2,569.7 78.3,565.3 74.2,559.7 72,555.3 70.5,549.7 70.8,545.3 73,539.7 73.2,535.3 71.8,529.7 69.8,525.3 66.4,519.7 63.1,515.3 58.1,509.7 54,505.9 48.4,501.6 45.1,498.4 42.3,494.1 42.6,490.9 46.1,486.6 48.9,483.9 52.4,481.1 53,478.4 50.8,474.1 48.6,470.6 45.2,465.7 45.2,462.9 48.6,460.4 52.8,459.3 59.8,459 64.7,459.3 70.3,460.7 73.6,463.1 76.4,468.1 78,472.5 79.5,478.7 81.7,481.8 85.8,483.2 89.4,485.2 94.3,488.6 96.8,492.2 98.4,497.8 99.1,503.9 99.4,513.6 100.2,520 101.8,526.3 104.2,529.1 108.3,529.7 110.4,527.8 111.6,522.2 111.6,517.2 110.4,510.2 110.5,504.8 112,497.8 114.2,492.2 118.3,485.2 122.2,479.8 127.8,472.8 132.8,467.2 139.8,460.2 145.2,454.8 152.2,447.8 157.2,442.5 162.8,436.3 166.7,433 170.8,430.8 176.3,429.2 186.2,427 194.4,425.7 205.6,424.3 212.5,424.6 218.7,426.7 224.2,424.5 232,416.8 238.3,412.4 246.7,408.9 251.7,406.9 255.8,405.6 261.4,407.8 271.1,414.8 278.6,420 287.6,426.3 293.1,427.4 298.1,423.9 301.9,419.8 306.9,412.8 309.1,407.8 309.7,402.2 310.8,398.1 313,393.1 315.7,390.4 320.6,388.3 327.4,387.5 340.1,387.5 348,387.8 355.8,388.5 359.6,386.9 361.7,381.9 364.1,377.8 368.4,372.2 369.7,367.8 369.1,362.2 369.6,358.4 371.7,354.1 374.7,351.7 380.3,349.6 384.1,350.2 388.4,353.6 391.6,355 395.9,355 398.1,352 399.4,344.2 402.8,339.3 409.8,334.4 411.9,331.4 410.6,328.6 411.1,326.7 413.9,324.6 416.6,324.6 420.9,326.7 424.1,330.2 428.4,337.2 431.9,341.4 436.9,344.8 440.7,344.3 445.6,339.4 450,335.3 456.3,329.7 459.9,324.8 462.7,317.8 461.9,313.4 456.9,309.1 456.6,305.9 460.9,301.6 466.9,299.7 478.1,299.1 485.8,296.9 494.2,291.9 499.7,291.1 505.3,293.9 510.8,293.4 519.2,289.1 526.4,288.1 536.1,289.4 541.6,290.8 545.9,293 550.8,291.3 559.2,285 561.7,280.3 559.6,274.7 560.7,270.6 565.6,265.7 571.4,262.7 581.1,259.9 586.1,257.7 588.9,254.9 595,254.3 607.5,255.7 615.2,254.3 622.2,249.4 627.8,246.1 634.8,242.6 640.2,239.8 647.2,236.4 651.6,232.8 655.9,227.2 659.7,223.9 665.3,221.1 670.2,220.6 677.2,221.9 683.9,221.1 693.6,217.6 699.1,214.8 703.4,211.4 704.5,208.6 703,205.2 699.8,203.5 692.8,202.8 687.8,200.8 682.2,196.7 677.2,192.5 670.2,186.3 667,181.9 665.5,176.9 666.1,172.2 668.9,165.2 670.8,160.6 673,155.7 675.7,153 680.6,150.8 685.8,151.1 694.2,153.9 699.7,156.7 705.3,160.8 710.2,161.4 717.2,158.6 722.8,157.8 729.8,158.5 735.8,160.7 744.2,165.6 750.8,169.7 759.2,175.3 763.6,180.2 766.4,187.2 765.9,192.8 761.6,199.8 759.2,204.2 757,208.3 758.1,209.4 763.1,208.1 767.5,206.7 773.7,204.6 777,205.7 779.2,210.6 779.2,215.2 777,222.2 775.1,227.5 772.3,233.7 773.7,237.3 780,240.1 785.2,242.9 792.2,247.1 797.2,249.6 802.8,251.7 808.3,252.5 816.7,252.5 820,249.8 820,242.8 821.4,238.1 824.8,233.1 829.2,230.4 837,228.3 844.4,228.1 855.6,229.4 863,229.7 870.8,229.1 874.1,225.8 874.7,218 875.3,211.2 875.9,201.3 876.2,195 876.2,188.7 873.7,185.7 867.5,184.3 865.5,181.6 867,176 870.2,171.9 877.2,166.9 883.9,165 893.6,165 900.8,167.5 909.2,173.7 915.8,176.5 924.2,177.2 930.8,177.8 939.2,178.5 944.7,180.4 950.3,184.6 953.6,188.7 956.4,195 956.4,200.2 953.6,207.2 952.8,212.8 953.5,219.8 955.7,224.7 960.6,230.3 965.2,234.2 972.2,238.3 976.4,242.8 979.8,249.8 981.2,255.8 981.2,264.2 982,269.1 984.2,273.4 986.4,273.9 989.8,271.1 992.3,267.8 995.1,262.2 998.7,260.6 1005,261.9 1011.4,264.7 1021.1,270.3 1028.8,273.6 1038.7,276.4 1046.3,278.9 1056.2,282.4 1063.3,285.4 1071.7,289.6 1077.2,291.5 1082.8,292.2 1087.8,291.1 1094.8,287.6 1099.7,285.7 1105.3,284.3 1108.9,285.7 1112.4,290.6 1114.6,295.2 1116.7,302.2 1118.6,307.8 1121.4,314.8 1125.2,316.7 1132.2,314.6 1137.8,312.7 1144.8,309.9 1149.7,309.6 1155.3,311.7 1158.6,315.2 1161.4,322.2 1163,327.8 1164.5,334.8 1163.9,339.4 1161.1,344.3 1161.4,347.3 1164.8,350.1 1168.1,349.3 1173.1,344.4 1177.8,338.6 1184.8,328.9 1190.2,325.3 1197.2,325.9 1202.2,327.6 1207.8,331.1 1210.5,333.9 1212,337.4 1214.2,338 1218.3,335.8 1220.5,332.8 1222,327.2 1224.2,323.6 1228.3,320.2 1233.8,319.1 1243.7,319.7 1250.2,320.8 1257.2,323 1262.2,326.3 1267.8,332.5 1272.8,337.8 1279.8,344.8 1283.9,349.7 1287.4,355.3 1288,359.7 1285.8,365.3 1282.8,369.7 1277.2,375.3 1273.3,379.7 1269.2,385.3 1264.8,389.1 1257.8,393.4 1252.8,396.4 1247.2,399.8 1242.2,403.1 1235.2,408.1 1230.3,411.6 1224.7,415.9 1221.7,419.4 1219.6,424.3 1220.2,427.9 1223.6,432.1 1227.2,435.7 1232.8,440.6 1237.2,443.9 1242.8,447.4 1244.5,447.4 1243,443.9 1246.9,442.8 1258.1,443.5 1264.2,445.7 1268.3,450.6 1269.5,454.7 1268,460.3 1270.2,464.1 1277.2,468.4 1282.8,471.6 1289.8,475.9 1294.7,480.8 1300.3,489.2 1305.2,495.2 1312.2,502.2 1316.9,507.5 1321.9,513.7 1324.3,519.2 1325.7,527 1325.9,532.8 1325.3,539.8 1327.2,544.7 1332.8,550.3 1337.8,554.7 1344.8,560.3 1350.2,563.9 1357.2,567.4 1361.7,568.2 1365.8,566.8 1368.6,564.3 1371.4,559.4 1374.7,554.8 1380.3,547.8 1384.2,542.2 1388.3,535.2 1392.8,530.3 1399.8,524.7 1405.2,521.1 1412.2,517.6 1418.3,514.6 1426.7,510.4 1432.2,508 1437.8,505.8 1441.1,506.6 1443.9,510.9 1446.4,513.3 1449.8,515.4 1452,515.1 1454.2,512.3 1453.9,509.3 1451.1,504.4 1450,499.8 1450,492.8 1448.9,487.8 1446.1,482.2 1441.7,478.9 1433.3,476.1 1428.9,472.2 1426.1,465.2 1424.5,459.8 1423,452.8 1420.8,447.5 1416.7,441.3 1412.8,437.4 1407.2,433.9 1405.5,430 1407,423.7 1409.2,419.6 1413.3,415.4 1417.8,414.6 1424.8,416.7 1430.8,418.6 1439.2,421.4 1446.3,423.3 1456.2,425.4 1464.4,427.6 1475.6,431.1 1483.3,433.6 1491.7,436.4 1497.2,438.1 1502.8,439.4 1506.1,442.2 1508.9,447.8 1512.8,452.2 1519.8,457.8 1524.7,461.1 1530.3,463.9 1535.2,464.2 1542.2,462 1546.1,463.1 1548.9,468.1 1549.5,472.2 1548,477.8 1548.6,481.1 1551.4,483.9 1555.2,484.4 1562.2,483.1 1567.2,484.7 1572.8,490.3 1576.1,491.4 1578.9,488.6 1582.8,486.9 1589.8,485.6 1597.5,485 1610,485 1618.3,483.9 1626.7,481.1 1632.2,477.8 1637.8,472.2 1640.5,468.4 1642,464.1 1645.2,463.1 1652.2,464.4 1657.2,467.2 1662.8,472.8 1663.9,477.2 1661.1,482.8 1661.1,487.2 1663.9,492.8 1666.1,497.8 1668.9,504.8 1667.8,509.4 1662.2,514.3 1656.2,518.1 1646.3,523.1 1641.1,526.1 1637.4,528.9 1632.7,531.4 1624.3,534.8 1621.5,537.6 1623,541.1 1626.2,544.7 1633.2,550.3 1637.7,553.6 1641.8,556.4 1645.7,557.5 1651.3,557.5 1655.7,560.2 1661.3,567.2 1665.2,572.8 1669.3,579.8 1672.1,584.7 1674.9,590.3 1678.2,594.1 1683.8,598.4 1688.2,602.2 1693.8,607.8 1698.8,611.1 1705.8,613.9 1710.2,613.4 1714.3,609.1 1718.2,605.9 1723.8,601.6 1729.3,598.9 1737.7,596.1 1742.7,595.5 1746.8,597 1748.8,596.1 1749.5,592.6 1748.4,590.4 1744.9,588.3 1741.8,587 1737.7,585.5 1736.5,583.4 1738,579.1 1740.4,576.4 1745.3,573.6 1749.7,573.6 1756,576.4 1760.2,580.2 1764.3,587.2 1767.1,592.2 1769.9,597.8 1773.2,600.5 1778.8,602 1783.2,601.7 1788.8,599.6 1792.7,600.2 1796.8,603.6 1800.7,606.6 1806.3,610.9 1810.7,613.6 1816.3,616.4 1819.6,619.7 1822.4,625.3 1825.2,628.6 1829.3,631.4 1831.8,630.9 1834,626.6 1835.6,623.9 1837.7,621.1 1841.2,620.8 1848.2,623 1854.8,624.6 1864.7,626.7 1871.2,628.6 1878.2,631.4 1882.7,633 1886.8,634.5 1890.2,633.4 1894.3,629.1 1898.2,627.8 1903.8,628.5 1906.5,631.3 1908,637.5 1909,642.2 1910.5,647.8 1912.4,651.6 1915.8,655.9 1916.4,659.1 1914.3,663.4 1912.4,666.6 1909.6,670.9 1910.2,675.2 1914.3,682.2 1917.7,688.3 1921.8,696.7 1924.6,702.8 1927.4,709.8 1930.2,714.1 1934.3,718.4 1938.2,720.8 1943.8,723 1948.8,725.4 1955.8,729.6 1961.2,732 1968.2,734.2 1972.9,736.1 1977.9,738.9 1980.3,742.8 1981.7,749.8 1983,755.8 1985.2,764.2 1987.1,770.2 1989.9,777.2 1992.4,782.5 1995.8,788.7 1996.9,793.7 1996.3,800 1993.8,804.1 1988.2,808.4 1983.2,811.6 1976.2,815.9 1970.8,819.1 1963.8,823.4 1956.4,823.9 1944.6,821.1 1935.6,819.7 1924.4,819.1 1917.2,819.6 1910.2,821.7 1907,824.1 1905.5,828.4 1906.7,831.1 1910.8,833.9 1909.8,838.3 1902.8,846.7 1896.7,853.3 1888.3,861.7 1882.2,867.2 1875.2,872.8 1871.4,877.2 1868.6,882.8 1865.8,887.8 1861.7,894.8 1856.7,899.1 1848.3,903.4 1840.6,906.9 1829.4,911.9 1821.2,915.7 1811.3,920.6 1805.6,924.7 1800.7,930.3 1798.2,934.7 1796.8,940.3 1795.9,945.2 1795.3,952.2 1794.5,957.8 1793,964.8 1792,970.2 1790.5,977.2 1789.2,982.2 1787,987.8 1786.2,992.8 1786.2,999.8 1785.4,1005.2 1783.3,1012.2 1780.8,1017.8 1776.7,1024.8 1773.3,1029.4 1769.2,1034.3 1763.7,1037.3 1753.8,1040.1 1746.7,1041.8 1738.3,1043.2 1734.2,1046.3 1732,1052.5 1730.9,1057.8 1730.3,1064.8 1728.3,1070.8 1724.2,1079.2 1720.3,1083.6 1714.7,1086.4 1708.7,1087.2 1698.8,1086.5 1692.8,1088.7 1687.2,1095 1682.8,1099.7 1677.2,1105.3 1672.8,1109.2 1667.2,1113.3 1662.2,1115.8 1655.2,1118 1650.3,1120.4 1644.7,1124.6 1639.8,1127.6 1632.8,1131.1 1627.2,1132.8 1620.2,1133.5 1615.3,1132.4 1609.7,1128.9 1605.3,1127.2 1599.7,1126.5 1594.8,1128.7 1587.8,1135 1582.8,1138 1577.2,1139.5 1572.2,1138.9 1565.2,1136.1 1559.8,1133.1 1552.8,1128.1 1546.7,1124.3 1538.3,1119.4 1532.2,1116.7 1525.2,1114.6 1520.3,1115.7 1514.7,1120.6 1509.8,1125.8 1502.8,1134.2 1499.5,1137.5 1498,1137.5 1494.8,1141.9 1487.8,1153.1 1482.8,1160.8 1477.2,1169.2 1473.3,1175.8 1469.2,1184.2 1466.1,1190.8 1462.6,1199.2 1460.1,1205.8 1457.3,1214.2 1455.4,1219.7 1453.3,1225.3 1451.1,1228 1447.6,1229.5 1444.8,1228.9 1441.4,1226.1 1439.5,1221.7 1438,1213.3 1437.5,1206.7 1437.5,1198.3 1436.7,1193.3 1434.6,1189.2 1431.9,1187.5 1426.9,1187.5 1421.7,1188.3 1413.3,1190.4 1407.2,1190.9 1400.2,1190.3 1395.3,1188.1 1389.7,1183.1 1385.3,1180.9 1379.7,1180.3 1375.8,1180.3 1371.7,1180.9 1369.2,1179.8 1367,1176.4 1366.2,1172.8 1366.2,1167.2 1364.8,1163.9 1361.4,1161.1 1357.2,1160.3 1350.2,1160.9 1345.3,1159.8 1339.7,1156.4 1335.8,1153.6 1331.7,1150.2 1327.8,1149.6 1322.2,1151.7 1317.5,1152 1311.3,1150.5 1307.4,1151.7 1303.9,1155.8 1301.4,1160.2 1298.6,1167.2 1295.8,1172.2 1291.7,1177.8 1287.8,1181.4 1282.2,1184.8 1276.7,1185.7 1268.3,1184.3 1259.5,1183.2 1245.5,1181.8 1234.5,1180.7 1220.5,1179.3 1210.6,1178.8 1199.4,1178.8 1191.7,1177.4 1183.3,1173.9 1176.7,1170.3 1168.3,1164.7 1162.8,1160.3 1157.2,1154.7 1152.8,1150.3 1147.2,1144.7 1142.2,1140.3 1135.2,1134.7 1129.8,1130.6 1122.8,1125.7 1117.2,1123.5 1110.2,1122.8 1105.8,1124.2 1101.7,1128.3 1097.8,1130.3 1092.2,1130.9 1087.2,1130.7 1080.2,1129.3 1076.3,1127.4 1073.2,1123.9 1067.2,1120.8 1054.8,1116.7 1045.6,1113.6 1034.4,1110.2 1028.3,1106.9 1024.2,1101.9 1019.2,1098.1 1010.8,1093.1 1004.8,1090.1 997.8,1087.3 992.2,1084.6 985.2,1080.4 979.8,1078 972.8,1075.8 968.1,1076.1 963.1,1078.9 960.4,1078.3 958.3,1074.2 957,1075 955.5,1081.3 951.7,1084.9 943.3,1087.7 937.2,1089.6 930.2,1091.7 925.9,1090.8 921.6,1086.7 920,1082.2 920,1075.2 917.8,1071.4 912.2,1068.6 906.7,1067.2 898.3,1066.5 893.4,1064.8 889.1,1061.4 885.3,1060.3 879.7,1060.9 876.1,1063.1 872.6,1068.1 870.9,1073.3 870.3,1081.7 870.3,1088.3 870.9,1096.7 872,1102.2 874.2,1107.8 873.9,1113.3 871.1,1121.7 869.7,1127.8 869.1,1134.8 868,1140.2 865.8,1147.2 864.7,1152.2 864.1,1157.8 865.7,1160.8 870.6,1163 872.2,1165.2 871.5,1168.6 868.7,1170.8 862.5,1173 857.2,1172.7 850.2,1169.9 844.2,1168 835.8,1165.8 830,1165.5 823.7,1167 820.7,1169.7 819.3,1175.3 817.4,1179.7 813.9,1185.3 810.3,1190.2 804.7,1197.2 800.9,1202.2 796.6,1207.8 794.5,1212.8 793,1219.8 792.8,1225.8 793.5,1234.2 792.7,1240.2 789.9,1247.2 788.5,1250.5 787.8,1252 785,1252.2 778.7,1251.5 774.3,1249 769.4,1243.4 765.9,1239.6 761.6,1235.4 757.8,1234.9 752.2,1237.7 747.2,1238.8 740.2,1238.8 734.8,1237.4 727.8,1233.9 723.9,1231.1 721.1,1227.6 718.9,1227.6 716.1,1231.1 713.9,1235 711.1,1241.3 707.2,1245.2 700.2,1248.6 695,1251.9 688.7,1256.9 684.8,1260.2 681.4,1263.6 677.2,1263.6 670.2,1260.2 664.2,1257.4 655.8,1253.9 649.2,1251.7 640.8,1249.6 633.6,1248.2 623.9,1246.8 616.7,1245.7 608.3,1244.3 602.2,1242.4 595.2,1238.9 590.6,1235.6 585.7,1230.7 584.6,1227.1 586.7,1222.9 589.4,1220.1 594.3,1217.3 595.4,1214.8 593.3,1211.4 590.9,1207.8 586.6,1202.2 582.8,1198.9 577.2,1196.1 572.2,1193.3 565.2,1189.2 560.3,1185.3 554.7,1179.7 550.3,1175.3 544.7,1169.7 539.8,1167 532.8,1165.5 528.6,1163.6 525.2,1160.2 523,1156.3 520.8,1150 518.4,1145.3 514.1,1139.7 511.4,1134.8 508.6,1127.8 505.9,1123.3 501.6,1119.2 496.7,1116.7 488.3,1114.6 483.4,1111.3 479.1,1105 476.4,1099.8 473.6,1092.8 469.8,1087.5 462.8,1081.3 457.8,1078.2 452.2,1076.8 447.5,1076.5 441.3,1077.2 438.2,1079.7 436.8,1085.3 434.3,1087 429.4,1085.5 424.8,1083.1 417.8,1078.1 412.8,1074.3 407.2,1069.4 405.3,1065.3 405.9,1059.7 405.9,1054.2 405.3,1045.8 403.4,1039.8 399.1,1032.8 394.8,1027.2 387.8,1020.2 382.2,1015.6 375.2,1010.7 368.6,1008.5 358.9,1007.8 352.5,1005.3 346.3,999.7 343,994.8 340.8,987.8 336.7,981.7 328.3,973.3 322.2,967.2 315.2,960.2 309.8,952 302.8,938 298.4,930.6 294.1,925.7 291.1,921.6 287.6,916 284.3,912.1 279.4,907.9 274.2,905.7 265.8,904.3 260.9,904.9 256.6,907.7 252.2,908.5 245.2,907.8 239.8,906.4 232.8,903.6 228.3,900.9 224.2,896.6 220.8,891.7 216.7,883.3 212.8,878.4 207.2,874.1 202.2,870.9 195.2,866.6 191.9,862.2 190.6,855.2 189.7,848.6 189.1,838.9 188.5,832 187.8,824.2 185.3,819.8 179.7,816.4 176.4,811.7 173.6,803.3 171.4,796.7 168.6,788.3 166.1,783.9 162.6,781.1 160.1,777.2 157.3,770.2 156.5,764.2 157.2,755.8 155.8,751.4 151.7,748.6 147.2,745.9 140.2,741.6 134.8,737.2 127.8,730.2 124.5,725.3 123,719.7 124.2,715.6 128.3,710.7 132.8,706.9 139.8,701.9 143.1,697.8 144.4,692.2 146.1,687.2 148.9,680.2 152.8,674.2 159.8,665.8 163.6,659.8" fill="none" stroke="url(#hatch)" stroke-width="17" stroke-linejoin="round" mask="url(#mout)"/>
<polygon points="166.4,652.8 165.8,649.2 161.7,647 157.8,645.1 152.2,642.3 148.9,639.8 146.1,636.4 146.1,633.9 148.9,631.1 150.6,628.4 151.9,624.1 151.4,621.1 148.6,617.6 145.3,615.1 139.7,612.3 134.8,609.6 127.8,605.4 122.2,602.1 115.2,597.9 109.8,594.3 102.8,589.4 97.8,585.3 92.2,579.7 87.8,575.3 82.2,569.7 78.3,565.3 74.2,559.7 72,555.3 70.5,549.7 70.8,545.3 73,539.7 73.2,535.3 71.8,529.7 69.8,525.3 66.4,519.7 63.1,515.3 58.1,509.7 54,505.9 48.4,501.6 45.1,498.4 42.3,494.1 42.6,490.9 46.1,486.6 48.9,483.9 52.4,481.1 53,478.4 50.8,474.1 48.6,470.6 45.2,465.7 45.2,462.9 48.6,460.4 52.8,459.3 59.8,459 64.7,459.3 70.3,460.7 73.6,463.1 76.4,468.1 78,472.5 79.5,478.7 81.7,481.8 85.8,483.2 89.4,485.2 94.3,488.6 96.8,492.2 98.4,497.8 99.1,503.9 99.4,513.6 100.2,520 101.8,526.3 104.2,529.1 108.3,529.7 110.4,527.8 111.6,522.2 111.6,517.2 110.4,510.2 110.5,504.8 112,497.8 114.2,492.2 118.3,485.2 122.2,479.8 127.8,472.8 132.8,467.2 139.8,460.2 145.2,454.8 152.2,447.8 157.2,442.5 162.8,436.3 166.7,433 170.8,430.8 176.3,429.2 186.2,427 194.4,425.7 205.6,424.3 212.5,424.6 218.7,426.7 224.2,424.5 232,416.8 238.3,412.4 246.7,408.9 251.7,406.9 255.8,405.6 261.4,407.8 271.1,414.8 278.6,420 287.6,426.3 293.1,427.4 298.1,423.9 301.9,419.8 306.9,412.8 309.1,407.8 309.7,402.2 310.8,398.1 313,393.1 315.7,390.4 320.6,388.3 327.4,387.5 340.1,387.5 348,387.8 355.8,388.5 359.6,386.9 361.7,381.9 364.1,377.8 368.4,372.2 369.7,367.8 369.1,362.2 369.6,358.4 371.7,354.1 374.7,351.7 380.3,349.6 384.1,350.2 388.4,353.6 391.6,355 395.9,355 398.1,352 399.4,344.2 402.8,339.3 409.8,334.4 411.9,331.4 410.6,328.6 411.1,326.7 413.9,324.6 416.6,324.6 420.9,326.7 424.1,330.2 428.4,337.2 431.9,341.4 436.9,344.8 440.7,344.3 445.6,339.4 450,335.3 456.3,329.7 459.9,324.8 462.7,317.8 461.9,313.4 456.9,309.1 456.6,305.9 460.9,301.6 466.9,299.7 478.1,299.1 485.8,296.9 494.2,291.9 499.7,291.1 505.3,293.9 510.8,293.4 519.2,289.1 526.4,288.1 536.1,289.4 541.6,290.8 545.9,293 550.8,291.3 559.2,285 561.7,280.3 559.6,274.7 560.7,270.6 565.6,265.7 571.4,262.7 581.1,259.9 586.1,257.7 588.9,254.9 595,254.3 607.5,255.7 615.2,254.3 622.2,249.4 627.8,246.1 634.8,242.6 640.2,239.8 647.2,236.4 651.6,232.8 655.9,227.2 659.7,223.9 665.3,221.1 670.2,220.6 677.2,221.9 683.9,221.1 693.6,217.6 699.1,214.8 703.4,211.4 704.5,208.6 703,205.2 699.8,203.5 692.8,202.8 687.8,200.8 682.2,196.7 677.2,192.5 670.2,186.3 667,181.9 665.5,176.9 666.1,172.2 668.9,165.2 670.8,160.6 673,155.7 675.7,153 680.6,150.8 685.8,151.1 694.2,153.9 699.7,156.7 705.3,160.8 710.2,161.4 717.2,158.6 722.8,157.8 729.8,158.5 735.8,160.7 744.2,165.6 750.8,169.7 759.2,175.3 763.6,180.2 766.4,187.2 765.9,192.8 761.6,199.8 759.2,204.2 757,208.3 758.1,209.4 763.1,208.1 767.5,206.7 773.7,204.6 777,205.7 779.2,210.6 779.2,215.2 777,222.2 775.1,227.5 772.3,233.7 773.7,237.3 780,240.1 785.2,242.9 792.2,247.1 797.2,249.6 802.8,251.7 808.3,252.5 816.7,252.5 820,249.8 820,242.8 821.4,238.1 824.8,233.1 829.2,230.4 837,228.3 844.4,228.1 855.6,229.4 863,229.7 870.8,229.1 874.1,225.8 874.7,218 875.3,211.2 875.9,201.3 876.2,195 876.2,188.7 873.7,185.7 867.5,184.3 865.5,181.6 867,176 870.2,171.9 877.2,166.9 883.9,165 893.6,165 900.8,167.5 909.2,173.7 915.8,176.5 924.2,177.2 930.8,177.8 939.2,178.5 944.7,180.4 950.3,184.6 953.6,188.7 956.4,195 956.4,200.2 953.6,207.2 952.8,212.8 953.5,219.8 955.7,224.7 960.6,230.3 965.2,234.2 972.2,238.3 976.4,242.8 979.8,249.8 981.2,255.8 981.2,264.2 982,269.1 984.2,273.4 986.4,273.9 989.8,271.1 992.3,267.8 995.1,262.2 998.7,260.6 1005,261.9 1011.4,264.7 1021.1,270.3 1028.8,273.6 1038.7,276.4 1046.3,278.9 1056.2,282.4 1063.3,285.4 1071.7,289.6 1077.2,291.5 1082.8,292.2 1087.8,291.1 1094.8,287.6 1099.7,285.7 1105.3,284.3 1108.9,285.7 1112.4,290.6 1114.6,295.2 1116.7,302.2 1118.6,307.8 1121.4,314.8 1125.2,316.7 1132.2,314.6 1137.8,312.7 1144.8,309.9 1149.7,309.6 1155.3,311.7 1158.6,315.2 1161.4,322.2 1163,327.8 1164.5,334.8 1163.9,339.4 1161.1,344.3 1161.4,347.3 1164.8,350.1 1168.1,349.3 1173.1,344.4 1177.8,338.6 1184.8,328.9 1190.2,325.3 1197.2,325.9 1202.2,327.6 1207.8,331.1 1210.5,333.9 1212,337.4 1214.2,338 1218.3,335.8 1220.5,332.8 1222,327.2 1224.2,323.6 1228.3,320.2 1233.8,319.1 1243.7,319.7 1250.2,320.8 1257.2,323 1262.2,326.3 1267.8,332.5 1272.8,337.8 1279.8,344.8 1283.9,349.7 1287.4,355.3 1288,359.7 1285.8,365.3 1282.8,369.7 1277.2,375.3 1273.3,379.7 1269.2,385.3 1264.8,389.1 1257.8,393.4 1252.8,396.4 1247.2,399.8 1242.2,403.1 1235.2,408.1 1230.3,411.6 1224.7,415.9 1221.7,419.4 1219.6,424.3 1220.2,427.9 1223.6,432.1 1227.2,435.7 1232.8,440.6 1237.2,443.9 1242.8,447.4 1244.5,447.4 1243,443.9 1246.9,442.8 1258.1,443.5 1264.2,445.7 1268.3,450.6 1269.5,454.7 1268,460.3 1270.2,464.1 1277.2,468.4 1282.8,471.6 1289.8,475.9 1294.7,480.8 1300.3,489.2 1305.2,495.2 1312.2,502.2 1316.9,507.5 1321.9,513.7 1324.3,519.2 1325.7,527 1325.9,532.8 1325.3,539.8 1327.2,544.7 1332.8,550.3 1337.8,554.7 1344.8,560.3 1350.2,563.9 1357.2,567.4 1361.7,568.2 1365.8,566.8 1368.6,564.3 1371.4,559.4 1374.7,554.8 1380.3,547.8 1384.2,542.2 1388.3,535.2 1392.8,530.3 1399.8,524.7 1405.2,521.1 1412.2,517.6 1418.3,514.6 1426.7,510.4 1432.2,508 1437.8,505.8 1441.1,506.6 1443.9,510.9 1446.4,513.3 1449.8,515.4 1452,515.1 1454.2,512.3 1453.9,509.3 1451.1,504.4 1450,499.8 1450,492.8 1448.9,487.8 1446.1,482.2 1441.7,478.9 1433.3,476.1 1428.9,472.2 1426.1,465.2 1424.5,459.8 1423,452.8 1420.8,447.5 1416.7,441.3 1412.8,437.4 1407.2,433.9 1405.5,430 1407,423.7 1409.2,419.6 1413.3,415.4 1417.8,414.6 1424.8,416.7 1430.8,418.6 1439.2,421.4 1446.3,423.3 1456.2,425.4 1464.4,427.6 1475.6,431.1 1483.3,433.6 1491.7,436.4 1497.2,438.1 1502.8,439.4 1506.1,442.2 1508.9,447.8 1512.8,452.2 1519.8,457.8 1524.7,461.1 1530.3,463.9 1535.2,464.2 1542.2,462 1546.1,463.1 1548.9,468.1 1549.5,472.2 1548,477.8 1548.6,481.1 1551.4,483.9 1555.2,484.4 1562.2,483.1 1567.2,484.7 1572.8,490.3 1576.1,491.4 1578.9,488.6 1582.8,486.9 1589.8,485.6 1597.5,485 1610,485 1618.3,483.9 1626.7,481.1 1632.2,477.8 1637.8,472.2 1640.5,468.4 1642,464.1 1645.2,463.1 1652.2,464.4 1657.2,467.2 1662.8,472.8 1663.9,477.2 1661.1,482.8 1661.1,487.2 1663.9,492.8 1666.1,497.8 1668.9,504.8 1667.8,509.4 1662.2,514.3 1656.2,518.1 1646.3,523.1 1641.1,526.1 1637.4,528.9 1632.7,531.4 1624.3,534.8 1621.5,537.6 1623,541.1 1626.2,544.7 1633.2,550.3 1637.7,553.6 1641.8,556.4 1645.7,557.5 1651.3,557.5 1655.7,560.2 1661.3,567.2 1665.2,572.8 1669.3,579.8 1672.1,584.7 1674.9,590.3 1678.2,594.1 1683.8,598.4 1688.2,602.2 1693.8,607.8 1698.8,611.1 1705.8,613.9 1710.2,613.4 1714.3,609.1 1718.2,605.9 1723.8,601.6 1729.3,598.9 1737.7,596.1 1742.7,595.5 1746.8,597 1748.8,596.1 1749.5,592.6 1748.4,590.4 1744.9,588.3 1741.8,587 1737.7,585.5 1736.5,583.4 1738,579.1 1740.4,576.4 1745.3,573.6 1749.7,573.6 1756,576.4 1760.2,580.2 1764.3,587.2 1767.1,592.2 1769.9,597.8 1773.2,600.5 1778.8,602 1783.2,601.7 1788.8,599.6 1792.7,600.2 1796.8,603.6 1800.7,606.6 1806.3,610.9 1810.7,613.6 1816.3,616.4 1819.6,619.7 1822.4,625.3 1825.2,628.6 1829.3,631.4 1831.8,630.9 1834,626.6 1835.6,623.9 1837.7,621.1 1841.2,620.8 1848.2,623 1854.8,624.6 1864.7,626.7 1871.2,628.6 1878.2,631.4 1882.7,633 1886.8,634.5 1890.2,633.4 1894.3,629.1 1898.2,627.8 1903.8,628.5 1906.5,631.3 1908,637.5 1909,642.2 1910.5,647.8 1912.4,651.6 1915.8,655.9 1916.4,659.1 1914.3,663.4 1912.4,666.6 1909.6,670.9 1910.2,675.2 1914.3,682.2 1917.7,688.3 1921.8,696.7 1924.6,702.8 1927.4,709.8 1930.2,714.1 1934.3,718.4 1938.2,720.8 1943.8,723 1948.8,725.4 1955.8,729.6 1961.2,732 1968.2,734.2 1972.9,736.1 1977.9,738.9 1980.3,742.8 1981.7,749.8 1983,755.8 1985.2,764.2 1987.1,770.2 1989.9,777.2 1992.4,782.5 1995.8,788.7 1996.9,793.7 1996.3,800 1993.8,804.1 1988.2,808.4 1983.2,811.6 1976.2,815.9 1970.8,819.1 1963.8,823.4 1956.4,823.9 1944.6,821.1 1935.6,819.7 1924.4,819.1 1917.2,819.6 1910.2,821.7 1907,824.1 1905.5,828.4 1906.7,831.1 1910.8,833.9 1909.8,838.3 1902.8,846.7 1896.7,853.3 1888.3,861.7 1882.2,867.2 1875.2,872.8 1871.4,877.2 1868.6,882.8 1865.8,887.8 1861.7,894.8 1856.7,899.1 1848.3,903.4 1840.6,906.9 1829.4,911.9 1821.2,915.7 1811.3,920.6 1805.6,924.7 1800.7,930.3 1798.2,934.7 1796.8,940.3 1795.9,945.2 1795.3,952.2 1794.5,957.8 1793,964.8 1792,970.2 1790.5,977.2 1789.2,982.2 1787,987.8 1786.2,992.8 1786.2,999.8 1785.4,1005.2 1783.3,1012.2 1780.8,1017.8 1776.7,1024.8 1773.3,1029.4 1769.2,1034.3 1763.7,1037.3 1753.8,1040.1 1746.7,1041.8 1738.3,1043.2 1734.2,1046.3 1732,1052.5 1730.9,1057.8 1730.3,1064.8 1728.3,1070.8 1724.2,1079.2 1720.3,1083.6 1714.7,1086.4 1708.7,1087.2 1698.8,1086.5 1692.8,1088.7 1687.2,1095 1682.8,1099.7 1677.2,1105.3 1672.8,1109.2 1667.2,1113.3 1662.2,1115.8 1655.2,1118 1650.3,1120.4 1644.7,1124.6 1639.8,1127.6 1632.8,1131.1 1627.2,1132.8 1620.2,1133.5 1615.3,1132.4 1609.7,1128.9 1605.3,1127.2 1599.7,1126.5 1594.8,1128.7 1587.8,1135 1582.8,1138 1577.2,1139.5 1572.2,1138.9 1565.2,1136.1 1559.8,1133.1 1552.8,1128.1 1546.7,1124.3 1538.3,1119.4 1532.2,1116.7 1525.2,1114.6 1520.3,1115.7 1514.7,1120.6 1509.8,1125.8 1502.8,1134.2 1499.5,1137.5 1498,1137.5 1494.8,1141.9 1487.8,1153.1 1482.8,1160.8 1477.2,1169.2 1473.3,1175.8 1469.2,1184.2 1466.1,1190.8 1462.6,1199.2 1460.1,1205.8 1457.3,1214.2 1455.4,1219.7 1453.3,1225.3 1451.1,1228 1447.6,1229.5 1444.8,1228.9 1441.4,1226.1 1439.5,1221.7 1438,1213.3 1437.5,1206.7 1437.5,1198.3 1436.7,1193.3 1434.6,1189.2 1431.9,1187.5 1426.9,1187.5 1421.7,1188.3 1413.3,1190.4 1407.2,1190.9 1400.2,1190.3 1395.3,1188.1 1389.7,1183.1 1385.3,1180.9 1379.7,1180.3 1375.8,1180.3 1371.7,1180.9 1369.2,1179.8 1367,1176.4 1366.2,1172.8 1366.2,1167.2 1364.8,1163.9 1361.4,1161.1 1357.2,1160.3 1350.2,1160.9 1345.3,1159.8 1339.7,1156.4 1335.8,1153.6 1331.7,1150.2 1327.8,1149.6 1322.2,1151.7 1317.5,1152 1311.3,1150.5 1307.4,1151.7 1303.9,1155.8 1301.4,1160.2 1298.6,1167.2 1295.8,1172.2 1291.7,1177.8 1287.8,1181.4 1282.2,1184.8 1276.7,1185.7 1268.3,1184.3 1259.5,1183.2 1245.5,1181.8 1234.5,1180.7 1220.5,1179.3 1210.6,1178.8 1199.4,1178.8 1191.7,1177.4 1183.3,1173.9 1176.7,1170.3 1168.3,1164.7 1162.8,1160.3 1157.2,1154.7 1152.8,1150.3 1147.2,1144.7 1142.2,1140.3 1135.2,1134.7 1129.8,1130.6 1122.8,1125.7 1117.2,1123.5 1110.2,1122.8 1105.8,1124.2 1101.7,1128.3 1097.8,1130.3 1092.2,1130.9 1087.2,1130.7 1080.2,1129.3 1076.3,1127.4 1073.2,1123.9 1067.2,1120.8 1054.8,1116.7 1045.6,1113.6 1034.4,1110.2 1028.3,1106.9 1024.2,1101.9 1019.2,1098.1 1010.8,1093.1 1004.8,1090.1 997.8,1087.3 992.2,1084.6 985.2,1080.4 979.8,1078 972.8,1075.8 968.1,1076.1 963.1,1078.9 960.4,1078.3 958.3,1074.2 957,1075 955.5,1081.3 951.7,1084.9 943.3,1087.7 937.2,1089.6 930.2,1091.7 925.9,1090.8 921.6,1086.7 920,1082.2 920,1075.2 917.8,1071.4 912.2,1068.6 906.7,1067.2 898.3,1066.5 893.4,1064.8 889.1,1061.4 885.3,1060.3 879.7,1060.9 876.1,1063.1 872.6,1068.1 870.9,1073.3 870.3,1081.7 870.3,1088.3 870.9,1096.7 872,1102.2 874.2,1107.8 873.9,1113.3 871.1,1121.7 869.7,1127.8 869.1,1134.8 868,1140.2 865.8,1147.2 864.7,1152.2 864.1,1157.8 865.7,1160.8 870.6,1163 872.2,1165.2 871.5,1168.6 868.7,1170.8 862.5,1173 857.2,1172.7 850.2,1169.9 844.2,1168 835.8,1165.8 830,1165.5 823.7,1167 820.7,1169.7 819.3,1175.3 817.4,1179.7 813.9,1185.3 810.3,1190.2 804.7,1197.2 800.9,1202.2 796.6,1207.8 794.5,1212.8 793,1219.8 792.8,1225.8 793.5,1234.2 792.7,1240.2 789.9,1247.2 788.5,1250.5 787.8,1252 785,1252.2 778.7,1251.5 774.3,1249 769.4,1243.4 765.9,1239.6 761.6,1235.4 757.8,1234.9 752.2,1237.7 747.2,1238.8 740.2,1238.8 734.8,1237.4 727.8,1233.9 723.9,1231.1 721.1,1227.6 718.9,1227.6 716.1,1231.1 713.9,1235 711.1,1241.3 707.2,1245.2 700.2,1248.6 695,1251.9 688.7,1256.9 684.8,1260.2 681.4,1263.6 677.2,1263.6 670.2,1260.2 664.2,1257.4 655.8,1253.9 649.2,1251.7 640.8,1249.6 633.6,1248.2 623.9,1246.8 616.7,1245.7 608.3,1244.3 602.2,1242.4 595.2,1238.9 590.6,1235.6 585.7,1230.7 584.6,1227.1 586.7,1222.9 589.4,1220.1 594.3,1217.3 595.4,1214.8 593.3,1211.4 590.9,1207.8 586.6,1202.2 582.8,1198.9 577.2,1196.1 572.2,1193.3 565.2,1189.2 560.3,1185.3 554.7,1179.7 550.3,1175.3 544.7,1169.7 539.8,1167 532.8,1165.5 528.6,1163.6 525.2,1160.2 523,1156.3 520.8,1150 518.4,1145.3 514.1,1139.7 511.4,1134.8 508.6,1127.8 505.9,1123.3 501.6,1119.2 496.7,1116.7 488.3,1114.6 483.4,1111.3 479.1,1105 476.4,1099.8 473.6,1092.8 469.8,1087.5 462.8,1081.3 457.8,1078.2 452.2,1076.8 447.5,1076.5 441.3,1077.2 438.2,1079.7 436.8,1085.3 434.3,1087 429.4,1085.5 424.8,1083.1 417.8,1078.1 412.8,1074.3 407.2,1069.4 405.3,1065.3 405.9,1059.7 405.9,1054.2 405.3,1045.8 403.4,1039.8 399.1,1032.8 394.8,1027.2 387.8,1020.2 382.2,1015.6 375.2,1010.7 368.6,1008.5 358.9,1007.8 352.5,1005.3 346.3,999.7 343,994.8 340.8,987.8 336.7,981.7 328.3,973.3 322.2,967.2 315.2,960.2 309.8,952 302.8,938 298.4,930.6 294.1,925.7 291.1,921.6 287.6,916 284.3,912.1 279.4,907.9 274.2,905.7 265.8,904.3 260.9,904.9 256.6,907.7 252.2,908.5 245.2,907.8 239.8,906.4 232.8,903.6 228.3,900.9 224.2,896.6 220.8,891.7 216.7,883.3 212.8,878.4 207.2,874.1 202.2,870.9 195.2,866.6 191.9,862.2 190.6,855.2 189.7,848.6 189.1,838.9 188.5,832 187.8,824.2 185.3,819.8 179.7,816.4 176.4,811.7 173.6,803.3 171.4,796.7 168.6,788.3 166.1,783.9 162.6,781.1 160.1,777.2 157.3,770.2 156.5,764.2 157.2,755.8 155.8,751.4 151.7,748.6 147.2,745.9 140.2,741.6 134.8,737.2 127.8,730.2 124.5,725.3 123,719.7 124.2,715.6 128.3,710.7 132.8,706.9 139.8,701.9 143.1,697.8 144.4,692.2 146.1,687.2 148.9,680.2 152.8,674.2 159.8,665.8 163.6,659.8" fill="none" stroke="#1b3f86" stroke-width="3.5" stroke-linejoin="round"/>
<!-- logo -->
<g fill="#0d3a8c"><circle cx="1937" cy="38.5" r="17"/><path d="M1971.5 21.5 A17 17 0 0 0 1971.5 55.5 Z"/><circle cx="2006.5" cy="38.5" r="17"/></g>
<!-- legend -->
<g stroke="#6e6e6e" stroke-width="2.5">
<rect x="104.5" y="1343" width="68" height="34" fill="#ffffff"/>
<rect x="172.5" y="1343" width="68" height="34" fill="#ffff00"/>
<rect x="240.5" y="1343" width="68" height="34" fill="#ffcc00"/>
<rect x="308.5" y="1343" width="68" height="34" fill="#ff9900"/>
<rect x="376.5" y="1343" width="68" height="34" fill="#ff6600"/>
<rect x="444.5" y="1343" width="68" height="34" fill="#ff3300"/>
<rect x="512.5" y="1343" width="68" height="34" fill="#d40000"/>
</g>
</svg>
<div class="t" id="title">Počet tropických dnů v roce 2022</div>
<div class="t" id="sub">data k 5. 9. 2022</div>
<div class="t" id="logo">Český<br>hydrometeorologický<br>ústav</div>
<div class="t" id="leg">Počet dnů</div>
<div class="n" style="left:172px">0</div><div class="n" style="left:239px">5</div><div class="n" style="left:308px">10</div><div class="n" style="left:378px">15</div><div class="n" style="left:445px">20</div><div class="n" style="left:513px">25</div>
<div class="t" id="www">www.chmi.cz</div>
</body></html>
